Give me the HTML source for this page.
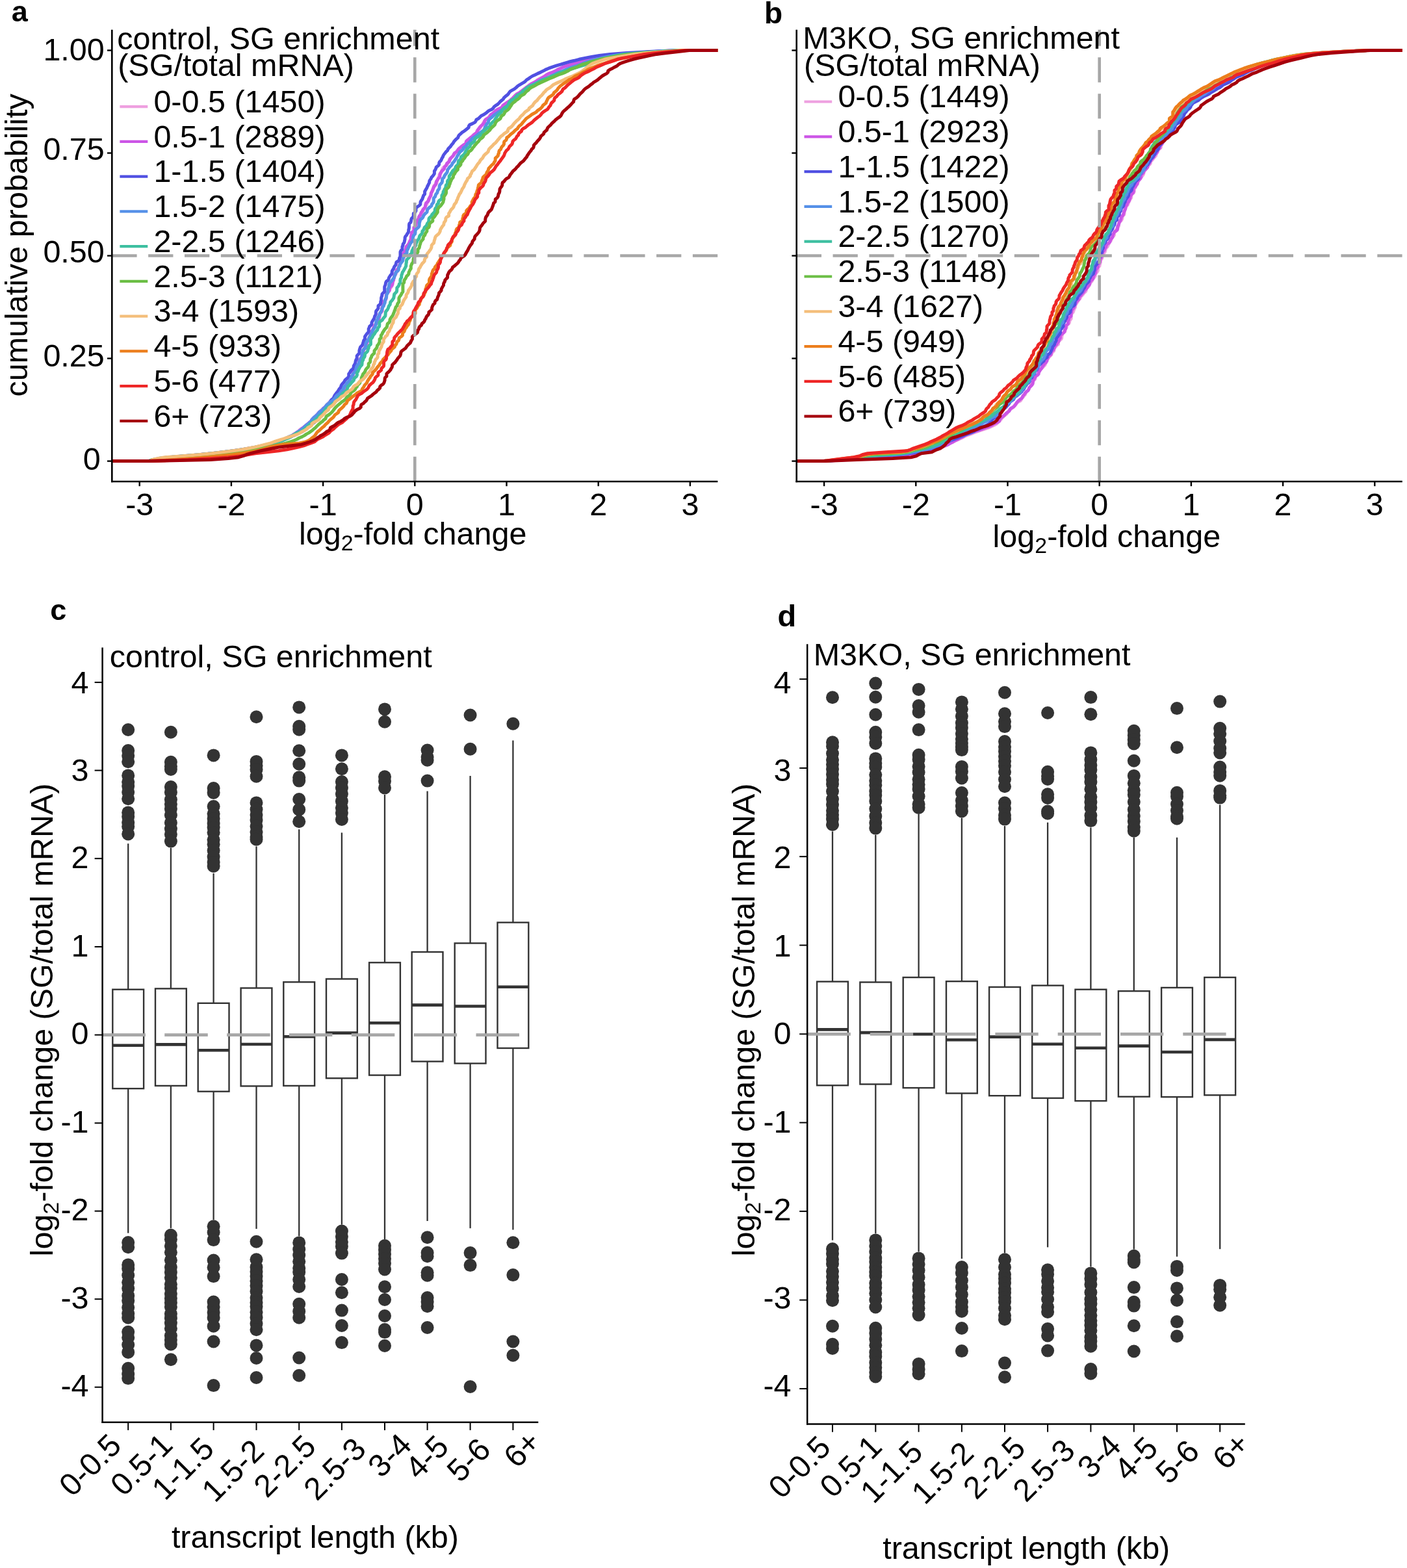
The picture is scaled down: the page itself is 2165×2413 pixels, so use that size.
<!DOCTYPE html>
<html><head><meta charset="utf-8"><title>Figure</title>
<style>html,body{margin:0;padding:0;background:#fff;} svg{display:block;} text{font-family:'Liberation Sans', Arial, Helvetica, sans-serif;fill:#000;}</style>
</head><body>
<svg xmlns="http://www.w3.org/2000/svg" width="2165" height="2413" viewBox="0 0 2165 2413">
<rect width="2165" height="2413" fill="#fff"/>
<g fill="none" stroke-width="5.0" stroke-linejoin="round" stroke-linecap="butt">
<path d="M172.5,709.6 L229.7,709.6 L229.7,709.6 L235.6,707.6 L247.0,705.6 L260.7,703.7 L283.4,701.7 L305.7,699.7 L326.5,697.7 L344.0,695.8 L359.5,693.8 L372.4,691.8 L384.0,689.8 L395.0,687.9 L404.1,685.9 L412.9,683.9 L420.2,681.9 L427.4,680.0 L433.7,678.0 L438.1,676.0 L441.8,674.0 L446.3,672.1 L449.5,670.1 L451.7,668.1 L455.5,666.1 L458.9,664.2 L460.4,662.2 L463.0,660.2 L466.3,658.2 L468.6,656.3 L470.4,654.3 L473.4,652.3 L476.8,650.3 L478.6,648.4 L479.6,646.4 L481.8,644.4 L484.4,642.4 L485.9,640.5 L487.6,638.5 L490.2,636.5 L491.7,634.5 L492.6,632.6 L495.0,630.6 L497.7,628.6 L500.2,626.6 L501.5,624.7 L502.7,622.7 L505.1,620.7 L506.7,618.7 L509.4,616.8 L512.8,614.8 L514.4,612.8 L516.9,610.8 L519.8,608.9 L521.4,606.9 L523.0,604.9 L525.0,602.9 L525.8,601.0 L527.3,599.0 L529.9,597.0 L530.1,595.0 L531.5,593.1 L533.8,591.1 L535.4,589.1 L536.7,587.1 L537.6,585.2 L539.3,583.2 L540.1,581.2 L541.4,579.2 L543.0,577.3 L544.1,575.3 L545.0,573.3 L546.4,571.3 L548.0,569.4 L548.3,567.4 L549.2,565.4 L551.0,563.4 L552.5,561.5 L552.5,559.5 L552.5,557.5 L554.1,555.5 L554.4,553.6 L554.4,551.6 L555.9,549.6 L556.5,547.6 L556.9,545.6 L559.1,543.7 L559.1,541.7 L559.1,539.7 L559.5,537.7 L560.6,535.8 L563.0,533.8 L564.8,531.8 L564.8,529.8 L564.8,527.9 L565.4,525.9 L567.5,523.9 L568.3,521.9 L568.3,520.0 L568.7,518.0 L570.0,516.0 L570.7,514.0 L571.2,512.1 L572.5,510.1 L574.0,508.1 L574.6,506.1 L575.3,504.2 L575.5,502.2 L576.3,500.2 L578.6,498.2 L579.6,496.3 L579.6,494.3 L580.7,492.3 L582.7,490.3 L583.9,488.4 L584.5,486.4 L584.5,484.4 L584.5,482.4 L585.6,480.5 L588.5,478.5 L588.5,476.5 L588.5,474.5 L588.5,472.6 L588.9,470.6 L589.1,468.6 L590.0,466.6 L590.9,464.7 L592.4,462.7 L593.0,460.7 L593.7,458.7 L594.2,456.8 L594.7,454.8 L594.7,452.8 L594.7,450.8 L597.1,448.9 L598.6,446.9 L599.6,444.9 L601.2,442.9 L602.6,441.0 L603.6,439.0 L604.3,437.0 L604.6,435.0 L604.6,433.1 L604.8,431.1 L605.6,429.1 L606.2,427.1 L606.9,425.2 L608.2,423.2 L609.4,421.2 L610.1,419.2 L610.1,417.3 L610.6,415.3 L612.6,413.3 L614.1,411.3 L615.1,409.4 L615.1,407.4 L615.1,405.4 L617.4,403.4 L619.1,401.5 L619.8,399.5 L621.4,397.5 L621.4,395.5 L621.4,393.6 L622.4,391.6 L623.3,389.6 L624.3,387.6 L625.0,385.6 L625.8,383.7 L625.8,381.7 L626.5,379.7 L627.9,377.7 L629.0,375.8 L630.1,373.8 L631.3,371.8 L632.9,369.8 L633.7,367.9 L634.3,365.9 L635.0,363.9 L635.5,361.9 L636.2,360.0 L637.0,358.0 L638.2,356.0 L639.3,354.0 L640.2,352.1 L640.3,350.1 L641.3,348.1 L642.4,346.1 L642.4,344.2 L643.5,342.2 L644.4,340.2 L645.5,338.2 L646.4,336.3 L646.5,334.3 L647.2,332.3 L649.4,330.3 L650.7,328.4 L650.7,326.4 L651.1,324.4 L651.8,322.4 L653.7,320.5 L654.6,318.5 L654.8,316.5 L656.8,314.5 L656.8,312.6 L657.3,310.6 L659.5,308.6 L660.4,306.6 L660.8,304.7 L661.9,302.7 L662.7,300.7 L663.2,298.7 L663.8,296.8 L664.8,294.8 L665.2,292.8 L666.1,290.8 L667.3,288.9 L667.3,286.9 L668.5,284.9 L671.0,282.9 L672.3,281.0 L672.3,279.0 L673.0,277.0 L674.0,275.0 L674.6,273.1 L676.0,271.1 L676.0,269.1 L677.0,267.1 L678.9,265.2 L679.5,263.2 L680.5,261.2 L681.2,259.2 L682.8,257.3 L685.3,255.3 L688.1,253.3 L688.9,251.3 L690.0,249.4 L691.3,247.4 L691.3,245.4 L693.0,243.4 L695.9,241.5 L697.3,239.5 L699.0,237.5 L701.4,235.5 L702.6,233.5 L703.4,231.6 L705.7,229.6 L708.4,227.6 L710.2,225.6 L712.9,223.7 L716.0,221.7 L717.2,219.7 L718.5,217.7 L721.2,215.8 L723.0,213.8 L725.0,211.8 L726.3,209.8 L728.1,207.9 L731.3,205.9 L733.2,203.9 L733.6,201.9 L735.3,200.0 L738.1,198.0 L739.5,196.0 L740.0,194.0 L742.1,192.1 L743.2,190.1 L744.1,188.1 L746.3,186.1 L747.0,184.2 L749.5,182.2 L752.4,180.2 L753.4,178.2 L755.9,176.3 L758.9,174.3 L760.2,172.3 L762.8,170.3 L766.7,168.4 L770.0,166.4 L772.4,164.4 L774.6,162.4 L777.2,160.5 L779.5,158.5 L782.2,156.5 L784.8,154.5 L786.7,152.6 L789.4,150.6 L791.0,148.6 L792.8,146.6 L796.7,144.7 L799.8,142.7 L801.4,140.7 L804.1,138.7 L806.7,136.8 L809.5,134.8 L812.3,132.8 L815.2,130.8 L817.8,128.9 L821.4,126.9 L825.2,124.9 L826.9,122.9 L830.4,121.0 L834.6,119.0 L838.3,117.0 L841.6,115.0 L845.5,113.1 L852.1,111.1 L855.1,109.1 L857.4,107.1 L862.2,105.2 L866.9,103.2 L871.3,101.2 L876.5,99.2 L883.9,97.3 L891.1,95.3 L899.1,93.3 L906.9,91.3 L915.4,89.4 L928.2,87.4 L940.0,85.4 L952.3,83.4 L975.5,81.5 L1006.5,79.5 L1040.4,77.5 L1104.4,77.5" stroke="#EEA0E0"/>
<path d="M172.5,709.6 L229.7,709.6 L229.7,709.6 L235.4,707.6 L246.6,705.6 L261.2,703.7 L285.1,701.7 L306.4,699.7 L325.4,697.7 L342.6,695.8 L358.4,693.8 L373.5,691.8 L384.7,689.8 L394.5,687.9 L403.0,685.9 L411.6,683.9 L420.1,681.9 L427.9,680.0 L434.5,678.0 L438.7,676.0 L442.5,674.0 L446.3,672.1 L450.3,670.1 L453.2,668.1 L455.7,666.1 L458.8,664.2 L461.5,662.2 L463.8,660.2 L466.5,658.2 L469.0,656.3 L471.9,654.3 L473.7,652.3 L475.8,650.3 L478.4,648.4 L479.5,646.4 L481.0,644.4 L483.0,642.4 L485.4,640.5 L487.4,638.5 L489.1,636.5 L491.0,634.5 L494.3,632.6 L496.5,630.6 L497.2,628.6 L499.7,626.6 L502.1,624.7 L504.0,622.7 L506.6,620.7 L508.2,618.7 L509.0,616.8 L511.1,614.8 L514.6,612.8 L516.7,610.8 L518.6,608.9 L521.3,606.9 L522.7,604.9 L524.7,602.9 L527.6,601.0 L529.2,599.0 L530.5,597.0 L532.0,595.0 L534.1,593.1 L535.1,591.1 L535.2,589.1 L536.8,587.1 L537.7,585.2 L537.8,583.2 L539.0,581.2 L541.3,579.2 L543.2,577.3 L543.3,575.3 L543.3,573.3 L544.8,571.3 L546.8,569.4 L547.9,567.4 L549.3,565.4 L551.0,563.4 L551.6,561.5 L552.1,559.5 L552.2,557.5 L552.2,555.5 L553.6,553.6 L555.4,551.6 L556.5,549.6 L557.2,547.6 L558.1,545.6 L558.9,543.7 L558.9,541.7 L558.9,539.7 L560.2,537.7 L561.8,535.8 L561.8,533.8 L562.6,531.8 L564.0,529.8 L564.1,527.9 L565.4,525.9 L566.8,523.9 L566.8,521.9 L567.8,520.0 L569.6,518.0 L569.6,516.0 L570.2,514.0 L570.4,512.1 L571.1,510.1 L573.3,508.1 L574.2,506.1 L574.9,504.2 L576.1,502.2 L577.2,500.2 L578.8,498.2 L579.6,496.3 L579.8,494.3 L581.0,492.3 L583.1,490.3 L583.4,488.4 L583.4,486.4 L583.5,484.4 L584.8,482.4 L586.7,480.5 L587.4,478.5 L587.7,476.5 L587.7,474.5 L588.3,472.6 L589.9,470.6 L589.9,468.6 L589.9,466.6 L590.5,464.7 L591.9,462.7 L593.8,460.7 L594.2,458.7 L594.2,456.8 L594.3,454.8 L594.6,452.8 L595.1,450.8 L597.9,448.9 L599.4,446.9 L599.4,444.9 L599.6,442.9 L601.2,441.0 L603.1,439.0 L603.7,437.0 L603.9,435.0 L604.6,433.1 L605.7,431.1 L605.9,429.1 L606.7,427.1 L606.7,425.2 L606.7,423.2 L607.9,421.2 L609.3,419.2 L609.6,417.3 L610.7,415.3 L612.7,413.3 L613.5,411.3 L613.9,409.4 L614.9,407.4 L615.8,405.4 L615.8,403.4 L616.0,401.5 L618.1,399.5 L618.4,397.5 L618.6,395.5 L619.8,393.6 L620.1,391.6 L620.6,389.6 L622.0,387.6 L623.6,385.6 L624.6,383.7 L624.6,381.7 L625.0,379.7 L626.9,377.7 L628.5,375.8 L629.5,373.8 L630.3,371.8 L631.4,369.8 L632.2,367.9 L632.2,365.9 L632.3,363.9 L633.1,361.9 L633.1,360.0 L633.1,358.0 L635.9,356.0 L636.9,354.0 L636.9,352.1 L636.9,350.1 L638.9,348.1 L639.9,346.1 L640.0,344.2 L640.7,342.2 L641.2,340.2 L642.8,338.2 L644.2,336.3 L644.3,334.3 L645.3,332.3 L647.0,330.3 L647.6,328.4 L648.5,326.4 L650.0,324.4 L650.9,322.4 L652.7,320.5 L654.3,318.5 L654.6,316.5 L654.9,314.5 L655.6,312.6 L658.3,310.6 L659.3,308.6 L659.6,306.6 L660.8,304.7 L661.7,302.7 L663.1,300.7 L663.1,298.7 L663.4,296.8 L664.7,294.8 L665.7,292.8 L666.4,290.8 L667.0,288.9 L668.2,286.9 L670.0,284.9 L670.9,282.9 L670.9,281.0 L671.6,279.0 L673.1,277.0 L674.2,275.0 L676.2,273.1 L676.9,271.1 L677.0,269.1 L677.7,267.1 L678.7,265.2 L680.0,263.2 L682.2,261.2 L683.9,259.2 L684.0,257.3 L686.1,255.3 L687.0,253.3 L687.8,251.3 L690.5,249.4 L691.7,247.4 L692.5,245.4 L693.7,243.4 L695.3,241.5 L697.5,239.5 L698.2,237.5 L699.4,235.5 L702.6,233.5 L704.5,231.6 L705.3,229.6 L707.5,227.6 L710.0,225.6 L712.5,223.7 L715.7,221.7 L717.2,219.7 L717.3,217.7 L719.1,215.8 L721.5,213.8 L723.9,211.8 L727.2,209.8 L729.0,207.9 L731.1,205.9 L733.6,203.9 L734.7,201.9 L735.2,200.0 L736.7,198.0 L738.0,196.0 L740.0,194.0 L742.3,192.1 L744.0,190.1 L745.6,188.1 L745.6,186.1 L747.1,184.2 L750.5,182.2 L753.1,180.2 L754.3,178.2 L755.4,176.3 L758.5,174.3 L761.1,172.3 L763.0,170.3 L765.7,168.4 L770.5,166.4 L773.2,164.4 L773.7,162.4 L776.2,160.5 L779.2,158.5 L782.5,156.5 L785.4,154.5 L787.6,152.6 L789.5,150.6 L791.5,148.6 L793.6,146.6 L795.2,144.7 L799.2,142.7 L802.4,140.7 L804.5,138.7 L807.3,136.8 L809.5,134.8 L812.4,132.8 L814.7,130.8 L817.8,128.9 L821.9,126.9 L825.5,124.9 L828.9,122.9 L832.4,121.0 L835.7,119.0 L838.7,117.0 L841.2,115.0 L844.7,113.1 L850.5,111.1 L854.8,109.1 L858.5,107.1 L862.6,105.2 L866.6,103.2 L873.1,101.2 L879.5,99.2 L885.4,97.3 L892.1,95.3 L898.4,93.3 L905.1,91.3 L914.6,89.4 L925.7,87.4 L936.8,85.4 L952.8,83.4 L977.2,81.5 L1007.3,79.5 L1040.5,77.5 L1104.4,77.5" stroke="#CC55E6"/>
<path d="M172.5,709.6 L230.7,709.6 L230.7,709.6 L236.3,707.6 L248.3,705.6 L268.3,703.7 L291.6,701.7 L313.8,699.7 L334.3,697.7 L353.0,695.8 L367.9,693.8 L380.4,691.8 L390.5,689.8 L398.9,687.9 L406.7,685.9 L414.8,683.9 L422.2,681.9 L427.7,680.0 L432.5,678.0 L436.8,676.0 L442.7,674.0 L448.0,672.1 L452.1,670.1 L456.6,668.1 L460.7,666.1 L465.0,664.2 L467.5,662.2 L470.7,660.2 L473.0,658.2 L475.6,656.3 L477.9,654.3 L479.8,652.3 L483.5,650.3 L485.4,648.4 L486.6,646.4 L487.8,644.4 L489.5,642.4 L492.1,640.5 L494.4,638.5 L495.2,636.5 L495.5,634.5 L497.6,632.6 L499.0,630.6 L499.8,628.6 L501.7,626.6 L503.8,624.7 L505.7,622.7 L506.9,620.7 L508.3,618.7 L509.0,616.8 L510.5,614.8 L512.9,612.8 L513.9,610.8 L514.8,608.9 L516.1,606.9 L517.6,604.9 L519.4,602.9 L520.6,601.0 L521.8,599.0 L523.6,597.0 L524.7,595.0 L525.1,593.1 L526.5,591.1 L528.5,589.1 L530.0,587.1 L530.8,585.2 L533.0,583.2 L535.4,581.2 L536.7,579.2 L536.7,577.3 L536.7,575.3 L538.4,573.3 L539.3,571.3 L540.7,569.4 L543.3,567.4 L544.2,565.4 L544.2,563.4 L545.1,561.5 L546.4,559.5 L546.9,557.5 L547.2,555.5 L547.9,553.6 L549.2,551.6 L549.2,549.6 L549.2,547.6 L550.9,545.6 L552.9,543.7 L552.9,541.7 L552.9,539.7 L553.4,537.7 L554.0,535.8 L554.7,533.8 L557.0,531.8 L558.1,529.8 L558.6,527.9 L559.3,525.9 L559.7,523.9 L561.5,521.9 L561.5,520.0 L561.5,518.0 L562.9,516.0 L564.2,514.0 L566.1,512.1 L567.2,510.1 L567.2,508.1 L567.2,506.1 L568.1,504.2 L568.7,502.2 L571.2,500.2 L572.0,498.2 L572.0,496.3 L573.0,494.3 L574.3,492.3 L575.7,490.3 L576.2,488.4 L576.7,486.4 L578.1,484.4 L578.4,482.4 L578.4,480.5 L578.8,478.5 L580.7,476.5 L582.0,474.5 L582.0,472.6 L582.1,470.6 L584.8,468.6 L585.7,466.6 L585.7,464.7 L586.4,462.7 L586.6,460.7 L586.6,458.7 L587.1,456.8 L587.9,454.8 L587.9,452.8 L589.5,450.8 L591.7,448.9 L591.7,446.9 L591.7,444.9 L591.7,442.9 L591.8,441.0 L592.8,439.0 L593.3,437.0 L593.6,435.0 L594.5,433.1 L597.4,431.1 L598.1,429.1 L598.6,427.1 L599.9,425.2 L601.2,423.2 L602.8,421.2 L603.2,419.2 L603.3,417.3 L604.4,415.3 L605.8,413.3 L606.3,411.3 L607.5,409.4 L609.1,407.4 L609.4,405.4 L610.0,403.4 L613.1,401.5 L614.5,399.5 L614.5,397.5 L615.6,395.5 L616.0,393.6 L616.0,391.6 L616.0,389.6 L616.0,387.6 L617.0,385.6 L619.0,383.7 L619.0,381.7 L619.0,379.7 L620.0,377.7 L620.1,375.8 L621.6,373.8 L622.3,371.8 L622.7,369.8 L623.1,367.9 L623.1,365.9 L623.8,363.9 L625.6,361.9 L626.5,360.0 L628.0,358.0 L628.7,356.0 L628.7,354.0 L629.2,352.1 L629.5,350.1 L629.5,348.1 L629.5,346.1 L629.8,344.2 L632.0,342.2 L632.5,340.2 L632.7,338.2 L633.3,336.3 L635.3,334.3 L636.2,332.3 L636.2,330.3 L636.3,328.4 L639.0,326.4 L640.0,324.4 L640.0,322.4 L640.0,320.5 L641.9,318.5 L644.9,316.5 L646.8,314.5 L646.9,312.6 L647.1,310.6 L648.3,308.6 L649.8,306.6 L650.3,304.7 L651.1,302.7 L651.7,300.7 L653.6,298.7 L653.6,296.8 L653.6,294.8 L654.7,292.8 L655.8,290.8 L657.0,288.9 L657.6,286.9 L658.8,284.9 L659.6,282.9 L660.7,281.0 L660.7,279.0 L661.6,277.0 L663.2,275.0 L663.8,273.1 L665.8,271.1 L667.2,269.1 L668.4,267.1 L668.4,265.2 L668.4,263.2 L669.8,261.2 L670.8,259.2 L671.2,257.3 L673.9,255.3 L675.6,253.3 L675.6,251.3 L676.2,249.4 L678.3,247.4 L679.3,245.4 L680.1,243.4 L681.4,241.5 L682.0,239.5 L683.3,237.5 L684.9,235.5 L686.4,233.5 L688.6,231.6 L689.3,229.6 L690.9,227.6 L693.1,225.6 L694.3,223.7 L696.0,221.7 L697.5,219.7 L698.6,217.7 L700.4,215.8 L702.3,213.8 L704.7,211.8 L705.3,209.8 L706.5,207.9 L708.8,205.9 L710.8,203.9 L714.1,201.9 L716.5,200.0 L719.0,198.0 L721.3,196.0 L721.4,194.0 L722.7,192.1 L727.2,190.1 L730.9,188.1 L732.3,186.1 L732.9,184.2 L736.5,182.2 L738.7,180.2 L740.5,178.2 L744.5,176.3 L747.4,174.3 L749.8,172.3 L752.4,170.3 L756.4,168.4 L759.0,166.4 L760.1,164.4 L762.7,162.4 L765.8,160.5 L767.9,158.5 L769.5,156.5 L771.9,154.5 L774.3,152.6 L775.3,150.6 L777.5,148.6 L780.1,146.6 L782.1,144.7 L783.3,142.7 L784.9,140.7 L788.4,138.7 L791.6,136.8 L794.0,134.8 L796.2,132.8 L799.1,130.8 L802.4,128.9 L805.8,126.9 L808.5,124.9 L810.3,122.9 L813.5,121.0 L816.1,119.0 L819.3,117.0 L823.8,115.0 L827.5,113.1 L832.0,111.1 L836.2,109.1 L839.6,107.1 L844.2,105.2 L849.9,103.2 L855.8,101.2 L862.8,99.2 L868.5,97.3 L875.3,95.3 L883.7,93.3 L891.2,91.3 L900.1,89.4 L910.2,87.4 L922.2,85.4 L938.7,83.4 L964.0,81.5 L999.1,79.5 L1039.2,77.5 L1104.4,77.5" stroke="#5050E2"/>
<path d="M172.5,709.6 L230.1,709.6 L230.1,709.6 L234.7,707.6 L244.2,705.6 L257.9,703.7 L282.0,701.7 L306.7,699.7 L327.1,697.7 L344.0,695.8 L360.0,693.8 L373.0,691.8 L385.1,689.8 L395.2,687.9 L403.5,685.9 L414.3,683.9 L422.0,681.9 L427.4,680.0 L432.8,678.0 L437.6,676.0 L441.0,674.0 L444.5,672.1 L450.2,670.1 L454.1,668.1 L456.1,666.1 L459.2,664.2 L462.3,662.2 L464.8,660.2 L467.4,658.2 L468.9,656.3 L471.3,654.3 L474.1,652.3 L476.3,650.3 L478.7,648.4 L479.6,646.4 L481.4,644.4 L483.2,642.4 L485.6,640.5 L488.0,638.5 L489.8,636.5 L491.1,634.5 L493.5,632.6 L496.0,630.6 L497.9,628.6 L500.7,626.6 L501.5,624.7 L503.3,622.7 L505.8,620.7 L508.0,618.7 L511.3,616.8 L513.6,614.8 L515.5,612.8 L516.5,610.8 L518.1,608.9 L520.9,606.9 L523.3,604.9 L524.5,602.9 L526.0,601.0 L528.2,599.0 L528.7,597.0 L529.4,595.0 L531.9,593.1 L533.3,591.1 L533.8,589.1 L536.3,587.1 L538.5,585.2 L539.2,583.2 L540.3,581.2 L541.4,579.2 L542.3,577.3 L543.4,575.3 L545.0,573.3 L547.0,571.3 L547.5,569.4 L547.7,567.4 L548.8,565.4 L549.1,563.4 L550.2,561.5 L552.3,559.5 L552.5,557.5 L553.3,555.5 L554.3,553.6 L555.3,551.6 L557.0,549.6 L557.0,547.6 L557.0,545.6 L557.0,543.7 L557.9,541.7 L558.1,539.7 L559.5,537.7 L561.8,535.8 L562.7,533.8 L562.7,531.8 L562.7,529.8 L563.1,527.9 L564.3,525.9 L565.8,523.9 L567.1,521.9 L567.7,520.0 L568.9,518.0 L569.8,516.0 L571.2,514.0 L572.5,512.1 L572.8,510.1 L573.5,508.1 L574.9,506.1 L576.5,504.2 L577.2,502.2 L578.1,500.2 L578.6,498.2 L578.6,496.3 L579.0,494.3 L580.4,492.3 L581.5,490.3 L581.5,488.4 L583.2,486.4 L584.3,484.4 L584.3,482.4 L585.8,480.5 L586.9,478.5 L587.6,476.5 L588.3,474.5 L588.9,472.6 L590.5,470.6 L590.9,468.6 L592.0,466.6 L592.4,464.7 L592.4,462.7 L592.9,460.7 L594.2,458.7 L594.7,456.8 L594.7,454.8 L595.3,452.8 L596.7,450.8 L596.8,448.9 L596.8,446.9 L596.8,444.9 L598.0,442.9 L598.3,441.0 L598.7,439.0 L598.9,437.0 L599.8,435.0 L602.0,433.1 L603.6,431.1 L604.9,429.1 L606.3,427.1 L606.8,425.2 L607.9,423.2 L608.7,421.2 L609.0,419.2 L611.6,417.3 L613.3,415.3 L613.3,413.3 L613.5,411.3 L615.2,409.4 L615.4,407.4 L616.7,405.4 L618.1,403.4 L619.7,401.5 L619.8,399.5 L619.8,397.5 L621.3,395.5 L621.5,393.6 L623.2,391.6 L626.1,389.6 L626.1,387.6 L626.2,385.6 L627.4,383.7 L628.2,381.7 L629.0,379.7 L630.2,377.7 L630.9,375.8 L632.1,373.8 L633.9,371.8 L635.4,369.8 L635.4,367.9 L635.4,365.9 L635.9,363.9 L636.8,361.9 L638.6,360.0 L639.0,358.0 L639.0,356.0 L639.3,354.0 L641.1,352.1 L643.6,350.1 L645.0,348.1 L645.2,346.1 L645.2,344.2 L645.6,342.2 L646.3,340.2 L646.6,338.2 L649.1,336.3 L650.8,334.3 L651.5,332.3 L652.8,330.3 L654.7,328.4 L657.0,326.4 L657.3,324.4 L657.8,322.4 L659.4,320.5 L661.7,318.5 L664.1,316.5 L664.4,314.5 L666.0,312.6 L667.2,310.6 L667.2,308.6 L667.2,306.6 L667.4,304.7 L669.5,302.7 L670.1,300.7 L670.9,298.7 L672.7,296.8 L673.2,294.8 L673.8,292.8 L675.5,290.8 L676.1,288.9 L676.1,286.9 L676.6,284.9 L678.1,282.9 L680.0,281.0 L680.5,279.0 L680.5,277.0 L680.9,275.0 L683.0,273.1 L683.7,271.1 L684.9,269.1 L686.5,267.1 L688.0,265.2 L688.5,263.2 L688.7,261.2 L690.3,259.2 L691.7,257.3 L693.7,255.3 L695.5,253.3 L696.1,251.3 L698.0,249.4 L699.6,247.4 L700.7,245.4 L702.3,243.4 L703.1,241.5 L704.1,239.5 L705.7,237.5 L706.7,235.5 L708.1,233.5 L710.8,231.6 L712.8,229.6 L713.4,227.6 L716.3,225.6 L718.0,223.7 L718.8,221.7 L721.6,219.7 L723.8,217.7 L724.8,215.8 L726.1,213.8 L728.7,211.8 L731.7,209.8 L734.5,207.9 L736.7,205.9 L739.2,203.9 L742.4,201.9 L744.5,200.0 L745.6,198.0 L746.2,196.0 L747.3,194.0 L748.3,192.1 L749.6,190.1 L751.5,188.1 L751.7,186.1 L752.4,184.2 L754.4,182.2 L757.0,180.2 L759.1,178.2 L761.5,176.3 L764.5,174.3 L767.4,172.3 L770.5,170.3 L773.8,168.4 L777.3,166.4 L780.0,164.4 L781.3,162.4 L784.1,160.5 L787.3,158.5 L788.4,156.5 L790.4,154.5 L792.3,152.6 L793.4,150.6 L795.4,148.6 L798.8,146.6 L801.5,144.7 L803.0,142.7 L805.4,140.7 L807.4,138.7 L810.3,136.8 L813.7,134.8 L817.5,132.8 L819.9,130.8 L823.1,128.9 L827.7,126.9 L829.9,124.9 L834.3,122.9 L840.4,121.0 L845.0,119.0 L848.8,117.0 L852.9,115.0 L856.3,113.1 L861.1,111.1 L866.9,109.1 L871.0,107.1 L876.0,105.2 L881.4,103.2 L888.2,101.2 L893.8,99.2 L897.9,97.3 L903.1,95.3 L909.5,93.3 L917.5,91.3 L925.4,89.4 L934.1,87.4 L945.2,85.4 L958.7,83.4 L981.1,81.5 L1011.7,79.5 L1044.1,77.5 L1104.4,77.5" stroke="#5590E8"/>
<path d="M172.5,709.6 L228.9,709.6 L228.9,709.6 L233.6,707.6 L245.3,705.6 L260.3,703.7 L283.8,701.7 L306.9,699.7 L326.1,697.7 L343.5,695.8 L359.4,693.8 L373.8,691.8 L385.7,689.8 L394.2,687.9 L403.3,685.9 L412.4,683.9 L420.4,681.9 L428.0,680.0 L434.1,678.0 L439.4,676.0 L444.2,674.0 L447.6,672.1 L450.6,670.1 L453.6,668.1 L458.1,666.1 L462.7,664.2 L466.5,662.2 L468.7,660.2 L470.8,658.2 L473.4,656.3 L475.6,654.3 L477.2,652.3 L480.1,650.3 L483.1,648.4 L484.8,646.4 L487.4,644.4 L489.7,642.4 L490.7,640.5 L493.4,638.5 L496.7,636.5 L498.2,634.5 L499.6,632.6 L500.6,630.6 L502.2,628.6 L505.1,626.6 L508.2,624.7 L510.1,622.7 L513.1,620.7 L515.7,618.7 L517.3,616.8 L519.7,614.8 L520.5,612.8 L522.5,610.8 L525.3,608.9 L525.9,606.9 L527.8,604.9 L530.9,602.9 L532.7,601.0 L534.3,599.0 L534.6,597.0 L535.4,595.0 L537.3,593.1 L539.0,591.1 L540.7,589.1 L542.7,587.1 L544.4,585.2 L544.6,583.2 L546.0,581.2 L548.5,579.2 L549.4,577.3 L549.4,575.3 L549.4,573.3 L551.1,571.3 L551.5,569.4 L552.5,567.4 L553.6,565.4 L554.9,563.4 L556.8,561.5 L557.1,559.5 L557.1,557.5 L557.8,555.5 L558.9,553.6 L559.0,551.6 L560.7,549.6 L561.4,547.6 L561.4,545.6 L562.3,543.7 L564.7,541.7 L565.9,539.7 L566.1,537.7 L567.2,535.8 L567.3,533.8 L568.2,531.8 L570.4,529.8 L570.4,527.9 L570.4,525.9 L570.4,523.9 L570.4,521.9 L572.4,520.0 L573.4,518.0 L574.2,516.0 L576.1,514.0 L577.1,512.1 L578.5,510.1 L580.5,508.1 L581.2,506.1 L581.7,504.2 L583.6,502.2 L583.8,500.2 L583.8,498.2 L583.8,496.3 L585.4,494.3 L588.4,492.3 L589.5,490.3 L591.1,488.4 L592.8,486.4 L593.1,484.4 L593.2,482.4 L593.3,480.5 L594.4,478.5 L596.2,476.5 L597.2,474.5 L597.8,472.6 L598.6,470.6 L600.2,468.6 L600.5,466.6 L600.9,464.7 L602.9,462.7 L604.4,460.7 L605.7,458.7 L606.1,456.8 L606.4,454.8 L606.7,452.8 L608.6,450.8 L610.4,448.9 L610.7,446.9 L610.8,444.9 L610.8,442.9 L612.6,441.0 L613.9,439.0 L614.3,437.0 L615.9,435.0 L615.9,433.1 L615.9,431.1 L616.3,429.1 L617.7,427.1 L617.7,425.2 L617.9,423.2 L618.8,421.2 L619.2,419.2 L620.5,417.3 L621.7,415.3 L622.8,413.3 L623.8,411.3 L624.8,409.4 L624.8,407.4 L625.0,405.4 L625.4,403.4 L625.4,401.5 L626.0,399.5 L628.1,397.5 L629.9,395.5 L629.9,393.6 L631.1,391.6 L633.5,389.6 L633.7,387.6 L634.1,385.6 L635.3,383.7 L635.9,381.7 L638.3,379.7 L639.9,377.7 L639.9,375.8 L640.8,373.8 L641.7,371.8 L642.5,369.8 L644.2,367.9 L645.1,365.9 L645.4,363.9 L646.7,361.9 L648.8,360.0 L649.8,358.0 L649.8,356.0 L651.6,354.0 L652.5,352.1 L653.2,350.1 L655.4,348.1 L656.8,346.1 L657.4,344.2 L659.1,342.2 L659.9,340.2 L659.9,338.2 L660.1,336.3 L661.6,334.3 L664.0,332.3 L664.7,330.3 L666.5,328.4 L668.6,326.4 L669.3,324.4 L669.3,322.4 L670.0,320.5 L672.0,318.5 L672.0,316.5 L672.6,314.5 L674.6,312.6 L674.6,310.6 L675.9,308.6 L678.9,306.6 L679.9,304.7 L679.9,302.7 L679.9,300.7 L681.3,298.7 L681.8,296.8 L682.2,294.8 L683.5,292.8 L684.2,290.8 L685.9,288.9 L685.9,286.9 L686.4,284.9 L688.3,282.9 L688.5,281.0 L688.5,279.0 L689.6,277.0 L691.2,275.0 L691.2,273.1 L691.2,271.1 L692.8,269.1 L693.9,267.1 L695.3,265.2 L696.4,263.2 L698.6,261.2 L700.7,259.2 L700.9,257.3 L702.2,255.3 L704.6,253.3 L705.2,251.3 L705.2,249.4 L705.7,247.4 L708.4,245.4 L709.0,243.4 L709.5,241.5 L711.9,239.5 L714.0,237.5 L715.3,235.5 L716.3,233.5 L717.3,231.6 L718.3,229.6 L720.4,227.6 L722.8,225.6 L723.6,223.7 L724.4,221.7 L727.0,219.7 L729.7,217.7 L730.3,215.8 L730.7,213.8 L733.1,211.8 L736.6,209.8 L739.2,207.9 L741.4,205.9 L742.3,203.9 L744.0,201.9 L746.7,200.0 L748.2,198.0 L751.7,196.0 L753.9,194.0 L754.4,192.1 L755.9,190.1 L757.8,188.1 L760.4,186.1 L761.5,184.2 L762.6,182.2 L764.2,180.2 L765.4,178.2 L767.2,176.3 L769.7,174.3 L771.5,172.3 L772.9,170.3 L773.6,168.4 L775.7,166.4 L778.6,164.4 L781.1,162.4 L782.6,160.5 L783.0,158.5 L784.4,156.5 L786.8,154.5 L790.0,152.6 L792.6,150.6 L794.0,148.6 L795.8,146.6 L799.6,144.7 L802.4,142.7 L804.2,140.7 L806.6,138.7 L808.8,136.8 L811.1,134.8 L814.8,132.8 L819.6,130.8 L824.2,128.9 L827.3,126.9 L831.1,124.9 L835.8,122.9 L840.6,121.0 L844.7,119.0 L849.1,117.0 L855.0,115.0 L859.2,113.1 L863.8,111.1 L870.1,109.1 L876.1,107.1 L882.3,105.2 L888.7,103.2 L895.5,101.2 L902.5,99.2 L908.1,97.3 L914.2,95.3 L919.6,93.3 L924.5,91.3 L932.1,89.4 L940.2,87.4 L949.3,85.4 L961.3,83.4 L983.8,81.5 L1013.2,79.5 L1043.9,77.5 L1104.4,77.5" stroke="#3DBFA0"/>
<path d="M172.5,709.6 L229.4,709.6 L229.4,709.6 L237.0,707.6 L250.3,705.6 L268.4,703.7 L293.0,701.7 L320.0,699.7 L340.3,697.7 L358.0,695.8 L371.4,693.8 L383.3,691.8 L397.2,689.8 L410.1,687.9 L421.9,685.9 L432.6,683.9 L440.3,681.9 L446.5,680.0 L452.1,678.0 L456.9,676.0 L460.2,674.0 L464.8,672.1 L468.5,670.1 L471.3,668.1 L475.1,666.1 L477.8,664.2 L480.6,662.2 L482.7,660.2 L485.4,658.2 L487.1,656.3 L489.2,654.3 L491.2,652.3 L493.6,650.3 L496.4,648.4 L498.0,646.4 L501.0,644.4 L501.5,642.4 L502.4,640.5 L505.7,638.5 L508.2,636.5 L510.4,634.5 L512.1,632.6 L513.5,630.6 L515.1,628.6 L516.8,626.6 L518.8,624.7 L521.2,622.7 L523.5,620.7 L525.6,618.7 L528.7,616.8 L531.3,614.8 L532.6,612.8 L534.2,610.8 L537.1,608.9 L539.0,606.9 L539.7,604.9 L541.5,602.9 L544.6,601.0 L546.6,599.0 L547.5,597.0 L549.4,595.0 L550.2,593.1 L552.2,591.1 L553.9,589.1 L553.9,587.1 L555.7,585.2 L556.2,583.2 L556.2,581.2 L557.3,579.2 L558.0,577.3 L558.8,575.3 L560.6,573.3 L561.9,571.3 L562.5,569.4 L563.9,567.4 L566.0,565.4 L567.2,563.4 L567.2,561.5 L567.2,559.5 L569.4,557.5 L569.8,555.5 L569.8,553.6 L570.2,551.6 L571.5,549.6 L571.9,547.6 L573.6,545.6 L575.8,543.7 L576.0,541.7 L576.0,539.7 L577.6,537.7 L579.4,535.8 L580.2,533.8 L580.5,531.8 L582.2,529.8 L583.3,527.9 L584.1,525.9 L584.1,523.9 L584.1,521.9 L586.3,520.0 L586.3,518.0 L586.3,516.0 L588.0,514.0 L588.6,512.1 L589.9,510.1 L591.1,508.1 L592.7,506.1 L594.6,504.2 L595.6,502.2 L595.9,500.2 L596.4,498.2 L598.8,496.3 L599.9,494.3 L599.9,492.3 L600.7,490.3 L602.0,488.4 L603.7,486.4 L604.8,484.4 L605.5,482.4 L606.4,480.5 L607.0,478.5 L607.9,476.5 L608.4,474.5 L609.1,472.6 L611.1,470.6 L611.4,468.6 L612.3,466.6 L613.9,464.7 L613.9,462.7 L613.9,460.7 L613.9,458.7 L614.8,456.8 L616.4,454.8 L617.6,452.8 L618.5,450.8 L619.9,448.9 L619.9,446.9 L619.9,444.9 L619.9,442.9 L619.9,441.0 L619.9,439.0 L619.9,437.0 L621.6,435.0 L621.9,433.1 L622.0,431.1 L623.7,429.1 L624.8,427.1 L625.6,425.2 L627.8,423.2 L629.0,421.2 L629.0,419.2 L630.0,417.3 L630.9,415.3 L632.3,413.3 L632.3,411.3 L632.3,409.4 L633.1,407.4 L634.0,405.4 L635.5,403.4 L636.0,401.5 L636.0,399.5 L636.4,397.5 L637.7,395.5 L638.9,393.6 L640.4,391.6 L642.0,389.6 L643.0,387.6 L643.0,385.6 L643.0,383.7 L644.9,381.7 L645.5,379.7 L645.8,377.7 L646.5,375.8 L647.1,373.8 L647.6,371.8 L649.4,369.8 L651.1,367.9 L651.1,365.9 L651.9,363.9 L653.7,361.9 L654.2,360.0 L655.3,358.0 L656.9,356.0 L656.9,354.0 L657.1,352.1 L659.7,350.1 L660.7,348.1 L660.7,346.1 L661.1,344.2 L663.2,342.2 L665.8,340.2 L665.8,338.2 L665.8,336.3 L667.9,334.3 L669.4,332.3 L670.6,330.3 L672.1,328.4 L673.3,326.4 L673.3,324.4 L673.3,322.4 L674.5,320.5 L675.7,318.5 L678.1,316.5 L679.6,314.5 L681.0,312.6 L682.1,310.6 L682.3,308.6 L683.0,306.6 L683.0,304.7 L683.0,302.7 L684.5,300.7 L685.8,298.7 L686.6,296.8 L686.6,294.8 L686.6,292.8 L687.1,290.8 L689.6,288.9 L691.0,286.9 L691.3,284.9 L692.3,282.9 L692.7,281.0 L693.6,279.0 L694.4,277.0 L695.6,275.0 L697.2,273.1 L697.5,271.1 L698.1,269.1 L699.7,267.1 L700.6,265.2 L702.2,263.2 L704.4,261.2 L704.5,259.2 L704.8,257.3 L707.4,255.3 L709.0,253.3 L709.0,251.3 L709.8,249.4 L711.8,247.4 L712.7,245.4 L714.7,243.4 L715.9,241.5 L717.1,239.5 L719.6,237.5 L720.7,235.5 L721.3,233.5 L724.5,231.6 L726.2,229.6 L727.4,227.6 L729.3,225.6 L730.5,223.7 L732.4,221.7 L734.1,219.7 L736.3,217.7 L737.4,215.8 L739.1,213.8 L742.1,211.8 L743.8,209.8 L744.1,207.9 L746.8,205.9 L749.6,203.9 L751.7,201.9 L753.9,200.0 L755.1,198.0 L756.9,196.0 L759.3,194.0 L761.3,192.1 L762.1,190.1 L762.9,188.1 L764.5,186.1 L767.6,184.2 L770.1,182.2 L770.7,180.2 L772.1,178.2 L775.0,176.3 L776.2,174.3 L776.9,172.3 L779.6,170.3 L782.1,168.4 L783.9,166.4 L784.9,164.4 L786.4,162.4 L787.5,160.5 L789.2,158.5 L792.1,156.5 L794.0,154.5 L797.0,152.6 L799.3,150.6 L800.6,148.6 L803.3,146.6 L806.7,144.7 L808.3,142.7 L810.1,140.7 L813.0,138.7 L814.5,136.8 L817.2,134.8 L821.2,132.8 L824.7,130.8 L828.0,128.9 L832.2,126.9 L836.7,124.9 L841.1,122.9 L845.4,121.0 L850.7,119.0 L854.9,117.0 L859.5,115.0 L865.1,113.1 L870.1,111.1 L874.3,109.1 L876.8,107.1 L881.9,105.2 L888.1,103.2 L891.4,101.2 L896.1,99.2 L902.9,97.3 L908.4,95.3 L915.5,93.3 L923.1,91.3 L932.0,89.4 L943.3,87.4 L954.4,85.4 L967.7,83.4 L989.5,81.5 L1017.1,79.5 L1048.6,77.5 L1104.4,77.5" stroke="#6BBE45"/>
<path d="M172.5,709.6 L230.3,709.6 L230.3,709.6 L233.9,707.6 L241.9,705.6 L253.7,703.7 L281.5,701.7 L305.6,699.7 L326.0,697.7 L342.9,695.8 L358.7,693.8 L372.7,691.8 L383.3,689.8 L393.0,687.9 L401.1,685.9 L408.7,683.9 L416.6,681.9 L421.5,680.0 L427.8,678.0 L434.0,676.0 L439.7,674.0 L445.9,672.1 L452.1,670.1 L458.1,668.1 L461.9,666.1 L465.0,664.2 L469.1,662.2 L472.3,660.2 L473.7,658.2 L477.4,656.3 L479.9,654.3 L479.9,652.3 L482.5,650.3 L486.1,648.4 L489.9,646.4 L491.5,644.4 L492.5,642.4 L494.9,640.5 L497.0,638.5 L499.0,636.5 L500.5,634.5 L502.6,632.6 L505.4,630.6 L505.7,628.6 L507.3,626.6 L510.7,624.7 L513.0,622.7 L514.5,620.7 L515.6,618.7 L517.7,616.8 L521.0,614.8 L523.4,612.8 L525.1,610.8 L528.7,608.9 L531.2,606.9 L532.6,604.9 L535.4,602.9 L538.4,601.0 L541.4,599.0 L543.0,597.0 L543.9,595.0 L546.6,593.1 L550.1,591.1 L551.7,589.1 L553.3,587.1 L556.5,585.2 L559.1,583.2 L561.0,581.2 L562.7,579.2 L564.1,577.3 L565.4,575.3 L568.0,573.3 L569.2,571.3 L570.5,569.4 L571.5,567.4 L573.6,565.4 L574.4,563.4 L574.6,561.5 L576.1,559.5 L576.1,557.5 L577.3,555.5 L577.9,553.6 L579.9,551.6 L581.1,549.6 L581.1,547.6 L581.1,545.6 L582.9,543.7 L582.9,541.7 L583.3,539.7 L584.8,537.7 L585.7,535.8 L586.9,533.8 L587.3,531.8 L587.6,529.8 L589.0,527.9 L590.3,525.9 L590.3,523.9 L590.4,521.9 L592.0,520.0 L593.1,518.0 L595.6,516.0 L596.5,514.0 L596.5,512.1 L598.6,510.1 L599.6,508.1 L599.9,506.1 L601.4,504.2 L602.3,502.2 L602.7,500.2 L603.9,498.2 L605.1,496.3 L605.3,494.3 L605.5,492.3 L606.8,490.3 L609.2,488.4 L610.1,486.4 L611.0,484.4 L612.3,482.4 L612.5,480.5 L612.5,478.5 L613.1,476.5 L615.4,474.5 L615.4,472.6 L616.8,470.6 L618.7,468.6 L619.6,466.6 L620.3,464.7 L621.1,462.7 L622.2,460.7 L623.7,458.7 L625.0,456.8 L625.0,454.8 L625.6,452.8 L627.4,450.8 L628.2,448.9 L628.4,446.9 L630.1,444.9 L631.4,442.9 L632.6,441.0 L633.6,439.0 L633.6,437.0 L634.9,435.0 L635.8,433.1 L638.1,431.1 L638.6,429.1 L639.2,427.1 L640.7,425.2 L640.7,423.2 L641.4,421.2 L643.2,419.2 L644.1,417.3 L644.1,415.3 L644.8,413.3 L646.5,411.3 L647.3,409.4 L648.6,407.4 L649.8,405.4 L652.0,403.4 L653.3,401.5 L653.3,399.5 L654.2,397.5 L656.4,395.5 L656.8,393.6 L656.8,391.6 L658.0,389.6 L659.8,387.6 L661.1,385.6 L662.6,383.7 L663.6,381.7 L664.1,379.7 L664.1,377.7 L665.4,375.8 L667.6,373.8 L667.9,371.8 L668.4,369.8 L669.1,367.9 L669.5,365.9 L670.3,363.9 L672.3,361.9 L674.9,360.0 L676.2,358.0 L677.2,356.0 L677.4,354.0 L678.3,352.1 L679.6,350.1 L680.8,348.1 L682.7,346.1 L683.0,344.2 L683.5,342.2 L685.2,340.2 L685.8,338.2 L685.8,336.3 L687.0,334.3 L690.6,332.3 L690.6,330.3 L690.6,328.4 L692.1,326.4 L693.1,324.4 L694.4,322.4 L696.4,320.5 L697.9,318.5 L698.5,316.5 L699.3,314.5 L701.0,312.6 L702.3,310.6 L702.7,308.6 L704.0,306.6 L704.4,304.7 L705.3,302.7 L706.2,300.7 L707.0,298.7 L708.7,296.8 L709.5,294.8 L710.5,292.8 L711.3,290.8 L712.7,288.9 L714.0,286.9 L714.5,284.9 L715.5,282.9 L716.4,281.0 L717.6,279.0 L719.0,277.0 L719.3,275.0 L721.6,273.1 L723.6,271.1 L723.6,269.1 L725.2,267.1 L725.8,265.2 L726.7,263.2 L729.4,261.2 L730.8,259.2 L732.0,257.3 L733.3,255.3 L734.5,253.3 L736.1,251.3 L737.9,249.4 L738.7,247.4 L740.3,245.4 L742.5,243.4 L743.5,241.5 L744.6,239.5 L746.5,237.5 L749.0,235.5 L751.1,233.5 L751.6,231.6 L752.4,229.6 L754.2,227.6 L756.4,225.6 L758.3,223.7 L760.0,221.7 L762.6,219.7 L764.3,217.7 L765.7,215.8 L767.6,213.8 L769.0,211.8 L770.9,209.8 L773.4,207.9 L775.4,205.9 L778.6,203.9 L781.4,201.9 L781.4,200.0 L782.4,198.0 L785.7,196.0 L788.0,194.0 L789.4,192.1 L791.0,190.1 L793.0,188.1 L794.7,186.1 L797.1,184.2 L799.2,182.2 L800.5,180.2 L802.3,178.2 L804.7,176.3 L806.3,174.3 L808.0,172.3 L811.0,170.3 L813.9,168.4 L814.2,166.4 L816.9,164.4 L819.7,162.4 L820.6,160.5 L822.1,158.5 L823.9,156.5 L826.5,154.5 L827.8,152.6 L829.5,150.6 L831.2,148.6 L833.6,146.6 L835.2,144.7 L836.6,142.7 L838.9,140.7 L840.3,138.7 L842.9,136.8 L846.2,134.8 L848.6,132.8 L850.8,130.8 L854.4,128.9 L858.8,126.9 L863.1,124.9 L867.4,122.9 L871.1,121.0 L876.0,119.0 L881.4,117.0 L885.5,115.0 L889.2,113.1 L893.1,111.1 L896.5,109.1 L899.1,107.1 L901.4,105.2 L903.5,103.2 L906.4,101.2 L909.2,99.2 L912.7,97.3 L918.1,95.3 L924.2,93.3 L930.5,91.3 L939.7,89.4 L951.3,87.4 L964.3,85.4 L977.4,83.4 L995.9,81.5 L1022.8,79.5 L1049.6,77.5 L1104.4,77.5" stroke="#F4BE7A"/>
<path d="M172.5,709.6 L229.5,709.6 L229.5,709.6 L268.0,707.6 L297.2,705.6 L317.8,703.7 L338.1,701.7 L357.5,699.7 L372.0,697.7 L384.7,695.8 L395.2,693.8 L403.8,691.8 L409.0,689.8 L415.1,687.9 L424.7,685.9 L436.4,683.9 L461.0,681.9 L470.1,680.0 L474.6,678.0 L477.7,676.0 L479.9,674.0 L482.7,672.1 L484.6,670.1 L486.1,668.1 L487.2,666.1 L489.0,664.2 L491.5,662.2 L493.6,660.2 L495.7,658.2 L498.3,656.3 L500.0,654.3 L502.0,652.3 L504.3,650.3 L505.9,648.4 L507.8,646.4 L510.2,644.4 L512.6,642.4 L514.1,640.5 L515.3,638.5 L518.3,636.5 L520.8,634.5 L521.1,632.6 L522.7,630.6 L525.1,628.6 L527.3,626.6 L529.1,624.7 L530.1,622.7 L532.9,620.7 L534.0,618.7 L534.4,616.8 L537.2,614.8 L539.7,612.8 L542.0,610.8 L544.5,608.9 L547.5,606.9 L549.3,604.9 L553.2,602.9 L557.0,601.0 L557.2,599.0 L558.4,597.0 L560.1,595.0 L560.7,593.1 L562.6,591.1 L564.5,589.1 L565.2,587.1 L566.4,585.2 L567.5,583.2 L569.3,581.2 L570.0,579.2 L572.0,577.3 L573.3,575.3 L573.5,573.3 L575.6,571.3 L577.6,569.4 L579.3,567.4 L580.5,565.4 L582.2,563.4 L584.0,561.5 L584.8,559.5 L586.6,557.5 L588.5,555.5 L589.2,553.6 L591.2,551.6 L593.2,549.6 L595.1,547.6 L597.2,545.6 L598.4,543.7 L600.0,541.7 L601.9,539.7 L602.5,537.7 L604.9,535.8 L607.3,533.8 L607.8,531.8 L609.7,529.8 L610.4,527.9 L610.8,525.9 L613.4,523.9 L614.0,521.9 L614.2,520.0 L617.4,518.0 L619.4,516.0 L619.4,514.0 L619.9,512.1 L622.0,510.1 L622.7,508.1 L623.4,506.1 L625.1,504.2 L626.2,502.2 L628.0,500.2 L629.1,498.2 L629.2,496.3 L630.4,494.3 L631.3,492.3 L631.8,490.3 L633.0,488.4 L634.1,486.4 L636.4,484.4 L639.0,482.4 L639.0,480.5 L639.0,478.5 L639.0,476.5 L641.3,474.5 L642.3,472.6 L643.4,470.6 L645.2,468.6 L645.5,466.6 L646.1,464.7 L646.9,462.7 L647.8,460.7 L648.7,458.7 L649.6,456.8 L652.0,454.8 L653.0,452.8 L653.6,450.8 L654.8,448.9 L654.8,446.9 L654.8,444.9 L656.0,442.9 L656.1,441.0 L656.8,439.0 L658.9,437.0 L660.5,435.0 L660.5,433.1 L660.5,431.1 L661.0,429.1 L662.4,427.1 L663.9,425.2 L664.3,423.2 L664.3,421.2 L665.2,419.2 L665.6,417.3 L666.6,415.3 L669.1,413.3 L669.2,411.3 L670.7,409.4 L672.6,407.4 L673.2,405.4 L674.6,403.4 L675.8,401.5 L677.2,399.5 L678.2,397.5 L678.3,395.5 L680.3,393.6 L682.5,391.6 L683.5,389.6 L684.9,387.6 L686.4,385.6 L687.5,383.7 L687.7,381.7 L690.4,379.7 L692.8,377.7 L692.9,375.8 L693.9,373.8 L695.4,371.8 L695.4,369.8 L695.4,367.9 L697.1,365.9 L698.8,363.9 L699.4,361.9 L700.1,360.0 L700.9,358.0 L701.6,356.0 L702.0,354.0 L702.9,352.1 L705.8,350.1 L706.3,348.1 L706.7,346.1 L707.6,344.2 L707.6,342.2 L710.6,340.2 L711.7,338.2 L711.7,336.3 L712.7,334.3 L712.7,332.3 L713.7,330.3 L716.8,328.4 L717.5,326.4 L717.7,324.4 L719.3,322.4 L721.6,320.5 L722.8,318.5 L724.2,316.5 L726.2,314.5 L726.2,312.6 L726.2,310.6 L727.3,308.6 L728.3,306.6 L729.6,304.7 L731.5,302.7 L731.5,300.7 L732.1,298.7 L733.5,296.8 L733.7,294.8 L734.6,292.8 L735.1,290.8 L735.5,288.9 L736.1,286.9 L736.3,284.9 L738.4,282.9 L740.8,281.0 L741.1,279.0 L741.9,277.0 L742.8,275.0 L743.1,273.1 L744.9,271.1 L747.4,269.1 L748.5,267.1 L749.2,265.2 L750.6,263.2 L751.5,261.2 L751.9,259.2 L753.8,257.3 L755.5,255.3 L757.6,253.3 L759.8,251.3 L760.5,249.4 L762.0,247.4 L762.2,245.4 L762.2,243.4 L764.5,241.5 L766.4,239.5 L766.6,237.5 L767.7,235.5 L767.7,233.5 L768.4,231.6 L770.6,229.6 L771.2,227.6 L772.5,225.6 L774.4,223.7 L775.5,221.7 L775.5,219.7 L775.9,217.7 L778.7,215.8 L779.6,213.8 L779.8,211.8 L782.8,209.8 L784.6,207.9 L786.7,205.9 L789.4,203.9 L791.4,201.9 L793.4,200.0 L796.2,198.0 L797.3,196.0 L798.9,194.0 L801.5,192.1 L803.2,190.1 L804.8,188.1 L806.6,186.1 L808.3,184.2 L810.0,182.2 L812.9,180.2 L815.8,178.2 L818.2,176.3 L821.8,174.3 L825.2,172.3 L826.9,170.3 L829.8,168.4 L832.4,166.4 L834.3,164.4 L835.3,162.4 L837.5,160.5 L840.2,158.5 L840.6,156.5 L841.8,154.5 L842.5,152.6 L843.8,150.6 L846.4,148.6 L849.5,146.6 L851.7,144.7 L852.3,142.7 L854.8,140.7 L857.2,138.7 L858.2,136.8 L859.8,134.8 L861.6,132.8 L864.4,130.8 L866.8,128.9 L870.0,126.9 L873.1,124.9 L875.5,122.9 L880.0,121.0 L882.7,119.0 L885.4,117.0 L890.4,115.0 L893.9,113.1 L897.2,111.1 L901.9,109.1 L904.6,107.1 L908.7,105.2 L913.7,103.2 L918.6,101.2 L924.6,99.2 L930.6,97.3 L936.2,95.3 L942.3,93.3 L950.2,91.3 L960.2,89.4 L970.2,87.4 L981.3,85.4 L993.6,83.4 L1009.2,81.5 L1031.3,79.5 L1055.0,77.5 L1104.4,77.5" stroke="#EC7E1C"/>
<path d="M172.5,709.6 L229.5,709.6 L229.5,709.6 L289.5,707.6 L325.1,705.6 L351.3,703.7 L370.6,701.7 L381.1,699.7 L393.0,697.7 L411.2,695.8 L428.7,693.8 L441.6,691.8 L451.2,689.8 L459.9,687.9 L467.5,685.9 L472.6,683.9 L478.5,681.9 L483.7,680.0 L486.0,678.0 L488.7,676.0 L493.0,674.0 L497.1,672.1 L499.7,670.1 L503.1,668.1 L506.4,666.1 L508.0,664.2 L510.3,662.2 L513.2,660.2 L515.1,658.2 L517.2,656.3 L519.6,654.3 L522.5,652.3 L526.4,650.3 L528.5,648.4 L530.9,646.4 L533.3,644.4 L535.1,642.4 L537.3,640.5 L538.2,638.5 L539.2,636.5 L540.0,634.5 L541.0,632.6 L542.2,630.6 L543.1,628.6 L543.1,626.6 L543.1,624.7 L544.1,622.7 L544.2,620.7 L544.7,618.7 L545.9,616.8 L547.6,614.8 L548.6,612.8 L549.8,610.8 L550.2,608.9 L552.9,606.9 L556.9,604.9 L559.1,602.9 L561.9,601.0 L564.8,599.0 L566.5,597.0 L567.4,595.0 L568.5,593.1 L570.6,591.1 L573.3,589.1 L574.9,587.1 L576.1,585.2 L577.0,583.2 L577.5,581.2 L579.6,579.2 L581.9,577.3 L581.9,575.3 L582.0,573.3 L584.7,571.3 L586.7,569.4 L586.8,567.4 L588.4,565.4 L590.4,563.4 L590.6,561.5 L590.6,559.5 L590.6,557.5 L591.3,555.5 L593.8,553.6 L594.6,551.6 L594.6,549.6 L594.6,547.6 L595.5,545.6 L595.5,543.7 L595.7,541.7 L596.2,539.7 L596.9,537.7 L599.8,535.8 L601.2,533.8 L603.1,531.8 L603.8,529.8 L603.8,527.9 L603.9,525.9 L606.0,523.9 L606.6,521.9 L606.6,520.0 L608.1,518.0 L610.1,516.0 L611.5,514.0 L613.3,512.1 L615.5,510.1 L617.5,508.1 L619.4,506.1 L620.4,504.2 L621.7,502.2 L622.6,500.2 L623.6,498.2 L625.3,496.3 L626.3,494.3 L629.2,492.3 L630.6,490.3 L632.2,488.4 L635.0,486.4 L635.7,484.4 L635.8,482.4 L636.1,480.5 L636.9,478.5 L638.5,476.5 L639.4,474.5 L640.4,472.6 L641.5,470.6 L642.9,468.6 L643.3,466.6 L644.2,464.7 L646.8,462.7 L647.0,460.7 L648.4,458.7 L650.9,456.8 L651.7,454.8 L651.7,452.8 L652.5,450.8 L653.9,448.9 L655.1,446.9 L656.9,444.9 L658.7,442.9 L660.3,441.0 L661.5,439.0 L663.5,437.0 L663.9,435.0 L664.6,433.1 L665.7,431.1 L666.1,429.1 L667.0,427.1 L667.5,425.2 L668.1,423.2 L669.9,421.2 L671.6,419.2 L671.9,417.3 L672.6,415.3 L673.9,413.3 L674.5,411.3 L674.5,409.4 L674.5,407.4 L676.5,405.4 L677.5,403.4 L677.6,401.5 L678.0,399.5 L679.0,397.5 L679.9,395.5 L681.2,393.6 L682.3,391.6 L682.9,389.6 L684.3,387.6 L686.1,385.6 L686.9,383.7 L687.6,381.7 L688.8,379.7 L689.1,377.7 L690.5,375.8 L692.7,373.8 L694.2,371.8 L695.0,369.8 L695.9,367.9 L696.5,365.9 L697.7,363.9 L700.5,361.9 L701.6,360.0 L701.9,358.0 L704.0,356.0 L705.3,354.0 L705.8,352.1 L706.3,350.1 L707.8,348.1 L710.4,346.1 L711.1,344.2 L712.1,342.2 L713.9,340.2 L713.9,338.2 L714.3,336.3 L716.2,334.3 L716.9,332.3 L719.1,330.3 L719.8,328.4 L720.5,326.4 L721.6,324.4 L722.7,322.4 L723.8,320.5 L724.7,318.5 L726.0,316.5 L727.6,314.5 L728.6,312.6 L729.7,310.6 L730.3,308.6 L731.2,306.6 L733.1,304.7 L734.7,302.7 L734.7,300.7 L735.0,298.7 L736.8,296.8 L736.8,294.8 L736.8,292.8 L738.2,290.8 L739.8,288.9 L742.2,286.9 L743.7,284.9 L744.1,282.9 L745.3,281.0 L746.7,279.0 L747.3,277.0 L747.7,275.0 L748.6,273.1 L750.7,271.1 L752.3,269.1 L753.5,267.1 L755.2,265.2 L757.9,263.2 L760.1,261.2 L761.3,259.2 L762.4,257.3 L763.6,255.3 L765.4,253.3 L766.7,251.3 L768.3,249.4 L770.0,247.4 L771.2,245.4 L772.7,243.4 L774.1,241.5 L775.5,239.5 L776.2,237.5 L776.8,235.5 L778.1,233.5 L779.3,231.6 L781.7,229.6 L783.0,227.6 L783.8,225.6 L785.9,223.7 L787.8,221.7 L788.6,219.7 L788.9,217.7 L790.5,215.8 L793.3,213.8 L794.5,211.8 L795.4,209.8 L797.6,207.9 L798.0,205.9 L799.7,203.9 L802.5,201.9 L802.8,200.0 L804.9,198.0 L808.7,196.0 L810.8,194.0 L813.0,192.1 L816.1,190.1 L819.0,188.1 L820.9,186.1 L822.8,184.2 L825.3,182.2 L827.8,180.2 L830.7,178.2 L832.4,176.3 L833.7,174.3 L835.9,172.3 L838.9,170.3 L842.2,168.4 L843.7,166.4 L845.0,164.4 L846.9,162.4 L847.6,160.5 L848.5,158.5 L850.8,156.5 L852.8,154.5 L852.9,152.6 L853.8,150.6 L856.5,148.6 L857.8,146.6 L859.7,144.7 L862.5,142.7 L864.7,140.7 L865.5,138.7 L866.7,136.8 L869.8,134.8 L871.7,132.8 L873.6,130.8 L876.0,128.9 L878.4,126.9 L880.7,124.9 L883.3,122.9 L887.6,121.0 L891.1,119.0 L892.9,117.0 L895.4,115.0 L898.5,113.1 L902.6,111.1 L907.0,109.1 L910.9,107.1 L914.8,105.2 L918.2,103.2 L923.1,101.2 L927.6,99.2 L932.1,97.3 L938.7,95.3 L944.7,93.3 L949.8,91.3 L957.9,89.4 L969.9,87.4 L981.1,85.4 L991.7,83.4 L1008.7,81.5 L1031.6,79.5 L1055.4,77.5 L1104.4,77.5" stroke="#EE2626"/>
<path d="M172.5,709.6 L229.5,709.6 L229.5,709.6 L323.8,707.6 L351.4,705.6 L367.1,703.7 L374.1,701.7 L378.9,699.7 L385.2,697.7 L392.7,695.8 L401.0,693.8 L410.8,691.8 L420.4,689.8 L430.6,687.9 L447.1,685.9 L463.9,683.9 L470.7,681.9 L476.4,680.0 L481.7,678.0 L485.7,676.0 L488.2,674.0 L491.3,672.1 L494.0,670.1 L497.8,668.1 L500.7,666.1 L502.6,664.2 L506.9,662.2 L507.9,660.2 L508.4,658.2 L511.9,656.3 L515.3,654.3 L517.5,652.3 L520.2,650.3 L524.3,648.4 L527.7,646.4 L529.7,644.4 L533.2,642.4 L538.6,640.5 L541.5,638.5 L543.0,636.5 L544.9,634.5 L546.2,632.6 L549.0,630.6 L553.3,628.6 L555.3,626.6 L555.3,624.7 L556.0,622.7 L559.4,620.7 L561.1,618.7 L563.5,616.8 L564.7,614.8 L565.6,612.8 L568.8,610.8 L571.8,608.9 L573.9,606.9 L576.4,604.9 L579.1,602.9 L580.3,601.0 L582.8,599.0 L584.7,597.0 L584.7,595.0 L586.4,593.1 L589.5,591.1 L590.9,589.1 L591.5,587.1 L592.1,585.2 L592.1,583.2 L592.5,581.2 L594.9,579.2 L594.9,577.3 L594.9,575.3 L596.8,573.3 L599.0,571.3 L600.8,569.4 L601.7,567.4 L603.1,565.4 L603.5,563.4 L603.6,561.5 L605.7,559.5 L608.0,557.5 L609.4,555.5 L610.9,553.6 L612.0,551.6 L613.8,549.6 L615.6,547.6 L616.4,545.6 L616.7,543.7 L617.0,541.7 L618.7,539.7 L621.5,537.7 L624.2,535.8 L625.4,533.8 L626.7,531.8 L628.9,529.8 L631.2,527.9 L632.1,525.9 L633.0,523.9 L634.4,521.9 L634.4,520.0 L634.4,518.0 L636.5,516.0 L639.6,514.0 L642.2,512.1 L642.7,510.1 L643.0,508.1 L644.7,506.1 L644.7,504.2 L646.1,502.2 L648.6,500.2 L649.0,498.2 L651.4,496.3 L653.1,494.3 L653.7,492.3 L655.2,490.3 L655.8,488.4 L657.0,486.4 L659.1,484.4 L659.9,482.4 L659.9,480.5 L662.3,478.5 L664.5,476.5 L664.5,474.5 L664.9,472.6 L665.7,470.6 L666.7,468.6 L669.1,466.6 L669.1,464.7 L670.2,462.7 L672.7,460.7 L673.1,458.7 L673.7,456.8 L674.7,454.8 L675.4,452.8 L675.5,450.8 L677.5,448.9 L679.1,446.9 L679.1,444.9 L680.2,442.9 L681.2,441.0 L682.5,439.0 L682.5,437.0 L683.2,435.0 L684.5,433.1 L684.7,431.1 L686.5,429.1 L688.6,427.1 L688.6,425.2 L688.7,423.2 L689.8,421.2 L690.6,419.2 L692.0,417.3 L694.5,415.3 L695.9,413.3 L696.5,411.3 L699.2,409.4 L701.4,407.4 L703.8,405.4 L705.5,403.4 L706.4,401.5 L708.3,399.5 L709.0,397.5 L711.2,395.5 L714.4,393.6 L716.1,391.6 L717.0,389.6 L718.2,387.6 L719.5,385.6 L720.4,383.7 L721.3,381.7 L722.5,379.7 L723.7,377.7 L725.3,375.8 L726.6,373.8 L726.9,371.8 L728.4,369.8 L730.1,367.9 L730.3,365.9 L730.9,363.9 L732.6,361.9 L734.5,360.0 L736.2,358.0 L737.5,356.0 L738.1,354.0 L738.3,352.1 L738.7,350.1 L740.2,348.1 L741.8,346.1 L743.0,344.2 L744.8,342.2 L746.7,340.2 L746.7,338.2 L747.0,336.3 L747.6,334.3 L749.0,332.3 L750.3,330.3 L750.8,328.4 L752.0,326.4 L754.1,324.4 L756.2,322.4 L757.0,320.5 L757.7,318.5 L758.5,316.5 L759.1,314.5 L759.6,312.6 L761.9,310.6 L762.1,308.6 L762.3,306.6 L764.8,304.7 L766.2,302.7 L766.7,300.7 L767.0,298.7 L768.2,296.8 L768.8,294.8 L768.9,292.8 L769.1,290.8 L770.2,288.9 L771.9,286.9 L772.8,284.9 L772.8,282.9 L773.3,281.0 L775.8,279.0 L777.2,277.0 L779.2,275.0 L782.7,273.1 L784.0,271.1 L784.9,269.1 L786.6,267.1 L788.0,265.2 L789.4,263.2 L791.9,261.2 L793.9,259.2 L795.2,257.3 L797.5,255.3 L799.0,253.3 L800.7,251.3 L803.0,249.4 L805.6,247.4 L807.2,245.4 L808.8,243.4 L810.5,241.5 L811.3,239.5 L812.8,237.5 L814.0,235.5 L815.6,233.5 L817.2,231.6 L818.2,229.6 L820.5,227.6 L821.3,225.6 L821.3,223.7 L823.0,221.7 L825.2,219.7 L826.5,217.7 L828.3,215.8 L830.2,213.8 L831.4,211.8 L832.1,209.8 L834.4,207.9 L836.7,205.9 L837.0,203.9 L839.3,201.9 L841.5,200.0 L842.1,198.0 L843.2,196.0 L845.4,194.0 L847.5,192.1 L848.9,190.1 L851.1,188.1 L853.4,186.1 L855.1,184.2 L857.7,182.2 L860.8,180.2 L863.0,178.2 L864.0,176.3 L864.9,174.3 L866.2,172.3 L868.3,170.3 L870.6,168.4 L872.7,166.4 L875.0,164.4 L877.0,162.4 L878.9,160.5 L880.6,158.5 L882.7,156.5 L882.8,154.5 L883.7,152.6 L886.9,150.6 L889.2,148.6 L890.9,146.6 L892.5,144.7 L894.7,142.7 L896.7,140.7 L898.2,138.7 L900.2,136.8 L903.0,134.8 L906.1,132.8 L908.4,130.8 L911.1,128.9 L913.1,126.9 L916.6,124.9 L919.7,122.9 L921.7,121.0 L924.2,119.0 L926.6,117.0 L929.9,115.0 L933.6,113.1 L935.6,111.1 L935.6,109.1 L938.5,107.1 L942.4,105.2 L945.9,103.2 L949.7,101.2 L951.7,99.2 L955.1,97.3 L960.7,95.3 L967.0,93.3 L974.1,91.3 L982.1,89.4 L991.5,87.4 L1000.5,85.4 L1010.6,83.4 L1026.0,81.5 L1043.6,79.5 L1060.7,77.5 L1104.4,77.5" stroke="#A5000C"/>
</g>
<line x1="172.3" y1="393.55" x2="1104.4" y2="393.55" stroke="#A7A7A7" stroke-width="4.4" stroke-dasharray="38.3 17.55"/>
<line x1="638.30" y1="741.0" x2="638.30" y2="45.8" stroke="#A7A7A7" stroke-width="4.6" stroke-dasharray="38.3 17.55"/>
<line x1="172.30" y1="45.80" x2="172.30" y2="742.30" stroke="#000" stroke-width="2.6" />
<line x1="171.00" y1="741.00" x2="1104.40" y2="741.00" stroke="#000" stroke-width="2.6" />
<line x1="165.00" y1="709.60" x2="172.30" y2="709.60" stroke="#000" stroke-width="2.4" />
<line x1="165.00" y1="551.58" x2="172.30" y2="551.58" stroke="#000" stroke-width="2.4" />
<line x1="165.00" y1="393.55" x2="172.30" y2="393.55" stroke="#000" stroke-width="2.4" />
<line x1="165.00" y1="235.52" x2="172.30" y2="235.52" stroke="#000" stroke-width="2.4" />
<line x1="165.00" y1="77.50" x2="172.30" y2="77.50" stroke="#000" stroke-width="2.4" />
<line x1="214.70" y1="741.00" x2="214.70" y2="748.20" stroke="#000" stroke-width="2.4" />
<line x1="355.90" y1="741.00" x2="355.90" y2="748.20" stroke="#000" stroke-width="2.4" />
<line x1="497.10" y1="741.00" x2="497.10" y2="748.20" stroke="#000" stroke-width="2.4" />
<line x1="638.30" y1="741.00" x2="638.30" y2="748.20" stroke="#000" stroke-width="2.4" />
<line x1="779.50" y1="741.00" x2="779.50" y2="748.20" stroke="#000" stroke-width="2.4" />
<line x1="920.70" y1="741.00" x2="920.70" y2="748.20" stroke="#000" stroke-width="2.4" />
<line x1="1061.90" y1="741.00" x2="1061.90" y2="748.20" stroke="#000" stroke-width="2.4" />
<g fill="none" stroke-width="5.0" stroke-linejoin="round" stroke-linecap="butt">
<path d="M1225.9,709.6 L1267.3,709.6 L1267.3,709.6 L1300.9,707.6 L1324.6,705.6 L1341.4,703.7 L1373.3,701.7 L1394.0,699.7 L1406.3,697.7 L1420.4,695.8 L1429.4,693.8 L1436.1,691.8 L1443.7,689.8 L1449.2,687.9 L1453.5,685.9 L1457.4,683.9 L1461.6,681.9 L1466.4,680.0 L1470.6,678.0 L1475.0,676.0 L1479.8,674.0 L1483.6,672.1 L1487.7,670.1 L1493.2,668.1 L1498.0,666.1 L1503.4,664.2 L1509.2,662.2 L1515.4,660.2 L1521.4,658.2 L1525.6,656.3 L1529.8,654.3 L1533.2,652.3 L1535.4,650.3 L1537.3,648.4 L1539.4,646.4 L1540.9,644.4 L1542.8,642.4 L1544.8,640.5 L1547.0,638.5 L1549.4,636.5 L1550.6,634.5 L1552.3,632.6 L1553.6,630.6 L1556.4,628.6 L1559.4,626.6 L1560.9,624.7 L1563.1,622.7 L1563.7,620.7 L1566.2,618.7 L1570.3,616.8 L1571.5,614.8 L1572.4,612.8 L1574.5,610.8 L1575.8,608.9 L1577.7,606.9 L1578.2,604.9 L1578.6,602.9 L1581.5,601.0 L1582.9,599.0 L1583.9,597.0 L1585.2,595.0 L1586.0,593.1 L1587.5,591.1 L1588.8,589.1 L1589.5,587.1 L1590.9,585.2 L1592.8,583.2 L1593.0,581.2 L1593.4,579.2 L1595.4,577.3 L1597.7,575.3 L1597.9,573.3 L1598.9,571.3 L1600.5,569.4 L1602.2,567.4 L1604.5,565.4 L1606.3,563.4 L1608.1,561.5 L1608.8,559.5 L1609.4,557.5 L1610.0,555.5 L1611.1,553.6 L1612.8,551.6 L1614.3,549.6 L1616.2,547.6 L1618.0,545.6 L1618.2,543.7 L1619.9,541.7 L1621.8,539.7 L1621.8,537.7 L1621.9,535.8 L1624.4,533.8 L1625.8,531.8 L1628.5,529.8 L1628.5,527.9 L1628.5,525.9 L1630.5,523.9 L1632.9,521.9 L1633.7,520.0 L1633.7,518.0 L1634.4,516.0 L1634.5,514.0 L1636.4,512.1 L1638.8,510.1 L1638.9,508.1 L1639.8,506.1 L1641.1,504.2 L1641.1,502.2 L1642.1,500.2 L1644.5,498.2 L1645.5,496.3 L1645.6,494.3 L1646.8,492.3 L1648.1,490.3 L1648.1,488.4 L1648.1,486.4 L1648.1,484.4 L1649.3,482.4 L1651.2,480.5 L1651.9,478.5 L1652.5,476.5 L1653.6,474.5 L1654.6,472.6 L1654.6,470.6 L1655.4,468.6 L1656.6,466.6 L1658.0,464.7 L1659.2,462.7 L1660.5,460.7 L1662.4,458.7 L1662.9,456.8 L1664.9,454.8 L1666.6,452.8 L1668.0,450.8 L1670.3,448.9 L1671.3,446.9 L1671.3,444.9 L1673.0,442.9 L1675.1,441.0 L1676.4,439.0 L1676.9,437.0 L1677.8,435.0 L1679.8,433.1 L1681.0,431.1 L1681.6,429.1 L1683.5,427.1 L1685.2,425.2 L1685.2,423.2 L1686.0,421.2 L1687.7,419.2 L1689.0,417.3 L1689.5,415.3 L1689.5,413.3 L1689.9,411.3 L1691.9,409.4 L1692.1,407.4 L1692.8,405.4 L1693.4,403.4 L1693.4,401.5 L1694.2,399.5 L1695.8,397.5 L1695.8,395.5 L1696.0,393.6 L1697.9,391.6 L1698.7,389.6 L1700.2,387.6 L1700.7,385.6 L1701.2,383.7 L1702.1,381.7 L1704.1,379.7 L1705.1,377.7 L1705.9,375.8 L1707.1,373.8 L1707.4,371.8 L1709.6,369.8 L1710.3,367.9 L1710.7,365.9 L1712.8,363.9 L1714.4,361.9 L1714.4,360.0 L1714.9,358.0 L1717.0,356.0 L1717.7,354.0 L1718.1,352.1 L1719.9,350.1 L1721.4,348.1 L1721.4,346.1 L1721.4,344.2 L1722.3,342.2 L1724.5,340.2 L1726.0,338.2 L1726.8,336.3 L1727.1,334.3 L1727.7,332.3 L1729.7,330.3 L1730.1,328.4 L1730.1,326.4 L1730.1,324.4 L1731.3,322.4 L1731.3,320.5 L1731.7,318.5 L1734.2,316.5 L1735.6,314.5 L1736.2,312.6 L1737.1,310.6 L1738.2,308.6 L1738.9,306.6 L1740.4,304.7 L1740.9,302.7 L1740.9,300.7 L1741.9,298.7 L1744.4,296.8 L1745.2,294.8 L1745.2,292.8 L1745.2,290.8 L1747.0,288.9 L1747.4,286.9 L1749.1,284.9 L1750.5,282.9 L1750.8,281.0 L1751.5,279.0 L1752.3,277.0 L1753.5,275.0 L1755.2,273.1 L1757.5,271.1 L1758.9,269.1 L1759.8,267.1 L1760.1,265.2 L1760.2,263.2 L1762.4,261.2 L1764.5,259.2 L1765.0,257.3 L1766.0,255.3 L1768.9,253.3 L1770.3,251.3 L1770.3,249.4 L1771.7,247.4 L1773.7,245.4 L1775.0,243.4 L1776.7,241.5 L1778.7,239.5 L1779.0,237.5 L1779.9,235.5 L1781.5,233.5 L1782.1,231.6 L1783.5,229.6 L1786.0,227.6 L1786.5,225.6 L1786.7,223.7 L1788.1,221.7 L1788.5,219.7 L1789.8,217.7 L1790.8,215.8 L1793.7,213.8 L1796.0,211.8 L1796.4,209.8 L1797.6,207.9 L1797.7,205.9 L1798.8,203.9 L1802.3,201.9 L1804.1,200.0 L1804.8,198.0 L1806.2,196.0 L1807.0,194.0 L1808.2,192.1 L1810.5,190.1 L1812.3,188.1 L1812.6,186.1 L1814.3,184.2 L1817.3,182.2 L1818.5,180.2 L1818.5,178.2 L1818.5,176.3 L1819.7,174.3 L1821.9,172.3 L1822.8,170.3 L1824.0,168.4 L1825.5,166.4 L1828.6,164.4 L1830.6,162.4 L1831.8,160.5 L1833.2,158.5 L1835.6,156.5 L1838.6,154.5 L1840.9,152.6 L1843.6,150.6 L1846.1,148.6 L1849.4,146.6 L1853.2,144.7 L1857.4,142.7 L1860.0,140.7 L1861.5,138.7 L1864.4,136.8 L1867.3,134.8 L1870.1,132.8 L1872.6,130.8 L1876.3,128.9 L1881.2,126.9 L1883.9,124.9 L1886.3,122.9 L1889.4,121.0 L1893.3,119.0 L1897.1,117.0 L1901.0,115.0 L1905.6,113.1 L1910.7,111.1 L1915.4,109.1 L1919.3,107.1 L1924.4,105.2 L1930.3,103.2 L1935.9,101.2 L1941.6,99.2 L1948.8,97.3 L1956.8,95.3 L1964.6,93.3 L1972.4,91.3 L1980.2,89.4 L1988.4,87.4 L1998.6,85.4 L2012.2,83.4 L2033.1,81.5 L2064.4,79.5 L2103.5,77.5 L2157.8,77.5" stroke="#EEA0E0"/>
<path d="M1225.9,709.6 L1267.8,709.6 L1267.8,709.6 L1300.6,707.6 L1325.1,705.6 L1342.7,703.7 L1373.6,701.7 L1395.2,699.7 L1407.7,697.7 L1420.2,695.8 L1429.3,693.8 L1437.6,691.8 L1443.9,689.8 L1448.0,687.9 L1454.8,685.9 L1459.4,683.9 L1462.6,681.9 L1466.6,680.0 L1469.8,678.0 L1474.0,676.0 L1477.3,674.0 L1481.5,672.1 L1484.3,670.1 L1487.9,668.1 L1493.4,666.1 L1499.3,664.2 L1506.0,662.2 L1511.5,660.2 L1516.4,658.2 L1521.9,656.3 L1526.3,654.3 L1529.1,652.3 L1534.0,650.3 L1537.5,648.4 L1537.9,646.4 L1539.3,644.4 L1541.2,642.4 L1543.5,640.5 L1546.0,638.5 L1547.7,636.5 L1550.3,634.5 L1552.9,632.6 L1553.8,630.6 L1555.2,628.6 L1558.6,626.6 L1561.0,624.7 L1562.3,622.7 L1563.9,620.7 L1565.2,618.7 L1567.1,616.8 L1569.4,614.8 L1572.3,612.8 L1573.3,610.8 L1574.2,608.9 L1576.2,606.9 L1577.3,604.9 L1579.5,602.9 L1581.9,601.0 L1583.1,599.0 L1583.4,597.0 L1585.4,595.0 L1587.4,593.1 L1588.9,591.1 L1589.4,589.1 L1589.4,587.1 L1590.0,585.2 L1591.4,583.2 L1592.5,581.2 L1593.6,579.2 L1596.4,577.3 L1598.2,575.3 L1598.2,573.3 L1599.6,571.3 L1600.6,569.4 L1602.2,567.4 L1603.4,565.4 L1604.6,563.4 L1606.1,561.5 L1607.2,559.5 L1609.7,557.5 L1611.0,555.5 L1611.0,553.6 L1612.0,551.6 L1612.9,549.6 L1614.4,547.6 L1617.0,545.6 L1617.5,543.7 L1617.7,541.7 L1619.5,539.7 L1621.4,537.7 L1622.3,535.8 L1622.5,533.8 L1624.0,531.8 L1626.0,529.8 L1626.9,527.9 L1628.8,525.9 L1629.4,523.9 L1630.1,521.9 L1631.4,520.0 L1631.4,518.0 L1631.6,516.0 L1634.0,514.0 L1636.6,512.1 L1638.1,510.1 L1638.2,508.1 L1639.6,506.1 L1640.0,504.2 L1640.0,502.2 L1640.9,500.2 L1643.4,498.2 L1643.4,496.3 L1643.4,494.3 L1644.5,492.3 L1644.6,490.3 L1645.5,488.4 L1648.1,486.4 L1648.1,484.4 L1648.1,482.4 L1648.8,480.5 L1648.8,478.5 L1650.0,476.5 L1651.6,474.5 L1652.8,472.6 L1653.5,470.6 L1654.3,468.6 L1655.4,466.6 L1656.3,464.7 L1657.9,462.7 L1660.2,460.7 L1660.2,458.7 L1660.7,456.8 L1663.2,454.8 L1664.4,452.8 L1666.2,450.8 L1667.8,448.9 L1668.8,446.9 L1671.0,444.9 L1672.8,442.9 L1673.3,441.0 L1675.3,439.0 L1676.8,437.0 L1676.8,435.0 L1677.8,433.1 L1679.6,431.1 L1681.8,429.1 L1682.4,427.1 L1682.4,425.2 L1684.0,423.2 L1685.0,421.2 L1685.9,419.2 L1686.1,417.3 L1686.2,415.3 L1687.8,413.3 L1689.4,411.3 L1689.4,409.4 L1689.5,407.4 L1691.2,405.4 L1692.4,403.4 L1692.6,401.5 L1692.8,399.5 L1693.6,397.5 L1695.2,395.5 L1696.3,393.6 L1696.3,391.6 L1696.3,389.6 L1697.1,387.6 L1699.0,385.6 L1699.6,383.7 L1700.5,381.7 L1701.9,379.7 L1702.3,377.7 L1703.3,375.8 L1706.3,373.8 L1708.1,371.8 L1708.4,369.8 L1709.2,367.9 L1711.3,365.9 L1712.2,363.9 L1712.2,361.9 L1713.3,360.0 L1714.0,358.0 L1715.7,356.0 L1719.1,354.0 L1719.7,352.1 L1719.7,350.1 L1719.7,348.1 L1721.1,346.1 L1721.8,344.2 L1722.2,342.2 L1723.5,340.2 L1724.3,338.2 L1725.0,336.3 L1725.1,334.3 L1727.0,332.3 L1728.3,330.3 L1728.8,328.4 L1729.4,326.4 L1730.4,324.4 L1731.2,322.4 L1732.0,320.5 L1732.2,318.5 L1732.9,316.5 L1734.3,314.5 L1734.3,312.6 L1736.4,310.6 L1737.4,308.6 L1738.1,306.6 L1738.9,304.7 L1738.9,302.7 L1740.0,300.7 L1741.6,298.7 L1743.3,296.8 L1744.1,294.8 L1744.1,292.8 L1744.1,290.8 L1745.2,288.9 L1747.4,286.9 L1748.2,284.9 L1749.8,282.9 L1750.1,281.0 L1750.9,279.0 L1753.0,277.0 L1754.7,275.0 L1755.7,273.1 L1755.7,271.1 L1755.8,269.1 L1758.0,267.1 L1759.6,265.2 L1760.4,263.2 L1762.3,261.2 L1764.1,259.2 L1765.9,257.3 L1766.2,255.3 L1767.0,253.3 L1768.5,251.3 L1769.4,249.4 L1770.6,247.4 L1771.5,245.4 L1773.5,243.4 L1775.5,241.5 L1776.0,239.5 L1777.2,237.5 L1779.8,235.5 L1780.7,233.5 L1781.1,231.6 L1782.6,229.6 L1784.5,227.6 L1784.9,225.6 L1785.1,223.7 L1787.6,221.7 L1789.1,219.7 L1789.6,217.7 L1790.3,215.8 L1791.8,213.8 L1792.5,211.8 L1794.0,209.8 L1796.5,207.9 L1798.6,205.9 L1799.9,203.9 L1800.9,201.9 L1802.8,200.0 L1804.8,198.0 L1805.3,196.0 L1806.4,194.0 L1808.0,192.1 L1810.0,190.1 L1811.9,188.1 L1812.3,186.1 L1812.3,184.2 L1812.3,182.2 L1814.9,180.2 L1816.0,178.2 L1817.3,176.3 L1818.5,174.3 L1820.6,172.3 L1823.0,170.3 L1824.1,168.4 L1825.3,166.4 L1826.4,164.4 L1828.4,162.4 L1830.3,160.5 L1833.3,158.5 L1836.2,156.5 L1837.4,154.5 L1839.6,152.6 L1841.3,150.6 L1844.5,148.6 L1848.9,146.6 L1851.2,144.7 L1853.9,142.7 L1857.6,140.7 L1861.6,138.7 L1864.5,136.8 L1866.5,134.8 L1869.1,132.8 L1872.8,130.8 L1877.9,128.9 L1880.5,126.9 L1881.4,124.9 L1884.7,122.9 L1889.7,121.0 L1893.4,119.0 L1896.5,117.0 L1900.4,115.0 L1904.4,113.1 L1909.0,111.1 L1913.9,109.1 L1919.4,107.1 L1925.1,105.2 L1931.3,103.2 L1937.0,101.2 L1942.2,99.2 L1948.7,97.3 L1956.9,95.3 L1964.2,93.3 L1971.2,91.3 L1980.1,89.4 L1988.5,87.4 L1997.8,85.4 L2011.4,83.4 L2032.0,81.5 L2064.5,79.5 L2103.6,77.5 L2157.8,77.5" stroke="#CC55E6"/>
<path d="M1225.9,709.6 L1268.1,709.6 L1268.1,709.6 L1296.2,707.6 L1318.1,705.6 L1332.9,703.7 L1350.4,701.7 L1382.9,699.7 L1398.9,697.7 L1411.9,695.8 L1421.1,693.8 L1428.0,691.8 L1434.1,689.8 L1439.9,687.9 L1446.0,685.9 L1451.2,683.9 L1454.7,681.9 L1458.4,680.0 L1462.6,678.0 L1468.3,676.0 L1473.8,674.0 L1477.9,672.1 L1482.9,670.1 L1488.1,668.1 L1493.7,666.1 L1498.2,664.2 L1500.8,662.2 L1506.0,660.2 L1510.8,658.2 L1513.5,656.3 L1518.1,654.3 L1521.2,652.3 L1523.5,650.3 L1525.8,648.4 L1526.1,646.4 L1528.1,644.4 L1531.2,642.4 L1532.3,640.5 L1534.6,638.5 L1537.1,636.5 L1537.7,634.5 L1539.3,632.6 L1542.1,630.6 L1545.0,628.6 L1548.0,626.6 L1549.4,624.7 L1551.4,622.7 L1553.1,620.7 L1554.0,618.7 L1556.7,616.8 L1559.6,614.8 L1560.5,612.8 L1561.7,610.8 L1565.1,608.9 L1567.0,606.9 L1569.7,604.9 L1572.0,602.9 L1573.0,601.0 L1575.1,599.0 L1576.4,597.0 L1577.4,595.0 L1578.8,593.1 L1580.0,591.1 L1582.7,589.1 L1584.4,587.1 L1584.4,585.2 L1585.3,583.2 L1587.7,581.2 L1588.4,579.2 L1589.2,577.3 L1592.0,575.3 L1592.0,573.3 L1592.9,571.3 L1595.2,569.4 L1596.1,567.4 L1597.2,565.4 L1597.4,563.4 L1599.7,561.5 L1601.8,559.5 L1603.4,557.5 L1606.1,555.5 L1606.6,553.6 L1608.5,551.6 L1611.3,549.6 L1611.3,547.6 L1612.7,545.6 L1615.4,543.7 L1616.6,541.7 L1617.4,539.7 L1618.3,537.7 L1619.3,535.8 L1619.3,533.8 L1621.3,531.8 L1622.7,529.8 L1622.7,527.9 L1624.2,525.9 L1625.2,523.9 L1625.2,521.9 L1625.8,520.0 L1627.5,518.0 L1628.6,516.0 L1630.5,514.0 L1631.5,512.1 L1631.5,510.1 L1631.5,508.1 L1633.1,506.1 L1634.6,504.2 L1636.0,502.2 L1636.0,500.2 L1636.0,498.2 L1637.4,496.3 L1638.5,494.3 L1639.0,492.3 L1640.5,490.3 L1641.5,488.4 L1641.5,486.4 L1642.0,484.4 L1644.8,482.4 L1646.8,480.5 L1647.1,478.5 L1647.6,476.5 L1647.9,474.5 L1648.5,472.6 L1651.8,470.6 L1653.9,468.6 L1653.9,466.6 L1654.2,464.7 L1654.2,462.7 L1656.3,460.7 L1657.7,458.7 L1658.0,456.8 L1659.7,454.8 L1661.6,452.8 L1663.6,450.8 L1665.1,448.9 L1666.0,446.9 L1666.9,444.9 L1668.7,442.9 L1669.4,441.0 L1670.0,439.0 L1671.5,437.0 L1673.7,435.0 L1675.6,433.1 L1675.6,431.1 L1676.2,429.1 L1677.7,427.1 L1678.2,425.2 L1679.8,423.2 L1682.4,421.2 L1682.8,419.2 L1683.4,417.3 L1684.3,415.3 L1684.3,413.3 L1684.3,411.3 L1685.2,409.4 L1686.9,407.4 L1688.5,405.4 L1689.5,403.4 L1691.2,401.5 L1691.2,399.5 L1691.5,397.5 L1692.7,395.5 L1692.7,393.6 L1693.0,391.6 L1694.7,389.6 L1695.7,387.6 L1695.7,385.6 L1696.0,383.7 L1697.4,381.7 L1697.4,379.7 L1697.4,377.7 L1698.7,375.8 L1700.3,373.8 L1701.1,371.8 L1701.9,369.8 L1704.0,367.9 L1705.1,365.9 L1705.8,363.9 L1707.2,361.9 L1708.2,360.0 L1708.2,358.0 L1708.7,356.0 L1710.6,354.0 L1711.8,352.1 L1712.3,350.1 L1713.2,348.1 L1714.6,346.1 L1715.3,344.2 L1715.3,342.2 L1716.2,340.2 L1718.7,338.2 L1718.9,336.3 L1718.9,334.3 L1720.9,332.3 L1722.4,330.3 L1722.4,328.4 L1723.0,326.4 L1724.6,324.4 L1725.1,322.4 L1725.5,320.5 L1727.6,318.5 L1728.9,316.5 L1729.3,314.5 L1729.9,312.6 L1731.2,310.6 L1731.6,308.6 L1732.8,306.6 L1733.9,304.7 L1735.6,302.7 L1736.6,300.7 L1736.6,298.7 L1737.2,296.8 L1739.3,294.8 L1741.1,292.8 L1741.6,290.8 L1741.9,288.9 L1743.3,286.9 L1744.3,284.9 L1745.3,282.9 L1746.3,281.0 L1747.4,279.0 L1749.9,277.0 L1752.0,275.0 L1752.0,273.1 L1752.1,271.1 L1753.6,269.1 L1755.4,267.1 L1756.8,265.2 L1757.0,263.2 L1758.4,261.2 L1761.3,259.2 L1762.5,257.3 L1763.4,255.3 L1766.0,253.3 L1767.2,251.3 L1768.4,249.4 L1769.8,247.4 L1770.5,245.4 L1772.4,243.4 L1774.0,241.5 L1775.1,239.5 L1776.9,237.5 L1777.6,235.5 L1778.4,233.5 L1780.6,231.6 L1782.1,229.6 L1782.7,227.6 L1783.1,225.6 L1784.6,223.7 L1786.5,221.7 L1787.7,219.7 L1790.4,217.7 L1791.9,215.8 L1792.2,213.8 L1794.3,211.8 L1796.7,209.8 L1798.3,207.9 L1799.1,205.9 L1800.3,203.9 L1803.3,201.9 L1805.4,200.0 L1806.4,198.0 L1807.7,196.0 L1808.3,194.0 L1808.5,192.1 L1811.7,190.1 L1815.3,188.1 L1815.9,186.1 L1817.3,184.2 L1818.9,182.2 L1820.1,180.2 L1821.4,178.2 L1822.1,176.3 L1823.0,174.3 L1824.9,172.3 L1826.3,170.3 L1828.1,168.4 L1830.8,166.4 L1832.1,164.4 L1832.6,162.4 L1834.3,160.5 L1835.8,158.5 L1839.7,156.5 L1844.0,154.5 L1846.1,152.6 L1848.6,150.6 L1852.2,148.6 L1856.5,146.6 L1860.2,144.7 L1863.0,142.7 L1866.5,140.7 L1869.7,138.7 L1872.7,136.8 L1876.9,134.8 L1879.4,132.8 L1881.7,130.8 L1886.0,128.9 L1890.5,126.9 L1893.5,124.9 L1896.0,122.9 L1899.1,121.0 L1902.0,119.0 L1907.0,117.0 L1912.0,115.0 L1915.4,113.1 L1919.1,111.1 L1923.2,109.1 L1928.0,107.1 L1932.6,105.2 L1937.1,103.2 L1942.3,101.2 L1949.2,99.2 L1955.4,97.3 L1960.1,95.3 L1966.6,93.3 L1975.8,91.3 L1984.6,89.4 L1993.0,87.4 L2003.4,85.4 L2016.5,83.4 L2036.9,81.5 L2066.4,79.5 L2103.2,77.5 L2157.8,77.5" stroke="#5050E2"/>
<path d="M1225.9,709.6 L1269.0,709.6 L1269.0,709.6 L1293.4,707.6 L1313.7,705.6 L1328.8,703.7 L1342.5,701.7 L1374.5,699.7 L1394.6,697.7 L1403.6,695.8 L1413.9,693.8 L1423.9,691.8 L1431.8,689.8 L1436.9,687.9 L1441.8,685.9 L1447.1,683.9 L1450.4,681.9 L1454.6,680.0 L1459.8,678.0 L1463.3,676.0 L1466.2,674.0 L1470.0,672.1 L1475.3,670.1 L1479.7,668.1 L1482.2,666.1 L1486.7,664.2 L1491.8,662.2 L1495.7,660.2 L1499.7,658.2 L1504.2,656.3 L1508.2,654.3 L1510.4,652.3 L1513.2,650.3 L1517.6,648.4 L1520.9,646.4 L1523.6,644.4 L1526.8,642.4 L1531.6,640.5 L1534.1,638.5 L1534.1,636.5 L1535.7,634.5 L1538.9,632.6 L1540.8,630.6 L1543.0,628.6 L1544.0,626.6 L1546.5,624.7 L1549.7,622.7 L1551.4,620.7 L1554.0,618.7 L1556.0,616.8 L1557.5,614.8 L1559.8,612.8 L1560.7,610.8 L1563.2,608.9 L1565.9,606.9 L1568.3,604.9 L1570.6,602.9 L1572.1,601.0 L1573.3,599.0 L1575.4,597.0 L1576.9,595.0 L1576.9,593.1 L1578.4,591.1 L1580.9,589.1 L1583.4,587.1 L1584.2,585.2 L1584.5,583.2 L1585.7,581.2 L1587.0,579.2 L1589.4,577.3 L1591.4,575.3 L1592.0,573.3 L1592.9,571.3 L1594.2,569.4 L1595.3,567.4 L1596.0,565.4 L1597.8,563.4 L1599.2,561.5 L1599.2,559.5 L1600.0,557.5 L1601.8,555.5 L1603.6,553.6 L1605.9,551.6 L1606.9,549.6 L1607.5,547.6 L1608.7,545.6 L1609.0,543.7 L1609.0,541.7 L1610.6,539.7 L1613.0,537.7 L1614.5,535.8 L1615.1,533.8 L1615.2,531.8 L1617.2,529.8 L1618.3,527.9 L1619.2,525.9 L1620.1,523.9 L1620.1,521.9 L1621.2,520.0 L1621.9,518.0 L1623.5,516.0 L1625.1,514.0 L1626.0,512.1 L1627.4,510.1 L1629.3,508.1 L1630.0,506.1 L1630.0,504.2 L1631.2,502.2 L1631.9,500.2 L1633.0,498.2 L1635.4,496.3 L1635.4,494.3 L1635.4,492.3 L1637.6,490.3 L1638.2,488.4 L1638.4,486.4 L1639.5,484.4 L1641.2,482.4 L1642.3,480.5 L1642.3,478.5 L1643.4,476.5 L1645.5,474.5 L1647.5,472.6 L1648.2,470.6 L1649.4,468.6 L1650.2,466.6 L1650.6,464.7 L1652.3,462.7 L1653.5,460.7 L1653.5,458.7 L1654.1,456.8 L1655.8,454.8 L1656.8,452.8 L1658.6,450.8 L1661.3,448.9 L1663.1,446.9 L1664.2,444.9 L1665.1,442.9 L1666.3,441.0 L1667.9,439.0 L1668.4,437.0 L1669.5,435.0 L1671.2,433.1 L1672.7,431.1 L1674.1,429.1 L1674.8,427.1 L1675.6,425.2 L1677.1,423.2 L1678.4,421.2 L1678.8,419.2 L1679.6,417.3 L1680.8,415.3 L1681.2,413.3 L1681.2,411.3 L1681.2,409.4 L1681.8,407.4 L1683.4,405.4 L1684.6,403.4 L1685.1,401.5 L1685.3,399.5 L1685.3,397.5 L1687.3,395.5 L1689.4,393.6 L1689.8,391.6 L1690.1,389.6 L1691.1,387.6 L1693.1,385.6 L1694.1,383.7 L1695.0,381.7 L1695.3,379.7 L1696.5,377.7 L1697.3,375.8 L1698.6,373.8 L1699.3,371.8 L1699.3,369.8 L1701.2,367.9 L1703.2,365.9 L1703.2,363.9 L1703.4,361.9 L1705.1,360.0 L1706.2,358.0 L1706.9,356.0 L1708.2,354.0 L1708.8,352.1 L1709.6,350.1 L1712.2,348.1 L1712.9,346.1 L1712.9,344.2 L1712.9,342.2 L1713.4,340.2 L1715.7,338.2 L1716.4,336.3 L1716.4,334.3 L1717.9,332.3 L1719.2,330.3 L1720.0,328.4 L1720.6,326.4 L1721.6,324.4 L1724.0,322.4 L1724.3,320.5 L1724.3,318.5 L1725.5,316.5 L1726.1,314.5 L1726.6,312.6 L1727.4,310.6 L1728.6,308.6 L1730.3,306.6 L1730.9,304.7 L1730.9,302.7 L1732.6,300.7 L1733.7,298.7 L1734.2,296.8 L1735.4,294.8 L1735.8,292.8 L1736.6,290.8 L1737.7,288.9 L1739.1,286.9 L1741.3,284.9 L1742.1,282.9 L1742.6,281.0 L1745.2,279.0 L1747.2,277.0 L1749.2,275.0 L1751.3,273.1 L1752.6,271.1 L1753.6,269.1 L1754.9,267.1 L1756.5,265.2 L1758.4,263.2 L1760.2,261.2 L1760.6,259.2 L1761.2,257.3 L1762.0,255.3 L1764.0,253.3 L1765.1,251.3 L1765.9,249.4 L1766.1,247.4 L1766.6,245.4 L1769.3,243.4 L1770.1,241.5 L1771.7,239.5 L1772.2,237.5 L1773.4,235.5 L1775.2,233.5 L1775.2,231.6 L1775.2,229.6 L1777.6,227.6 L1779.4,225.6 L1779.8,223.7 L1781.8,221.7 L1783.3,219.7 L1784.8,217.7 L1786.1,215.8 L1786.6,213.8 L1789.1,211.8 L1792.0,209.8 L1793.3,207.9 L1794.9,205.9 L1797.3,203.9 L1799.2,201.9 L1801.4,200.0 L1803.6,198.0 L1804.0,196.0 L1805.1,194.0 L1807.1,192.1 L1808.4,190.1 L1809.0,188.1 L1810.5,186.1 L1812.0,184.2 L1813.5,182.2 L1815.9,180.2 L1817.2,178.2 L1817.7,176.3 L1817.9,174.3 L1820.0,172.3 L1822.5,170.3 L1824.5,168.4 L1826.2,166.4 L1826.9,164.4 L1829.2,162.4 L1831.7,160.5 L1833.0,158.5 L1835.3,156.5 L1837.5,154.5 L1840.0,152.6 L1844.0,150.6 L1847.0,148.6 L1849.6,146.6 L1853.4,144.7 L1855.9,142.7 L1859.0,140.7 L1862.5,138.7 L1866.2,136.8 L1868.4,134.8 L1869.9,132.8 L1873.5,130.8 L1876.8,128.9 L1880.6,126.9 L1884.6,124.9 L1887.3,122.9 L1890.3,121.0 L1895.0,119.0 L1899.2,117.0 L1902.4,115.0 L1905.7,113.1 L1911.0,111.1 L1916.6,109.1 L1920.9,107.1 L1925.6,105.2 L1929.9,103.2 L1934.9,101.2 L1942.1,99.2 L1948.2,97.3 L1954.6,95.3 L1962.4,93.3 L1970.0,91.3 L1978.5,89.4 L1988.0,87.4 L1997.8,85.4 L2011.2,83.4 L2033.3,81.5 L2065.0,79.5 L2103.7,77.5 L2157.8,77.5" stroke="#5590E8"/>
<path d="M1225.9,709.6 L1268.2,709.6 L1268.2,709.6 L1288.7,707.6 L1307.3,705.6 L1324.0,703.7 L1337.1,701.7 L1361.0,699.7 L1388.6,697.7 L1398.0,695.8 L1405.7,693.8 L1416.1,691.8 L1424.6,689.8 L1431.1,687.9 L1437.2,685.9 L1442.1,683.9 L1446.2,681.9 L1449.7,680.0 L1453.7,678.0 L1457.1,676.0 L1458.8,674.0 L1462.4,672.1 L1466.5,670.1 L1469.8,668.1 L1474.9,666.1 L1479.4,664.2 L1482.0,662.2 L1486.6,660.2 L1490.8,658.2 L1494.5,656.3 L1499.4,654.3 L1502.8,652.3 L1506.0,650.3 L1510.2,648.4 L1514.6,646.4 L1518.8,644.4 L1522.2,642.4 L1524.9,640.5 L1527.9,638.5 L1530.0,636.5 L1532.6,634.5 L1535.5,632.6 L1537.8,630.6 L1539.8,628.6 L1543.1,626.6 L1545.4,624.7 L1546.2,622.7 L1548.8,620.7 L1550.0,618.7 L1552.6,616.8 L1555.8,614.8 L1556.8,612.8 L1559.6,610.8 L1561.6,608.9 L1563.1,606.9 L1566.3,604.9 L1568.3,602.9 L1569.2,601.0 L1570.1,599.0 L1572.3,597.0 L1575.5,595.0 L1576.3,593.1 L1578.1,591.1 L1580.3,589.1 L1580.7,587.1 L1581.2,585.2 L1583.5,583.2 L1584.3,581.2 L1585.2,579.2 L1586.4,577.3 L1586.7,575.3 L1588.7,573.3 L1591.1,571.3 L1592.6,569.4 L1592.6,567.4 L1593.0,565.4 L1593.5,563.4 L1593.9,561.5 L1595.6,559.5 L1596.8,557.5 L1597.8,555.5 L1599.0,553.6 L1600.2,551.6 L1600.8,549.6 L1602.0,547.6 L1604.6,545.6 L1605.9,543.7 L1606.0,541.7 L1607.1,539.7 L1608.8,537.7 L1608.8,535.8 L1610.0,533.8 L1611.5,531.8 L1611.9,529.8 L1612.7,527.9 L1614.7,525.9 L1616.8,523.9 L1617.6,521.9 L1618.3,520.0 L1619.8,518.0 L1621.7,516.0 L1622.0,514.0 L1622.4,512.1 L1624.4,510.1 L1625.2,508.1 L1625.6,506.1 L1628.3,504.2 L1629.7,502.2 L1629.7,500.2 L1630.1,498.2 L1630.8,496.3 L1631.2,494.3 L1632.5,492.3 L1634.5,490.3 L1635.4,488.4 L1635.9,486.4 L1636.3,484.4 L1637.2,482.4 L1638.0,480.5 L1639.3,478.5 L1640.4,476.5 L1640.6,474.5 L1642.0,472.6 L1643.5,470.6 L1643.6,468.6 L1645.1,466.6 L1646.2,464.7 L1647.4,462.7 L1649.2,460.7 L1651.4,458.7 L1653.1,456.8 L1653.4,454.8 L1654.9,452.8 L1656.2,450.8 L1656.7,448.9 L1659.0,446.9 L1660.1,444.9 L1660.8,442.9 L1663.4,441.0 L1665.4,439.0 L1666.4,437.0 L1667.6,435.0 L1670.4,433.1 L1670.9,431.1 L1671.5,429.1 L1673.9,427.1 L1674.0,425.2 L1674.0,423.2 L1675.3,421.2 L1676.3,419.2 L1676.3,417.3 L1678.9,415.3 L1679.8,413.3 L1679.8,411.3 L1679.8,409.4 L1680.8,407.4 L1681.5,405.4 L1681.6,403.4 L1682.3,401.5 L1684.1,399.5 L1685.1,397.5 L1685.1,395.5 L1685.2,393.6 L1685.8,391.6 L1686.5,389.6 L1687.9,387.6 L1689.3,385.6 L1690.3,383.7 L1691.5,381.7 L1692.8,379.7 L1694.1,377.7 L1695.2,375.8 L1696.6,373.8 L1697.4,371.8 L1697.4,369.8 L1698.1,367.9 L1699.5,365.9 L1700.3,363.9 L1700.9,361.9 L1702.4,360.0 L1704.8,358.0 L1705.5,356.0 L1705.9,354.0 L1707.4,352.1 L1708.6,350.1 L1709.4,348.1 L1709.6,346.1 L1709.9,344.2 L1710.6,342.2 L1712.5,340.2 L1712.5,338.2 L1712.5,336.3 L1714.4,334.3 L1714.6,332.3 L1716.1,330.3 L1717.3,328.4 L1717.6,326.4 L1718.5,324.4 L1719.8,322.4 L1720.9,320.5 L1721.5,318.5 L1722.5,316.5 L1723.5,314.5 L1724.4,312.6 L1724.8,310.6 L1725.6,308.6 L1725.6,306.6 L1725.8,304.7 L1728.2,302.7 L1728.4,300.7 L1728.9,298.7 L1730.2,296.8 L1731.9,294.8 L1732.5,292.8 L1732.5,290.8 L1734.1,288.9 L1735.2,286.9 L1735.2,284.9 L1736.2,282.9 L1738.2,281.0 L1740.6,279.0 L1744.1,277.0 L1745.4,275.0 L1746.6,273.1 L1749.0,271.1 L1751.1,269.1 L1752.6,267.1 L1753.2,265.2 L1753.9,263.2 L1754.1,261.2 L1754.9,259.2 L1756.2,257.3 L1757.7,255.3 L1758.1,253.3 L1759.4,251.3 L1760.8,249.4 L1761.7,247.4 L1762.8,245.4 L1763.6,243.4 L1764.6,241.5 L1765.6,239.5 L1766.3,237.5 L1767.5,235.5 L1769.4,233.5 L1770.1,231.6 L1770.4,229.6 L1771.9,227.6 L1772.6,225.6 L1773.9,223.7 L1775.5,221.7 L1776.5,219.7 L1778.7,217.7 L1780.6,215.8 L1783.1,213.8 L1784.7,211.8 L1786.1,209.8 L1788.6,207.9 L1790.6,205.9 L1792.9,203.9 L1794.5,201.9 L1796.4,200.0 L1797.9,198.0 L1798.7,196.0 L1801.4,194.0 L1802.4,192.1 L1802.9,190.1 L1804.8,188.1 L1805.9,186.1 L1807.4,184.2 L1809.8,182.2 L1810.1,180.2 L1811.2,178.2 L1813.6,176.3 L1814.3,174.3 L1815.8,172.3 L1817.5,170.3 L1819.0,168.4 L1820.5,166.4 L1821.5,164.4 L1822.9,162.4 L1825.5,160.5 L1827.9,158.5 L1830.5,156.5 L1833.1,154.5 L1834.9,152.6 L1837.4,150.6 L1841.0,148.6 L1843.6,146.6 L1844.2,144.7 L1846.9,142.7 L1851.2,140.7 L1855.2,138.7 L1858.0,136.8 L1861.0,134.8 L1864.2,132.8 L1866.2,130.8 L1869.6,128.9 L1874.3,126.9 L1876.7,124.9 L1878.0,122.9 L1881.3,121.0 L1885.9,119.0 L1889.3,117.0 L1892.6,115.0 L1896.8,113.1 L1901.5,111.1 L1907.5,109.1 L1912.3,107.1 L1917.2,105.2 L1923.9,103.2 L1929.1,101.2 L1933.8,99.2 L1940.5,97.3 L1948.8,95.3 L1956.1,93.3 L1964.5,91.3 L1974.5,89.4 L1982.8,87.4 L1991.6,85.4 L2005.2,83.4 L2028.4,81.5 L2062.5,79.5 L2103.1,77.5 L2157.8,77.5" stroke="#3DBFA0"/>
<path d="M1225.9,709.6 L1268.1,709.6 L1268.1,709.6 L1288.5,707.6 L1306.1,705.6 L1320.1,703.7 L1329.3,701.7 L1338.3,699.7 L1370.5,697.7 L1395.3,695.8 L1402.3,693.8 L1409.3,691.8 L1417.6,689.8 L1424.2,687.9 L1428.8,685.9 L1432.2,683.9 L1436.6,681.9 L1442.2,680.0 L1446.5,678.0 L1450.2,676.0 L1453.7,674.0 L1458.3,672.1 L1462.1,670.1 L1465.0,668.1 L1468.7,666.1 L1472.0,664.2 L1476.8,662.2 L1481.3,660.2 L1484.4,658.2 L1488.5,656.3 L1492.7,654.3 L1496.7,652.3 L1501.3,650.3 L1505.3,648.4 L1508.6,646.4 L1510.7,644.4 L1513.1,642.4 L1517.6,640.5 L1519.7,638.5 L1521.9,636.5 L1525.6,634.5 L1527.2,632.6 L1528.9,630.6 L1531.9,628.6 L1534.6,626.6 L1536.0,624.7 L1537.4,622.7 L1540.5,620.7 L1543.6,618.7 L1545.2,616.8 L1546.6,614.8 L1547.7,612.8 L1549.0,610.8 L1552.4,608.9 L1555.2,606.9 L1557.0,604.9 L1558.9,602.9 L1560.9,601.0 L1563.7,599.0 L1565.1,597.0 L1565.7,595.0 L1567.0,593.1 L1569.6,591.1 L1572.2,589.1 L1574.0,587.1 L1574.8,585.2 L1576.5,583.2 L1577.9,581.2 L1578.6,579.2 L1579.9,577.3 L1580.5,575.3 L1582.0,573.3 L1583.8,571.3 L1584.1,569.4 L1585.5,567.4 L1587.3,565.4 L1588.3,563.4 L1589.9,561.5 L1590.9,559.5 L1590.9,557.5 L1590.9,555.5 L1592.9,553.6 L1595.8,551.6 L1596.5,549.6 L1596.7,547.6 L1598.3,545.6 L1599.3,543.7 L1600.0,541.7 L1600.9,539.7 L1601.6,537.7 L1603.4,535.8 L1605.2,533.8 L1606.1,531.8 L1606.9,529.8 L1608.1,527.9 L1610.9,525.9 L1612.6,523.9 L1612.6,521.9 L1612.6,520.0 L1615.3,518.0 L1616.1,516.0 L1616.7,514.0 L1617.6,512.1 L1619.0,510.1 L1619.8,508.1 L1619.8,506.1 L1621.4,504.2 L1622.5,502.2 L1623.2,500.2 L1625.1,498.2 L1626.1,496.3 L1626.3,494.3 L1626.6,492.3 L1627.8,490.3 L1628.4,488.4 L1629.2,486.4 L1630.0,484.4 L1631.3,482.4 L1631.8,480.5 L1632.2,478.5 L1632.9,476.5 L1633.3,474.5 L1633.8,472.6 L1634.3,470.6 L1636.1,468.6 L1637.0,466.6 L1638.2,464.7 L1639.8,462.7 L1640.3,460.7 L1641.1,458.7 L1641.8,456.8 L1643.4,454.8 L1645.2,452.8 L1645.8,450.8 L1646.6,448.9 L1648.6,446.9 L1650.4,444.9 L1650.6,442.9 L1652.0,441.0 L1654.3,439.0 L1655.2,437.0 L1656.3,435.0 L1656.7,433.1 L1656.8,431.1 L1658.6,429.1 L1660.0,427.1 L1661.3,425.2 L1661.6,423.2 L1661.6,421.2 L1663.0,419.2 L1664.3,417.3 L1665.2,415.3 L1666.1,413.3 L1667.2,411.3 L1667.9,409.4 L1668.0,407.4 L1668.6,405.4 L1668.6,403.4 L1668.9,401.5 L1670.1,399.5 L1670.9,397.5 L1672.0,395.5 L1672.0,393.6 L1673.9,391.6 L1676.2,389.6 L1677.1,387.6 L1678.0,385.6 L1678.0,383.7 L1678.5,381.7 L1679.7,379.7 L1681.0,377.7 L1683.8,375.8 L1685.5,373.8 L1685.5,371.8 L1686.9,369.8 L1689.9,367.9 L1691.7,365.9 L1692.8,363.9 L1693.1,361.9 L1694.5,360.0 L1696.4,358.0 L1696.4,356.0 L1696.7,354.0 L1698.7,352.1 L1698.9,350.1 L1700.4,348.1 L1701.1,346.1 L1701.3,344.2 L1703.2,342.2 L1704.6,340.2 L1705.6,338.2 L1705.6,336.3 L1706.4,334.3 L1708.5,332.3 L1708.7,330.3 L1709.1,328.4 L1709.7,326.4 L1709.9,324.4 L1710.5,322.4 L1711.5,320.5 L1711.9,318.5 L1711.9,316.5 L1713.6,314.5 L1715.4,312.6 L1717.2,310.6 L1719.2,308.6 L1719.2,306.6 L1719.2,304.7 L1719.5,302.7 L1720.9,300.7 L1722.2,298.7 L1723.4,296.8 L1723.4,294.8 L1724.9,292.8 L1726.7,290.8 L1726.7,288.9 L1726.7,286.9 L1728.4,284.9 L1730.5,282.9 L1731.9,281.0 L1731.9,279.0 L1732.5,277.0 L1735.3,275.0 L1737.4,273.1 L1739.4,271.1 L1741.1,269.1 L1741.9,267.1 L1743.8,265.2 L1745.0,263.2 L1747.3,261.2 L1749.4,259.2 L1749.8,257.3 L1751.4,255.3 L1753.8,253.3 L1754.8,251.3 L1754.8,249.4 L1757.0,247.4 L1760.1,245.4 L1761.5,243.4 L1763.1,241.5 L1764.2,239.5 L1766.3,237.5 L1768.2,235.5 L1769.7,233.5 L1770.4,231.6 L1770.9,229.6 L1773.1,227.6 L1775.2,225.6 L1775.9,223.7 L1776.7,221.7 L1777.8,219.7 L1779.9,217.7 L1781.5,215.8 L1781.5,213.8 L1783.0,211.8 L1785.6,209.8 L1787.9,207.9 L1789.5,205.9 L1790.9,203.9 L1792.7,201.9 L1794.0,200.0 L1794.2,198.0 L1795.7,196.0 L1797.8,194.0 L1799.2,192.1 L1801.0,190.1 L1803.0,188.1 L1803.0,186.1 L1803.1,184.2 L1805.0,182.2 L1805.7,180.2 L1807.4,178.2 L1809.4,176.3 L1810.3,174.3 L1811.2,172.3 L1812.0,170.3 L1812.7,168.4 L1815.4,166.4 L1817.1,164.4 L1817.6,162.4 L1820.1,160.5 L1822.4,158.5 L1824.2,156.5 L1825.6,154.5 L1828.8,152.6 L1832.1,150.6 L1835.0,148.6 L1838.7,146.6 L1841.8,144.7 L1845.1,142.7 L1848.9,140.7 L1852.5,138.7 L1854.8,136.8 L1857.6,134.8 L1860.6,132.8 L1863.3,130.8 L1867.1,128.9 L1872.1,126.9 L1875.8,124.9 L1878.3,122.9 L1881.6,121.0 L1885.4,119.0 L1888.9,117.0 L1892.9,115.0 L1897.7,113.1 L1902.9,111.1 L1908.1,109.1 L1912.4,107.1 L1915.7,105.2 L1920.6,103.2 L1928.0,101.2 L1934.4,99.2 L1941.1,97.3 L1948.0,95.3 L1955.9,93.3 L1965.3,91.3 L1973.5,89.4 L1982.6,87.4 L1993.5,85.4 L2006.5,83.4 L2029.1,81.5 L2062.8,79.5 L2103.8,77.5 L2157.8,77.5" stroke="#6BBE45"/>
<path d="M1225.9,709.6 L1267.4,709.6 L1267.4,709.6 L1284.5,707.6 L1300.1,705.6 L1314.2,703.7 L1325.8,701.7 L1333.5,699.7 L1344.7,697.7 L1386.0,695.8 L1397.6,693.8 L1403.9,691.8 L1410.7,689.8 L1418.1,687.9 L1423.6,685.9 L1429.0,683.9 L1434.6,681.9 L1437.5,680.0 L1441.9,678.0 L1446.2,676.0 L1449.9,674.0 L1453.9,672.1 L1456.3,670.1 L1459.7,668.1 L1464.6,666.1 L1469.9,664.2 L1474.4,662.2 L1477.7,660.2 L1482.6,658.2 L1488.2,656.3 L1492.7,654.3 L1495.9,652.3 L1500.3,650.3 L1505.4,648.4 L1507.3,646.4 L1510.3,644.4 L1513.0,642.4 L1514.5,640.5 L1518.1,638.5 L1521.1,636.5 L1523.0,634.5 L1525.8,632.6 L1527.4,630.6 L1529.3,628.6 L1531.2,626.6 L1531.6,624.7 L1533.2,622.7 L1534.9,620.7 L1537.5,618.7 L1540.1,616.8 L1541.8,614.8 L1542.5,612.8 L1544.0,610.8 L1545.9,608.9 L1547.4,606.9 L1549.3,604.9 L1550.0,602.9 L1552.0,601.0 L1554.7,599.0 L1556.0,597.0 L1558.3,595.0 L1561.6,593.1 L1563.5,591.1 L1565.2,589.1 L1567.1,587.1 L1569.5,585.2 L1571.3,583.2 L1571.9,581.2 L1572.9,579.2 L1575.3,577.3 L1578.0,575.3 L1579.2,573.3 L1580.6,571.3 L1581.7,569.4 L1582.6,567.4 L1585.0,565.4 L1587.8,563.4 L1588.3,561.5 L1588.9,559.5 L1591.3,557.5 L1592.9,555.5 L1592.9,553.6 L1593.5,551.6 L1594.9,549.6 L1596.6,547.6 L1598.8,545.6 L1600.0,543.7 L1600.0,541.7 L1601.3,539.7 L1603.3,537.7 L1603.9,535.8 L1606.2,533.8 L1608.4,531.8 L1609.0,529.8 L1609.7,527.9 L1609.7,525.9 L1610.7,523.9 L1612.8,521.9 L1614.0,520.0 L1614.1,518.0 L1615.3,516.0 L1616.8,514.0 L1616.8,512.1 L1617.2,510.1 L1618.9,508.1 L1619.8,506.1 L1620.6,504.2 L1621.6,502.2 L1621.6,500.2 L1621.6,498.2 L1622.2,496.3 L1623.4,494.3 L1623.4,492.3 L1624.1,490.3 L1624.3,488.4 L1624.3,486.4 L1625.6,484.4 L1627.0,482.4 L1627.5,480.5 L1627.8,478.5 L1628.6,476.5 L1630.3,474.5 L1631.3,472.6 L1631.7,470.6 L1632.5,468.6 L1632.5,466.6 L1633.4,464.7 L1635.9,462.7 L1636.7,460.7 L1636.9,458.7 L1638.2,456.8 L1639.4,454.8 L1640.7,452.8 L1641.1,450.8 L1641.1,448.9 L1641.8,446.9 L1644.0,444.9 L1645.4,442.9 L1645.9,441.0 L1647.6,439.0 L1648.7,437.0 L1648.7,435.0 L1649.6,433.1 L1651.0,431.1 L1652.2,429.1 L1653.7,427.1 L1654.1,425.2 L1654.2,423.2 L1654.9,421.2 L1656.2,419.2 L1657.5,417.3 L1657.5,415.3 L1657.5,413.3 L1659.3,411.3 L1659.6,409.4 L1660.0,407.4 L1662.8,405.4 L1663.9,403.4 L1664.0,401.5 L1664.0,399.5 L1664.0,397.5 L1665.6,395.5 L1667.6,393.6 L1667.6,391.6 L1668.2,389.6 L1669.5,387.6 L1670.9,385.6 L1672.4,383.7 L1672.5,381.7 L1673.7,379.7 L1676.1,377.7 L1676.9,375.8 L1679.7,373.8 L1681.8,371.8 L1683.1,369.8 L1685.3,367.9 L1686.3,365.9 L1687.3,363.9 L1688.5,361.9 L1690.6,360.0 L1691.5,358.0 L1692.8,356.0 L1694.4,354.0 L1694.4,352.1 L1695.8,350.1 L1697.3,348.1 L1697.9,346.1 L1700.6,344.2 L1701.6,342.2 L1701.6,340.2 L1702.5,338.2 L1703.4,336.3 L1703.4,334.3 L1704.1,332.3 L1705.1,330.3 L1705.1,328.4 L1706.0,326.4 L1708.8,324.4 L1710.2,322.4 L1710.2,320.5 L1710.5,318.5 L1712.5,316.5 L1713.4,314.5 L1713.7,312.6 L1714.4,310.6 L1714.8,308.6 L1715.2,306.6 L1715.5,304.7 L1716.4,302.7 L1719.2,300.7 L1720.3,298.7 L1720.3,296.8 L1720.8,294.8 L1722.2,292.8 L1723.0,290.8 L1724.3,288.9 L1725.5,286.9 L1726.0,284.9 L1726.5,282.9 L1727.9,281.0 L1729.7,279.0 L1730.2,277.0 L1731.4,275.0 L1733.6,273.1 L1734.0,271.1 L1734.8,269.1 L1735.9,267.1 L1736.0,265.2 L1737.8,263.2 L1739.9,261.2 L1740.4,259.2 L1741.1,257.3 L1742.6,255.3 L1744.0,253.3 L1744.4,251.3 L1744.4,249.4 L1745.0,247.4 L1746.2,245.4 L1747.0,243.4 L1748.6,241.5 L1750.9,239.5 L1752.4,237.5 L1753.9,235.5 L1755.5,233.5 L1755.5,231.6 L1756.6,229.6 L1757.7,227.6 L1759.8,225.6 L1763.4,223.7 L1764.8,221.7 L1764.8,219.7 L1766.9,217.7 L1769.8,215.8 L1771.6,213.8 L1774.2,211.8 L1775.1,209.8 L1775.1,207.9 L1777.6,205.9 L1781.0,203.9 L1781.7,201.9 L1784.1,200.0 L1788.6,198.0 L1791.1,196.0 L1793.0,194.0 L1794.5,192.1 L1796.8,190.1 L1798.9,188.1 L1799.7,186.1 L1801.0,184.2 L1803.2,182.2 L1804.5,180.2 L1804.5,178.2 L1805.3,176.3 L1806.2,174.3 L1806.3,172.3 L1808.0,170.3 L1809.2,168.4 L1810.7,166.4 L1812.5,164.4 L1813.5,162.4 L1815.1,160.5 L1818.7,158.5 L1821.3,156.5 L1823.3,154.5 L1827.0,152.6 L1829.5,150.6 L1831.5,148.6 L1834.9,146.6 L1839.8,144.7 L1842.5,142.7 L1844.4,140.7 L1848.3,138.7 L1851.3,136.8 L1854.0,134.8 L1857.8,132.8 L1862.5,130.8 L1865.2,128.9 L1867.9,126.9 L1872.2,124.9 L1876.1,122.9 L1880.3,121.0 L1884.4,119.0 L1889.0,117.0 L1892.0,115.0 L1896.3,113.1 L1902.5,111.1 L1906.9,109.1 L1911.7,107.1 L1916.4,105.2 L1922.3,103.2 L1928.9,101.2 L1934.5,99.2 L1941.4,97.3 L1949.5,95.3 L1957.2,93.3 L1965.5,91.3 L1975.5,89.4 L1983.4,87.4 L1992.2,85.4 L2007.2,83.4 L2029.8,81.5 L2062.9,79.5 L2103.1,77.5 L2157.8,77.5" stroke="#F4BE7A"/>
<path d="M1225.9,709.6 L1268.6,709.6 L1268.6,709.6 L1285.6,707.6 L1301.0,705.6 L1315.2,703.7 L1325.1,701.7 L1332.5,699.7 L1345.0,697.7 L1385.3,695.8 L1395.6,693.8 L1402.9,691.8 L1411.3,689.8 L1417.4,687.9 L1422.3,685.9 L1428.4,683.9 L1433.2,681.9 L1437.8,680.0 L1442.8,678.0 L1446.8,676.0 L1449.7,674.0 L1453.2,672.1 L1456.1,670.1 L1459.3,668.1 L1464.0,666.1 L1469.0,664.2 L1473.5,662.2 L1478.0,660.2 L1483.8,658.2 L1488.1,656.3 L1492.4,654.3 L1497.5,652.3 L1501.8,650.3 L1505.0,648.4 L1508.4,646.4 L1511.3,644.4 L1512.1,642.4 L1514.8,640.5 L1519.1,638.5 L1521.6,636.5 L1523.0,634.5 L1525.3,632.6 L1526.9,630.6 L1527.8,628.6 L1530.9,626.6 L1533.7,624.7 L1534.3,622.7 L1535.8,620.7 L1537.7,618.7 L1539.9,616.8 L1541.7,614.8 L1542.6,612.8 L1543.6,610.8 L1545.2,608.9 L1547.6,606.9 L1548.7,604.9 L1549.8,602.9 L1552.1,601.0 L1555.3,599.0 L1556.2,597.0 L1557.9,595.0 L1561.9,593.1 L1563.9,591.1 L1564.9,589.1 L1565.6,587.1 L1568.0,585.2 L1571.4,583.2 L1572.8,581.2 L1573.9,579.2 L1576.0,577.3 L1577.1,575.3 L1577.7,573.3 L1578.9,571.3 L1580.4,569.4 L1582.2,567.4 L1584.5,565.4 L1586.5,563.4 L1588.0,561.5 L1590.1,559.5 L1590.7,557.5 L1591.6,555.5 L1593.3,553.6 L1594.2,551.6 L1596.4,549.6 L1597.6,547.6 L1597.6,545.6 L1597.6,543.7 L1599.4,541.7 L1602.4,539.7 L1603.3,537.7 L1604.0,535.8 L1604.8,533.8 L1605.9,531.8 L1607.3,529.8 L1608.7,527.9 L1610.1,525.9 L1611.1,523.9 L1611.6,521.9 L1612.0,520.0 L1612.8,518.0 L1614.5,516.0 L1615.9,514.0 L1616.1,512.1 L1616.1,510.1 L1617.3,508.1 L1618.5,506.1 L1618.5,504.2 L1619.6,502.2 L1620.8,500.2 L1620.8,498.2 L1621.2,496.3 L1622.1,494.3 L1622.1,492.3 L1622.7,490.3 L1623.9,488.4 L1624.6,486.4 L1625.3,484.4 L1625.9,482.4 L1626.1,480.5 L1626.4,478.5 L1627.2,476.5 L1627.7,474.5 L1628.3,472.6 L1630.1,470.6 L1631.8,468.6 L1632.1,466.6 L1633.0,464.7 L1634.0,462.7 L1635.3,460.7 L1635.5,458.7 L1636.0,456.8 L1637.8,454.8 L1638.8,452.8 L1640.3,450.8 L1640.8,448.9 L1641.8,446.9 L1643.0,444.9 L1644.8,442.9 L1645.4,441.0 L1645.4,439.0 L1646.5,437.0 L1646.8,435.0 L1646.8,433.1 L1649.8,431.1 L1652.4,429.1 L1652.4,427.1 L1652.4,425.2 L1653.7,423.2 L1654.2,421.2 L1655.9,419.2 L1656.2,417.3 L1656.9,415.3 L1657.8,413.3 L1657.8,411.3 L1658.3,409.4 L1659.3,407.4 L1660.0,405.4 L1660.5,403.4 L1662.8,401.5 L1664.4,399.5 L1664.4,397.5 L1665.1,395.5 L1665.8,393.6 L1665.8,391.6 L1667.2,389.6 L1668.1,387.6 L1669.0,385.6 L1671.5,383.7 L1673.4,381.7 L1674.8,379.7 L1676.1,377.7 L1676.2,375.8 L1678.0,373.8 L1680.2,371.8 L1681.6,369.8 L1684.6,367.9 L1687.5,365.9 L1687.9,363.9 L1688.2,361.9 L1688.9,360.0 L1690.3,358.0 L1691.6,356.0 L1693.5,354.0 L1695.1,352.1 L1695.2,350.1 L1696.2,348.1 L1697.2,346.1 L1697.7,344.2 L1699.5,342.2 L1701.0,340.2 L1702.2,338.2 L1702.9,336.3 L1703.5,334.3 L1704.1,332.3 L1704.1,330.3 L1705.3,328.4 L1706.9,326.4 L1707.3,324.4 L1708.9,322.4 L1709.9,320.5 L1709.9,318.5 L1709.9,316.5 L1710.1,314.5 L1711.9,312.6 L1714.9,310.6 L1716.0,308.6 L1716.0,306.6 L1716.2,304.7 L1717.9,302.7 L1718.0,300.7 L1718.0,298.7 L1719.4,296.8 L1720.9,294.8 L1720.9,292.8 L1720.9,290.8 L1722.4,288.9 L1723.8,286.9 L1725.2,284.9 L1726.1,282.9 L1726.1,281.0 L1726.3,279.0 L1729.2,277.0 L1731.5,275.0 L1731.5,273.1 L1732.3,271.1 L1733.6,269.1 L1734.8,267.1 L1736.2,265.2 L1736.4,263.2 L1737.5,261.2 L1738.8,259.2 L1739.9,257.3 L1740.9,255.3 L1741.4,253.3 L1741.9,251.3 L1743.6,249.4 L1744.8,247.4 L1746.0,245.4 L1748.3,243.4 L1748.8,241.5 L1748.8,239.5 L1750.8,237.5 L1752.6,235.5 L1752.9,233.5 L1754.0,231.6 L1755.3,229.6 L1757.0,227.6 L1758.9,225.6 L1760.6,223.7 L1761.8,221.7 L1762.9,219.7 L1765.9,217.7 L1767.1,215.8 L1769.0,213.8 L1771.1,211.8 L1771.8,209.8 L1774.7,207.9 L1777.8,205.9 L1779.8,203.9 L1782.7,201.9 L1784.6,200.0 L1785.1,198.0 L1787.4,196.0 L1790.6,194.0 L1793.2,192.1 L1795.2,190.1 L1797.8,188.1 L1799.4,186.1 L1799.4,184.2 L1799.4,182.2 L1802.1,180.2 L1804.7,178.2 L1804.7,176.3 L1804.7,174.3 L1804.7,172.3 L1806.4,170.3 L1807.5,168.4 L1808.6,166.4 L1810.1,164.4 L1812.7,162.4 L1814.2,160.5 L1816.3,158.5 L1818.9,156.5 L1820.5,154.5 L1823.7,152.6 L1826.7,150.6 L1829.1,148.6 L1831.8,146.6 L1835.9,144.7 L1839.6,142.7 L1842.4,140.7 L1846.1,138.7 L1848.7,136.8 L1852.2,134.8 L1857.4,132.8 L1860.4,130.8 L1863.4,128.9 L1866.3,126.9 L1869.4,124.9 L1875.0,122.9 L1879.1,121.0 L1882.8,119.0 L1887.1,117.0 L1891.2,115.0 L1895.2,113.1 L1898.8,111.1 L1904.1,109.1 L1909.1,107.1 L1913.9,105.2 L1920.0,103.2 L1926.6,101.2 L1933.4,99.2 L1941.1,97.3 L1948.8,95.3 L1956.3,93.3 L1964.3,91.3 L1973.2,89.4 L1983.0,87.4 L1994.2,85.4 L2007.0,83.4 L2028.1,81.5 L2061.9,79.5 L2103.9,77.5 L2157.8,77.5" stroke="#EC7E1C"/>
<path d="M1225.9,709.6 L1267.2,709.6 L1267.2,709.6 L1282.9,707.6 L1298.6,705.6 L1313.5,703.7 L1322.7,701.7 L1326.9,699.7 L1335.0,697.7 L1363.1,695.8 L1395.5,693.8 L1401.3,691.8 L1405.6,689.8 L1411.5,687.9 L1417.3,685.9 L1423.3,683.9 L1428.2,681.9 L1431.7,680.0 L1436.3,678.0 L1441.0,676.0 L1444.8,674.0 L1448.3,672.1 L1451.4,670.1 L1455.3,668.1 L1458.9,666.1 L1461.4,664.2 L1465.2,662.2 L1468.5,660.2 L1471.7,658.2 L1476.0,656.3 L1481.6,654.3 L1485.9,652.3 L1488.7,650.3 L1492.2,648.4 L1496.2,646.4 L1499.1,644.4 L1502.6,642.4 L1506.1,640.5 L1508.1,638.5 L1511.0,636.5 L1514.3,634.5 L1516.4,632.6 L1517.1,630.6 L1518.4,628.6 L1520.8,626.6 L1521.8,624.7 L1523.0,622.7 L1525.2,620.7 L1526.3,618.7 L1529.0,616.8 L1532.0,614.8 L1533.6,612.8 L1535.7,610.8 L1537.4,608.9 L1537.6,606.9 L1538.9,604.9 L1541.3,602.9 L1543.8,601.0 L1545.1,599.0 L1548.2,597.0 L1549.8,595.0 L1551.3,593.1 L1554.3,591.1 L1556.4,589.1 L1558.3,587.1 L1559.5,585.2 L1562.7,583.2 L1565.3,581.2 L1567.0,579.2 L1569.0,577.3 L1571.8,575.3 L1574.4,573.3 L1576.0,571.3 L1577.8,569.4 L1578.6,567.4 L1578.9,565.4 L1580.0,563.4 L1580.7,561.5 L1580.8,559.5 L1582.2,557.5 L1584.2,555.5 L1584.5,553.6 L1586.1,551.6 L1587.1,549.6 L1587.5,547.6 L1589.7,545.6 L1590.3,543.7 L1590.3,541.7 L1590.9,539.7 L1592.9,537.7 L1594.9,535.8 L1596.8,533.8 L1596.9,531.8 L1598.2,529.8 L1601.2,527.9 L1602.9,525.9 L1603.0,523.9 L1603.1,521.9 L1604.6,520.0 L1606.3,518.0 L1607.0,516.0 L1607.3,514.0 L1609.6,512.1 L1610.3,510.1 L1610.3,508.1 L1610.9,506.1 L1611.0,504.2 L1611.0,502.2 L1612.7,500.2 L1614.6,498.2 L1615.0,496.3 L1615.0,494.3 L1615.3,492.3 L1616.1,490.3 L1616.2,488.4 L1617.0,486.4 L1618.7,484.4 L1618.9,482.4 L1618.9,480.5 L1620.7,478.5 L1620.9,476.5 L1620.9,474.5 L1621.7,472.6 L1622.2,470.6 L1624.1,468.6 L1625.0,466.6 L1625.0,464.7 L1626.1,462.7 L1628.5,460.7 L1629.8,458.7 L1630.0,456.8 L1630.0,454.8 L1631.3,452.8 L1632.4,450.8 L1633.6,448.9 L1635.1,446.9 L1635.8,444.9 L1637.0,442.9 L1638.2,441.0 L1639.8,439.0 L1640.8,437.0 L1641.5,435.0 L1642.7,433.1 L1643.7,431.1 L1643.7,429.1 L1644.4,427.1 L1645.8,425.2 L1645.9,423.2 L1648.0,421.2 L1649.8,419.2 L1650.2,417.3 L1650.2,415.3 L1651.0,413.3 L1652.4,411.3 L1652.5,409.4 L1653.5,407.4 L1654.2,405.4 L1654.6,403.4 L1656.0,401.5 L1657.4,399.5 L1657.4,397.5 L1658.0,395.5 L1659.9,393.6 L1660.2,391.6 L1661.9,389.6 L1662.4,387.6 L1663.1,385.6 L1665.8,383.7 L1668.1,381.7 L1668.3,379.7 L1669.1,377.7 L1671.4,375.8 L1672.9,373.8 L1675.1,371.8 L1675.6,369.8 L1677.2,367.9 L1680.2,365.9 L1681.8,363.9 L1682.4,361.9 L1683.8,360.0 L1686.2,358.0 L1687.4,356.0 L1687.7,354.0 L1688.8,352.1 L1690.3,350.1 L1691.4,348.1 L1693.5,346.1 L1694.5,344.2 L1694.5,342.2 L1696.2,340.2 L1697.2,338.2 L1698.0,336.3 L1699.5,334.3 L1700.1,332.3 L1700.8,330.3 L1701.3,328.4 L1701.3,326.4 L1703.3,324.4 L1706.0,322.4 L1706.0,320.5 L1706.0,318.5 L1706.0,316.5 L1707.2,314.5 L1707.7,312.6 L1708.0,310.6 L1708.5,308.6 L1709.0,306.6 L1710.6,304.7 L1712.8,302.7 L1713.3,300.7 L1714.0,298.7 L1715.0,296.8 L1715.0,294.8 L1715.0,292.8 L1717.3,290.8 L1717.7,288.9 L1717.8,286.9 L1720.0,284.9 L1721.4,282.9 L1721.5,281.0 L1722.0,279.0 L1724.5,277.0 L1727.9,275.0 L1729.7,273.1 L1730.9,271.1 L1732.8,269.1 L1734.7,267.1 L1735.8,265.2 L1736.8,263.2 L1737.5,261.2 L1738.7,259.2 L1741.5,257.3 L1743.2,255.3 L1744.0,253.3 L1744.9,251.3 L1747.1,249.4 L1748.6,247.4 L1750.0,245.4 L1750.6,243.4 L1751.3,241.5 L1754.2,239.5 L1756.5,237.5 L1757.4,235.5 L1758.3,233.5 L1758.3,231.6 L1758.9,229.6 L1761.2,227.6 L1763.7,225.6 L1766.7,223.7 L1767.8,221.7 L1768.6,219.7 L1771.6,217.7 L1773.0,215.8 L1774.4,213.8 L1778.2,211.8 L1780.9,209.8 L1783.8,207.9 L1786.2,205.9 L1789.7,203.9 L1792.7,201.9 L1792.7,200.0 L1793.6,198.0 L1797.9,196.0 L1798.8,194.0 L1798.9,192.1 L1800.9,190.1 L1802.1,188.1 L1803.7,186.1 L1805.8,184.2 L1807.3,182.2 L1808.8,180.2 L1809.7,178.2 L1811.2,176.3 L1812.6,174.3 L1813.7,172.3 L1815.5,170.3 L1816.4,168.4 L1818.0,166.4 L1820.3,164.4 L1822.9,162.4 L1824.6,160.5 L1825.5,158.5 L1828.7,156.5 L1830.8,154.5 L1832.6,152.6 L1837.3,150.6 L1841.2,148.6 L1844.6,146.6 L1847.9,144.7 L1850.8,142.7 L1855.1,140.7 L1859.8,138.7 L1863.9,136.8 L1866.5,134.8 L1868.7,132.8 L1872.7,130.8 L1876.4,128.9 L1879.7,126.9 L1883.9,124.9 L1887.2,122.9 L1892.2,121.0 L1897.5,119.0 L1899.3,117.0 L1903.0,115.0 L1908.8,113.1 L1914.1,111.1 L1919.6,109.1 L1925.9,107.1 L1932.0,105.2 L1937.4,103.2 L1943.5,101.2 L1949.9,99.2 L1956.9,97.3 L1963.2,95.3 L1969.0,93.3 L1976.1,91.3 L1984.9,89.4 L1993.8,87.4 L2001.7,85.4 L2012.7,83.4 L2032.6,81.5 L2064.8,79.5 L2103.3,77.5 L2157.8,77.5" stroke="#EE2626"/>
<path d="M1225.9,709.6 L1267.8,709.6 L1267.8,709.6 L1318.8,707.6 L1373.9,705.6 L1401.8,703.7 L1409.8,701.7 L1413.4,699.7 L1417.7,697.7 L1433.7,695.8 L1437.5,693.8 L1441.8,691.8 L1447.4,689.8 L1450.0,687.9 L1452.6,685.9 L1454.9,683.9 L1456.0,681.9 L1458.5,680.0 L1460.2,678.0 L1461.4,676.0 L1465.4,674.0 L1471.8,672.1 L1477.4,670.1 L1483.4,668.1 L1489.1,666.1 L1493.3,664.2 L1499.5,662.2 L1504.4,660.2 L1508.5,658.2 L1515.3,656.3 L1521.1,654.3 L1525.6,652.3 L1529.6,650.3 L1532.0,648.4 L1534.2,646.4 L1535.2,644.4 L1537.0,642.4 L1538.8,640.5 L1538.8,638.5 L1539.2,636.5 L1541.2,634.5 L1542.2,632.6 L1543.9,630.6 L1545.3,628.6 L1545.8,626.6 L1547.3,624.7 L1548.5,622.7 L1548.5,620.7 L1549.0,618.7 L1551.9,616.8 L1553.9,614.8 L1555.5,612.8 L1556.0,610.8 L1559.0,608.9 L1560.5,606.9 L1560.6,604.9 L1562.5,602.9 L1564.3,601.0 L1566.7,599.0 L1568.8,597.0 L1569.1,595.0 L1570.8,593.1 L1573.0,591.1 L1574.3,589.1 L1576.5,587.1 L1578.1,585.2 L1578.8,583.2 L1580.4,581.2 L1582.9,579.2 L1584.5,577.3 L1584.5,575.3 L1585.0,573.3 L1586.7,571.3 L1588.7,569.4 L1590.8,567.4 L1593.1,565.4 L1594.8,563.4 L1594.8,561.5 L1594.8,559.5 L1594.8,557.5 L1596.0,555.5 L1596.5,553.6 L1596.9,551.6 L1597.9,549.6 L1598.4,547.6 L1598.9,545.6 L1599.7,543.7 L1601.2,541.7 L1602.5,539.7 L1602.5,537.7 L1602.5,535.8 L1604.6,533.8 L1606.4,531.8 L1606.6,529.8 L1606.6,527.9 L1607.6,525.9 L1608.6,523.9 L1609.1,521.9 L1611.1,520.0 L1612.2,518.0 L1613.2,516.0 L1614.2,514.0 L1615.3,512.1 L1616.2,510.1 L1616.2,508.1 L1618.5,506.1 L1620.2,504.2 L1621.4,502.2 L1622.4,500.2 L1622.4,498.2 L1623.6,496.3 L1625.1,494.3 L1626.7,492.3 L1626.9,490.3 L1626.9,488.4 L1628.4,486.4 L1629.1,484.4 L1630.5,482.4 L1631.8,480.5 L1632.5,478.5 L1634.1,476.5 L1635.5,474.5 L1635.5,472.6 L1636.1,470.6 L1638.9,468.6 L1639.6,466.6 L1639.7,464.7 L1640.9,462.7 L1643.2,460.7 L1644.8,458.7 L1645.1,456.8 L1646.0,454.8 L1648.4,452.8 L1651.6,450.8 L1652.2,448.9 L1653.1,446.9 L1655.2,444.9 L1656.4,442.9 L1658.2,441.0 L1659.4,439.0 L1660.1,437.0 L1662.3,435.0 L1662.7,433.1 L1664.4,431.1 L1667.1,429.1 L1667.1,427.1 L1667.1,425.2 L1668.8,423.2 L1670.1,421.2 L1671.3,419.2 L1672.1,417.3 L1672.2,415.3 L1672.2,413.3 L1672.7,411.3 L1674.4,409.4 L1674.4,407.4 L1674.6,405.4 L1675.3,403.4 L1676.0,401.5 L1676.2,399.5 L1677.0,397.5 L1678.0,395.5 L1678.2,393.6 L1679.1,391.6 L1680.5,389.6 L1682.0,387.6 L1683.2,385.6 L1684.3,383.7 L1684.9,381.7 L1684.9,379.7 L1685.4,377.7 L1687.3,375.8 L1688.8,373.8 L1690.4,371.8 L1690.8,369.8 L1691.5,367.9 L1694.0,365.9 L1695.2,363.9 L1695.2,361.9 L1695.3,360.0 L1696.5,358.0 L1697.3,356.0 L1700.1,354.0 L1701.3,352.1 L1701.9,350.1 L1703.5,348.1 L1704.1,346.1 L1704.3,344.2 L1705.9,342.2 L1706.2,340.2 L1707.3,338.2 L1708.5,336.3 L1708.5,334.3 L1709.5,332.3 L1710.6,330.3 L1711.2,328.4 L1712.3,326.4 L1713.3,324.4 L1714.7,322.4 L1715.1,320.5 L1715.1,318.5 L1716.2,316.5 L1718.8,314.5 L1719.5,312.6 L1719.5,310.6 L1719.5,308.6 L1720.0,306.6 L1722.1,304.7 L1723.1,302.7 L1724.4,300.7 L1724.4,298.7 L1724.4,296.8 L1726.6,294.8 L1727.3,292.8 L1727.3,290.8 L1727.3,288.9 L1728.9,286.9 L1730.3,284.9 L1732.2,282.9 L1734.0,281.0 L1734.5,279.0 L1737.0,277.0 L1740.8,275.0 L1742.8,273.1 L1744.9,271.1 L1747.2,269.1 L1747.9,267.1 L1750.2,265.2 L1752.8,263.2 L1753.9,261.2 L1754.7,259.2 L1755.4,257.3 L1757.7,255.3 L1759.5,253.3 L1760.8,251.3 L1762.7,249.4 L1764.2,247.4 L1765.7,245.4 L1766.9,243.4 L1768.3,241.5 L1768.6,239.5 L1769.6,237.5 L1772.3,235.5 L1774.2,233.5 L1775.1,231.6 L1775.2,229.6 L1777.3,227.6 L1779.3,225.6 L1780.8,223.7 L1783.8,221.7 L1787.1,219.7 L1790.2,217.7 L1792.4,215.8 L1794.0,213.8 L1797.3,211.8 L1799.4,209.8 L1800.8,207.9 L1804.3,205.9 L1808.1,203.9 L1810.9,201.9 L1811.8,200.0 L1812.6,198.0 L1814.6,196.0 L1816.7,194.0 L1818.0,192.1 L1818.9,190.1 L1820.2,188.1 L1821.6,186.1 L1822.8,184.2 L1824.8,182.2 L1828.4,180.2 L1830.9,178.2 L1832.0,176.3 L1834.3,174.3 L1837.2,172.3 L1839.9,170.3 L1842.9,168.4 L1845.8,166.4 L1847.3,164.4 L1848.2,162.4 L1850.9,160.5 L1853.7,158.5 L1856.4,156.5 L1859.9,154.5 L1864.0,152.6 L1866.4,150.6 L1867.2,148.6 L1871.2,146.6 L1875.2,144.7 L1877.6,142.7 L1880.8,140.7 L1883.8,138.7 L1885.9,136.8 L1889.8,134.8 L1893.0,132.8 L1895.2,130.8 L1899.5,128.9 L1902.8,126.9 L1904.3,124.9 L1907.4,122.9 L1912.1,121.0 L1916.1,119.0 L1920.5,117.0 L1924.1,115.0 L1927.9,113.1 L1933.9,111.1 L1938.1,109.1 L1942.6,107.1 L1948.0,105.2 L1953.7,103.2 L1960.3,101.2 L1966.2,99.2 L1971.3,97.3 L1977.2,95.3 L1984.7,93.3 L1993.1,91.3 L2001.8,89.4 L2009.5,87.4 L2018.2,85.4 L2030.1,83.4 L2049.5,81.5 L2077.2,79.5 L2108.3,77.5 L2157.8,77.5" stroke="#A5000C"/>
</g>
<line x1="1225.7" y1="393.55" x2="2157.8" y2="393.55" stroke="#A7A7A7" stroke-width="4.4" stroke-dasharray="38.3 17.55"/>
<line x1="1691.70" y1="741.0" x2="1691.70" y2="45.8" stroke="#A7A7A7" stroke-width="4.6" stroke-dasharray="38.3 17.55"/>
<line x1="1225.70" y1="45.80" x2="1225.70" y2="742.30" stroke="#000" stroke-width="2.6" />
<line x1="1224.40" y1="741.00" x2="2157.80" y2="741.00" stroke="#000" stroke-width="2.6" />
<line x1="1218.40" y1="709.60" x2="1225.70" y2="709.60" stroke="#000" stroke-width="2.4" />
<line x1="1218.40" y1="551.58" x2="1225.70" y2="551.58" stroke="#000" stroke-width="2.4" />
<line x1="1218.40" y1="393.55" x2="1225.70" y2="393.55" stroke="#000" stroke-width="2.4" />
<line x1="1218.40" y1="235.52" x2="1225.70" y2="235.52" stroke="#000" stroke-width="2.4" />
<line x1="1218.40" y1="77.50" x2="1225.70" y2="77.50" stroke="#000" stroke-width="2.4" />
<line x1="1268.10" y1="741.00" x2="1268.10" y2="748.20" stroke="#000" stroke-width="2.4" />
<line x1="1409.30" y1="741.00" x2="1409.30" y2="748.20" stroke="#000" stroke-width="2.4" />
<line x1="1550.50" y1="741.00" x2="1550.50" y2="748.20" stroke="#000" stroke-width="2.4" />
<line x1="1691.70" y1="741.00" x2="1691.70" y2="748.20" stroke="#000" stroke-width="2.4" />
<line x1="1832.90" y1="741.00" x2="1832.90" y2="748.20" stroke="#000" stroke-width="2.4" />
<line x1="1974.10" y1="741.00" x2="1974.10" y2="748.20" stroke="#000" stroke-width="2.4" />
<line x1="2115.30" y1="741.00" x2="2115.30" y2="748.20" stroke="#000" stroke-width="2.4" />
<text x="17.70" y="32.50" font-size="45" font-weight="bold">a</text>
<text x="160.80" y="93.00" font-size="48.5" text-anchor="end">1.00</text>
<text x="160.80" y="245.50" font-size="48.5" text-anchor="end">0.75</text>
<text x="160.80" y="404.20" font-size="48.5" text-anchor="end">0.50</text>
<text x="160.80" y="564.00" font-size="48.5" text-anchor="end">0.25</text>
<text x="154.80" y="722.50" font-size="48.5" text-anchor="end">0</text>
<text x="214.70" y="792.50" font-size="48.5" text-anchor="middle">-3</text>
<text x="355.90" y="792.50" font-size="48.5" text-anchor="middle">-2</text>
<text x="497.10" y="792.50" font-size="48.5" text-anchor="middle">-1</text>
<text x="638.30" y="792.50" font-size="48.5" text-anchor="middle">0</text>
<text x="779.50" y="792.50" font-size="48.5" text-anchor="middle">1</text>
<text x="920.70" y="792.50" font-size="48.5" text-anchor="middle">2</text>
<text x="1061.90" y="792.50" font-size="48.5" text-anchor="middle">3</text>
<text x="459.90" y="837.80" font-size="48.5">log<tspan font-size="33.9" dy="9.6">2</tspan><tspan dy="-9.6">-fold change</tspan></text>
<text transform="translate(41.8,610.5) rotate(-90)" font-size="48.5">cumulative probability</text>
<text x="180.20" y="75.60" font-size="48.5">control, SG enrichment</text>
<text x="181.20" y="117.30" font-size="48.5">(SG/total mRNA)</text>
<line x1="184.40" y1="164.20" x2="227.30" y2="164.20" stroke="#EEA0E0" stroke-width="4.2" />
<text x="236.40" y="172.80" font-size="48.5">0-0.5 (1450)</text>
<line x1="184.40" y1="217.95" x2="227.30" y2="217.95" stroke="#CC55E6" stroke-width="4.2" />
<text x="236.40" y="226.55" font-size="48.5">0.5-1 (2889)</text>
<line x1="184.40" y1="271.70" x2="227.30" y2="271.70" stroke="#5050E2" stroke-width="4.2" />
<text x="236.40" y="280.30" font-size="48.5">1-1.5 (1404)</text>
<line x1="184.40" y1="325.45" x2="227.30" y2="325.45" stroke="#5590E8" stroke-width="4.2" />
<text x="236.40" y="334.05" font-size="48.5">1.5-2 (1475)</text>
<line x1="184.40" y1="379.20" x2="227.30" y2="379.20" stroke="#3DBFA0" stroke-width="4.2" />
<text x="236.40" y="387.80" font-size="48.5">2-2.5 (1246)</text>
<line x1="184.40" y1="432.95" x2="227.30" y2="432.95" stroke="#6BBE45" stroke-width="4.2" />
<text x="236.40" y="441.55" font-size="48.5">2.5-3 (1121)</text>
<line x1="184.40" y1="486.70" x2="227.30" y2="486.70" stroke="#F4BE7A" stroke-width="4.2" />
<text x="236.40" y="495.30" font-size="48.5">3-4 (1593)</text>
<line x1="184.40" y1="540.45" x2="227.30" y2="540.45" stroke="#EC7E1C" stroke-width="4.2" />
<text x="236.40" y="549.05" font-size="48.5">4-5 (933)</text>
<line x1="184.40" y1="594.20" x2="227.30" y2="594.20" stroke="#EE2626" stroke-width="4.2" />
<text x="236.40" y="602.80" font-size="48.5">5-6 (477)</text>
<line x1="184.40" y1="647.95" x2="227.30" y2="647.95" stroke="#A5000C" stroke-width="4.2" />
<text x="236.40" y="656.55" font-size="48.5">6+ (723)</text>
<text x="1176.00" y="35.80" font-size="46" font-weight="bold">b</text>
<text x="1268.10" y="792.50" font-size="48.5" text-anchor="middle">-3</text>
<text x="1409.30" y="792.50" font-size="48.5" text-anchor="middle">-2</text>
<text x="1550.50" y="792.50" font-size="48.5" text-anchor="middle">-1</text>
<text x="1691.70" y="792.50" font-size="48.5" text-anchor="middle">0</text>
<text x="1832.90" y="792.50" font-size="48.5" text-anchor="middle">1</text>
<text x="1974.10" y="792.50" font-size="48.5" text-anchor="middle">2</text>
<text x="2115.30" y="792.50" font-size="48.5" text-anchor="middle">3</text>
<text x="1527.60" y="841.60" font-size="48.5">log<tspan font-size="33.9" dy="9.6">2</tspan><tspan dy="-9.6">-fold change</tspan></text>
<text x="1235.20" y="75.00" font-size="48.5">M3KO, SG enrichment</text>
<text x="1237.00" y="116.50" font-size="48.5">(SG/total mRNA)</text>
<line x1="1237.50" y1="156.50" x2="1280.20" y2="156.50" stroke="#EEA0E0" stroke-width="4.2" />
<text x="1289.40" y="165.10" font-size="48.5">0-0.5 (1449)</text>
<line x1="1237.50" y1="210.30" x2="1280.20" y2="210.30" stroke="#CC55E6" stroke-width="4.2" />
<text x="1289.40" y="218.90" font-size="48.5">0.5-1 (2923)</text>
<line x1="1237.50" y1="264.10" x2="1280.20" y2="264.10" stroke="#5050E2" stroke-width="4.2" />
<text x="1289.40" y="272.70" font-size="48.5">1-1.5 (1422)</text>
<line x1="1237.50" y1="317.90" x2="1280.20" y2="317.90" stroke="#5590E8" stroke-width="4.2" />
<text x="1289.40" y="326.50" font-size="48.5">1.5-2 (1500)</text>
<line x1="1237.50" y1="371.70" x2="1280.20" y2="371.70" stroke="#3DBFA0" stroke-width="4.2" />
<text x="1289.40" y="380.30" font-size="48.5">2-2.5 (1270)</text>
<line x1="1237.50" y1="425.50" x2="1280.20" y2="425.50" stroke="#6BBE45" stroke-width="4.2" />
<text x="1289.40" y="434.10" font-size="48.5">2.5-3 (1148)</text>
<line x1="1237.50" y1="479.30" x2="1280.20" y2="479.30" stroke="#F4BE7A" stroke-width="4.2" />
<text x="1289.40" y="487.90" font-size="48.5">3-4 (1627)</text>
<line x1="1237.50" y1="533.10" x2="1280.20" y2="533.10" stroke="#EC7E1C" stroke-width="4.2" />
<text x="1289.40" y="541.70" font-size="48.5">4-5 (949)</text>
<line x1="1237.50" y1="586.90" x2="1280.20" y2="586.90" stroke="#EE2626" stroke-width="4.2" />
<text x="1289.40" y="595.50" font-size="48.5">5-6 (485)</text>
<line x1="1237.50" y1="640.70" x2="1280.20" y2="640.70" stroke="#A5000C" stroke-width="4.2" />
<text x="1289.40" y="649.30" font-size="48.5">6+ (739)</text>
<line x1="197.20" y1="1298.20" x2="197.20" y2="1522.70" stroke="#333333" stroke-width="2.3" />
<line x1="197.20" y1="1675.20" x2="197.20" y2="1897.60" stroke="#333333" stroke-width="2.3" />
<rect x="173.30" y="1522.70" width="47.80" height="152.50" fill="#fff" stroke="#333333" stroke-width="2.4"/>
<line x1="173.30" y1="1608.70" x2="221.10" y2="1608.70" stroke="#333333" stroke-width="4.6" />
<line x1="262.90" y1="1304.70" x2="262.90" y2="1521.40" stroke="#333333" stroke-width="2.3" />
<line x1="262.90" y1="1670.90" x2="262.90" y2="1890.20" stroke="#333333" stroke-width="2.3" />
<rect x="239.00" y="1521.40" width="47.80" height="149.50" fill="#fff" stroke="#333333" stroke-width="2.4"/>
<line x1="239.00" y1="1607.40" x2="286.80" y2="1607.40" stroke="#333333" stroke-width="4.6" />
<line x1="328.60" y1="1344.00" x2="328.60" y2="1543.80" stroke="#333333" stroke-width="2.3" />
<line x1="328.60" y1="1679.70" x2="328.60" y2="1877.10" stroke="#333333" stroke-width="2.3" />
<rect x="304.70" y="1543.80" width="47.80" height="135.90" fill="#fff" stroke="#333333" stroke-width="2.4"/>
<line x1="304.70" y1="1616.30" x2="352.50" y2="1616.30" stroke="#333333" stroke-width="4.6" />
<line x1="394.50" y1="1302.50" x2="394.50" y2="1520.50" stroke="#333333" stroke-width="2.3" />
<line x1="394.50" y1="1671.40" x2="394.50" y2="1891.10" stroke="#333333" stroke-width="2.3" />
<rect x="370.60" y="1520.50" width="47.80" height="150.90" fill="#fff" stroke="#333333" stroke-width="2.4"/>
<line x1="370.60" y1="1607.00" x2="418.40" y2="1607.00" stroke="#333333" stroke-width="4.6" />
<line x1="460.20" y1="1276.30" x2="460.20" y2="1511.30" stroke="#333333" stroke-width="2.3" />
<line x1="460.20" y1="1670.90" x2="460.20" y2="1902.30" stroke="#333333" stroke-width="2.3" />
<rect x="436.30" y="1511.30" width="47.80" height="159.60" fill="#fff" stroke="#333333" stroke-width="2.4"/>
<line x1="436.30" y1="1595.20" x2="484.10" y2="1595.20" stroke="#333333" stroke-width="4.6" />
<line x1="525.90" y1="1281.40" x2="525.90" y2="1506.50" stroke="#333333" stroke-width="2.3" />
<line x1="525.90" y1="1659.30" x2="525.90" y2="1884.60" stroke="#333333" stroke-width="2.3" />
<rect x="502.00" y="1506.50" width="47.80" height="152.80" fill="#fff" stroke="#333333" stroke-width="2.4"/>
<line x1="502.00" y1="1589.60" x2="549.80" y2="1589.60" stroke="#333333" stroke-width="4.6" />
<line x1="592.00" y1="1223.10" x2="592.00" y2="1481.30" stroke="#333333" stroke-width="2.3" />
<line x1="592.00" y1="1654.60" x2="592.00" y2="1907.00" stroke="#333333" stroke-width="2.3" />
<rect x="568.10" y="1481.30" width="47.80" height="173.30" fill="#fff" stroke="#333333" stroke-width="2.4"/>
<line x1="568.10" y1="1574.30" x2="615.90" y2="1574.30" stroke="#333333" stroke-width="4.6" />
<line x1="657.60" y1="1217.50" x2="657.60" y2="1465.00" stroke="#333333" stroke-width="2.3" />
<line x1="657.60" y1="1633.50" x2="657.60" y2="1879.00" stroke="#333333" stroke-width="2.3" />
<rect x="633.70" y="1465.00" width="47.80" height="168.50" fill="#fff" stroke="#333333" stroke-width="2.4"/>
<line x1="633.70" y1="1546.60" x2="681.50" y2="1546.60" stroke="#333333" stroke-width="4.6" />
<line x1="723.60" y1="1194.10" x2="723.60" y2="1451.50" stroke="#333333" stroke-width="2.3" />
<line x1="723.60" y1="1636.50" x2="723.60" y2="1890.20" stroke="#333333" stroke-width="2.3" />
<rect x="699.70" y="1451.50" width="47.80" height="185.00" fill="#fff" stroke="#333333" stroke-width="2.4"/>
<line x1="699.70" y1="1548.50" x2="747.50" y2="1548.50" stroke="#333333" stroke-width="4.6" />
<line x1="789.40" y1="1139.40" x2="789.40" y2="1419.60" stroke="#333333" stroke-width="2.3" />
<line x1="789.40" y1="1613.00" x2="789.40" y2="1892.60" stroke="#333333" stroke-width="2.3" />
<rect x="765.50" y="1419.60" width="47.80" height="193.40" fill="#fff" stroke="#333333" stroke-width="2.4"/>
<line x1="765.50" y1="1518.80" x2="813.30" y2="1518.80" stroke="#333333" stroke-width="4.6" />
<g fill="#333333">
<circle cx="197.2" cy="1123.0" r="10.0"/>
<circle cx="197.2" cy="1155.1" r="10.0"/>
<circle cx="197.2" cy="1163.0" r="10.0"/>
<circle cx="197.2" cy="1172.3" r="10.0"/>
<circle cx="197.2" cy="1193.4" r="10.0"/>
<circle cx="197.2" cy="1203.3" r="10.0"/>
<circle cx="197.2" cy="1209.7" r="10.0"/>
<circle cx="197.2" cy="1219.0" r="10.0"/>
<circle cx="197.2" cy="1229.2" r="10.0"/>
<circle cx="197.2" cy="1250.4" r="10.0"/>
<circle cx="197.2" cy="1256.7" r="10.0"/>
<circle cx="197.2" cy="1265.8" r="10.0"/>
<circle cx="197.2" cy="1272.0" r="10.0"/>
<circle cx="197.2" cy="1283.4" r="10.0"/>
<circle cx="262.9" cy="1126.7" r="10.0"/>
<circle cx="262.9" cy="1172.8" r="10.0"/>
<circle cx="262.9" cy="1179.2" r="10.0"/>
<circle cx="262.9" cy="1184.0" r="10.0"/>
<circle cx="262.9" cy="1211.1" r="10.0"/>
<circle cx="262.9" cy="1219.6" r="10.0"/>
<circle cx="262.9" cy="1230.6" r="10.0"/>
<circle cx="262.9" cy="1237.4" r="10.0"/>
<circle cx="262.9" cy="1244.7" r="10.0"/>
<circle cx="262.9" cy="1254.5" r="10.0"/>
<circle cx="262.9" cy="1266.1" r="10.0"/>
<circle cx="262.9" cy="1275.6" r="10.0"/>
<circle cx="262.9" cy="1284.0" r="10.0"/>
<circle cx="262.9" cy="1294.6" r="10.0"/>
<circle cx="328.6" cy="1162.4" r="10.0"/>
<circle cx="328.6" cy="1213.0" r="10.0"/>
<circle cx="328.6" cy="1219.9" r="10.0"/>
<circle cx="328.6" cy="1241.0" r="10.0"/>
<circle cx="328.6" cy="1252.2" r="10.0"/>
<circle cx="328.6" cy="1259.9" r="10.0"/>
<circle cx="328.6" cy="1266.8" r="10.0"/>
<circle cx="328.6" cy="1273.5" r="10.0"/>
<circle cx="328.6" cy="1281.3" r="10.0"/>
<circle cx="328.6" cy="1292.2" r="10.0"/>
<circle cx="328.6" cy="1299.3" r="10.0"/>
<circle cx="328.6" cy="1308.8" r="10.0"/>
<circle cx="328.6" cy="1318.6" r="10.0"/>
<circle cx="328.6" cy="1326.9" r="10.0"/>
<circle cx="328.6" cy="1332.9" r="10.0"/>
<circle cx="394.5" cy="1103.3" r="10.0"/>
<circle cx="394.5" cy="1171.9" r="10.0"/>
<circle cx="394.5" cy="1178.3" r="10.0"/>
<circle cx="394.5" cy="1184.6" r="10.0"/>
<circle cx="394.5" cy="1194.7" r="10.0"/>
<circle cx="394.5" cy="1235.4" r="10.0"/>
<circle cx="394.5" cy="1245.5" r="10.0"/>
<circle cx="394.5" cy="1254.0" r="10.0"/>
<circle cx="394.5" cy="1261.9" r="10.0"/>
<circle cx="394.5" cy="1271.4" r="10.0"/>
<circle cx="394.5" cy="1280.2" r="10.0"/>
<circle cx="394.5" cy="1288.0" r="10.0"/>
<circle cx="394.5" cy="1291.8" r="10.0"/>
<circle cx="460.2" cy="1088.4" r="10.0"/>
<circle cx="460.2" cy="1117.7" r="10.0"/>
<circle cx="460.2" cy="1122.8" r="10.0"/>
<circle cx="460.2" cy="1155.3" r="10.0"/>
<circle cx="460.2" cy="1175.8" r="10.0"/>
<circle cx="460.2" cy="1196.2" r="10.0"/>
<circle cx="460.2" cy="1201.6" r="10.0"/>
<circle cx="460.2" cy="1230.0" r="10.0"/>
<circle cx="460.2" cy="1245.9" r="10.0"/>
<circle cx="460.2" cy="1264.2" r="10.0"/>
<circle cx="525.9" cy="1162.4" r="10.0"/>
<circle cx="525.9" cy="1183.3" r="10.0"/>
<circle cx="525.9" cy="1203.1" r="10.0"/>
<circle cx="525.9" cy="1212.5" r="10.0"/>
<circle cx="525.9" cy="1221.7" r="10.0"/>
<circle cx="525.9" cy="1232.9" r="10.0"/>
<circle cx="525.9" cy="1243.3" r="10.0"/>
<circle cx="525.9" cy="1251.1" r="10.0"/>
<circle cx="525.9" cy="1261.0" r="10.0"/>
<circle cx="592.0" cy="1091.4" r="10.0"/>
<circle cx="592.0" cy="1110.8" r="10.0"/>
<circle cx="592.0" cy="1195.3" r="10.0"/>
<circle cx="592.0" cy="1202.0" r="10.0"/>
<circle cx="592.0" cy="1212.4" r="10.0"/>
<circle cx="657.6" cy="1154.5" r="10.0"/>
<circle cx="657.6" cy="1165.0" r="10.0"/>
<circle cx="657.6" cy="1169.8" r="10.0"/>
<circle cx="657.6" cy="1201.6" r="10.0"/>
<circle cx="723.6" cy="1100.5" r="10.0"/>
<circle cx="723.6" cy="1152.8" r="10.0"/>
<circle cx="789.4" cy="1113.8" r="10.0"/>
<circle cx="197.2" cy="1912.0" r="10.0"/>
<circle cx="197.2" cy="1919.3" r="10.0"/>
<circle cx="197.2" cy="1946.4" r="10.0"/>
<circle cx="197.2" cy="1952.6" r="10.0"/>
<circle cx="197.2" cy="1962.6" r="10.0"/>
<circle cx="197.2" cy="1973.2" r="10.0"/>
<circle cx="197.2" cy="1982.7" r="10.0"/>
<circle cx="197.2" cy="1993.9" r="10.0"/>
<circle cx="197.2" cy="2001.8" r="10.0"/>
<circle cx="197.2" cy="2012.0" r="10.0"/>
<circle cx="197.2" cy="2021.5" r="10.0"/>
<circle cx="197.2" cy="2027.7" r="10.0"/>
<circle cx="197.2" cy="2049.7" r="10.0"/>
<circle cx="197.2" cy="2058.4" r="10.0"/>
<circle cx="197.2" cy="2069.5" r="10.0"/>
<circle cx="197.2" cy="2080.9" r="10.0"/>
<circle cx="197.2" cy="2105.7" r="10.0"/>
<circle cx="197.2" cy="2114.5" r="10.0"/>
<circle cx="197.2" cy="2121.1" r="10.0"/>
<circle cx="262.9" cy="1900.8" r="10.0"/>
<circle cx="262.9" cy="1907.2" r="10.0"/>
<circle cx="262.9" cy="1917.4" r="10.0"/>
<circle cx="262.9" cy="1927.3" r="10.0"/>
<circle cx="262.9" cy="1939.2" r="10.0"/>
<circle cx="262.9" cy="1950.1" r="10.0"/>
<circle cx="262.9" cy="1957.9" r="10.0"/>
<circle cx="262.9" cy="1966.2" r="10.0"/>
<circle cx="262.9" cy="1976.2" r="10.0"/>
<circle cx="262.9" cy="1982.3" r="10.0"/>
<circle cx="262.9" cy="1991.1" r="10.0"/>
<circle cx="262.9" cy="1998.1" r="10.0"/>
<circle cx="262.9" cy="2004.8" r="10.0"/>
<circle cx="262.9" cy="2011.2" r="10.0"/>
<circle cx="262.9" cy="2021.8" r="10.0"/>
<circle cx="262.9" cy="2028.5" r="10.0"/>
<circle cx="262.9" cy="2036.0" r="10.0"/>
<circle cx="262.9" cy="2044.4" r="10.0"/>
<circle cx="262.9" cy="2055.6" r="10.0"/>
<circle cx="262.9" cy="2062.1" r="10.0"/>
<circle cx="262.9" cy="2068.8" r="10.0"/>
<circle cx="262.9" cy="2092.3" r="10.0"/>
<circle cx="328.6" cy="1887.2" r="10.0"/>
<circle cx="328.6" cy="1896.5" r="10.0"/>
<circle cx="328.6" cy="1908.1" r="10.0"/>
<circle cx="328.6" cy="1939.5" r="10.0"/>
<circle cx="328.6" cy="1950.4" r="10.0"/>
<circle cx="328.6" cy="1964.1" r="10.0"/>
<circle cx="328.6" cy="2003.6" r="10.0"/>
<circle cx="328.6" cy="2011.3" r="10.0"/>
<circle cx="328.6" cy="2019.8" r="10.0"/>
<circle cx="328.6" cy="2027.9" r="10.0"/>
<circle cx="328.6" cy="2040.7" r="10.0"/>
<circle cx="328.6" cy="2064.5" r="10.0"/>
<circle cx="328.6" cy="2132.1" r="10.0"/>
<circle cx="394.5" cy="1910.7" r="10.0"/>
<circle cx="394.5" cy="1938.2" r="10.0"/>
<circle cx="394.5" cy="1949.9" r="10.0"/>
<circle cx="394.5" cy="1956.9" r="10.0"/>
<circle cx="394.5" cy="1963.9" r="10.0"/>
<circle cx="394.5" cy="1971.3" r="10.0"/>
<circle cx="394.5" cy="1978.7" r="10.0"/>
<circle cx="394.5" cy="1987.6" r="10.0"/>
<circle cx="394.5" cy="1997.1" r="10.0"/>
<circle cx="394.5" cy="2004.7" r="10.0"/>
<circle cx="394.5" cy="2010.7" r="10.0"/>
<circle cx="394.5" cy="2019.3" r="10.0"/>
<circle cx="394.5" cy="2027.5" r="10.0"/>
<circle cx="394.5" cy="2036.9" r="10.0"/>
<circle cx="394.5" cy="2046.3" r="10.0"/>
<circle cx="394.5" cy="2070.4" r="10.0"/>
<circle cx="394.5" cy="2090.0" r="10.0"/>
<circle cx="394.5" cy="2120.0" r="10.0"/>
<circle cx="460.2" cy="1912.4" r="10.0"/>
<circle cx="460.2" cy="1922.5" r="10.0"/>
<circle cx="460.2" cy="1931.6" r="10.0"/>
<circle cx="460.2" cy="1941.3" r="10.0"/>
<circle cx="460.2" cy="1951.4" r="10.0"/>
<circle cx="460.2" cy="1957.7" r="10.0"/>
<circle cx="460.2" cy="1969.1" r="10.0"/>
<circle cx="460.2" cy="1980.0" r="10.0"/>
<circle cx="460.2" cy="2006.7" r="10.0"/>
<circle cx="460.2" cy="2017.9" r="10.0"/>
<circle cx="460.2" cy="2027.7" r="10.0"/>
<circle cx="460.2" cy="2089.5" r="10.0"/>
<circle cx="460.2" cy="2116.8" r="10.0"/>
<circle cx="525.9" cy="1894.6" r="10.0"/>
<circle cx="525.9" cy="1903.0" r="10.0"/>
<circle cx="525.9" cy="1911.3" r="10.0"/>
<circle cx="525.9" cy="1918.0" r="10.0"/>
<circle cx="525.9" cy="1928.6" r="10.0"/>
<circle cx="525.9" cy="1969.0" r="10.0"/>
<circle cx="525.9" cy="1989.2" r="10.0"/>
<circle cx="525.9" cy="2016.6" r="10.0"/>
<circle cx="525.9" cy="2040.0" r="10.0"/>
<circle cx="525.9" cy="2066.1" r="10.0"/>
<circle cx="592.0" cy="1917.1" r="10.0"/>
<circle cx="592.0" cy="1923.5" r="10.0"/>
<circle cx="592.0" cy="1929.9" r="10.0"/>
<circle cx="592.0" cy="1937.1" r="10.0"/>
<circle cx="592.0" cy="1944.1" r="10.0"/>
<circle cx="592.0" cy="1953.5" r="10.0"/>
<circle cx="592.0" cy="1980.2" r="10.0"/>
<circle cx="592.0" cy="2000.0" r="10.0"/>
<circle cx="592.0" cy="2025.0" r="10.0"/>
<circle cx="592.0" cy="2046.0" r="10.0"/>
<circle cx="592.0" cy="2050.1" r="10.0"/>
<circle cx="592.0" cy="2071.0" r="10.0"/>
<circle cx="657.6" cy="1904.2" r="10.0"/>
<circle cx="657.6" cy="1927.7" r="10.0"/>
<circle cx="657.6" cy="1933.3" r="10.0"/>
<circle cx="657.6" cy="1958.2" r="10.0"/>
<circle cx="657.6" cy="1962.8" r="10.0"/>
<circle cx="657.6" cy="1997.0" r="10.0"/>
<circle cx="657.6" cy="2003.6" r="10.0"/>
<circle cx="657.6" cy="2010.3" r="10.0"/>
<circle cx="657.6" cy="2043.0" r="10.0"/>
<circle cx="723.6" cy="1928.1" r="10.0"/>
<circle cx="723.6" cy="1947.1" r="10.0"/>
<circle cx="723.6" cy="2134.0" r="10.0"/>
<circle cx="789.4" cy="1912.2" r="10.0"/>
<circle cx="789.4" cy="1962.1" r="10.0"/>
<circle cx="789.4" cy="2064.5" r="10.0"/>
<circle cx="789.4" cy="2085.8" r="10.0"/>
</g>
<line x1="157.4" y1="1592.60" x2="828.3" y2="1592.60" stroke="#A7A7A7" stroke-width="4.8" stroke-dasharray="66.5 29.35"/>
<line x1="157.60" y1="996.50" x2="157.60" y2="2189.90" stroke="#000" stroke-width="2.5" />
<line x1="156.40" y1="2188.70" x2="828.30" y2="2188.70" stroke="#000" stroke-width="2.5" />
<line x1="145.60" y1="1050.10" x2="157.60" y2="1050.10" stroke="#000" stroke-width="2.0" />
<line x1="145.60" y1="1185.60" x2="157.60" y2="1185.60" stroke="#000" stroke-width="2.0" />
<line x1="145.60" y1="1321.20" x2="157.60" y2="1321.20" stroke="#000" stroke-width="2.0" />
<line x1="145.60" y1="1457.00" x2="157.60" y2="1457.00" stroke="#000" stroke-width="2.0" />
<line x1="145.60" y1="1592.60" x2="157.60" y2="1592.60" stroke="#000" stroke-width="2.0" />
<line x1="145.60" y1="1728.30" x2="157.60" y2="1728.30" stroke="#000" stroke-width="2.0" />
<line x1="145.60" y1="1863.70" x2="157.60" y2="1863.70" stroke="#000" stroke-width="2.0" />
<line x1="145.60" y1="1999.20" x2="157.60" y2="1999.20" stroke="#000" stroke-width="2.0" />
<line x1="145.60" y1="2134.70" x2="157.60" y2="2134.70" stroke="#000" stroke-width="2.0" />
<line x1="197.20" y1="2188.70" x2="197.20" y2="2200.90" stroke="#000" stroke-width="2.0" />
<line x1="262.90" y1="2188.70" x2="262.90" y2="2200.90" stroke="#000" stroke-width="2.0" />
<line x1="328.60" y1="2188.70" x2="328.60" y2="2200.90" stroke="#000" stroke-width="2.0" />
<line x1="394.50" y1="2188.70" x2="394.50" y2="2200.90" stroke="#000" stroke-width="2.0" />
<line x1="460.20" y1="2188.70" x2="460.20" y2="2200.90" stroke="#000" stroke-width="2.0" />
<line x1="525.90" y1="2188.70" x2="525.90" y2="2200.90" stroke="#000" stroke-width="2.0" />
<line x1="592.00" y1="2188.70" x2="592.00" y2="2200.90" stroke="#000" stroke-width="2.0" />
<line x1="657.60" y1="2188.70" x2="657.60" y2="2200.90" stroke="#000" stroke-width="2.0" />
<line x1="723.60" y1="2188.70" x2="723.60" y2="2200.90" stroke="#000" stroke-width="2.0" />
<line x1="789.40" y1="2188.70" x2="789.40" y2="2200.90" stroke="#000" stroke-width="2.0" />
<line x1="1281.00" y1="1279.50" x2="1281.00" y2="1510.60" stroke="#333333" stroke-width="2.3" />
<line x1="1281.00" y1="1670.30" x2="1281.00" y2="1908.60" stroke="#333333" stroke-width="2.3" />
<rect x="1257.10" y="1510.60" width="47.80" height="159.70" fill="#fff" stroke="#333333" stroke-width="2.4"/>
<line x1="1257.10" y1="1584.40" x2="1304.90" y2="1584.40" stroke="#333333" stroke-width="4.6" />
<line x1="1347.30" y1="1284.70" x2="1347.30" y2="1511.50" stroke="#333333" stroke-width="2.3" />
<line x1="1347.30" y1="1668.50" x2="1347.30" y2="1898.30" stroke="#333333" stroke-width="2.3" />
<rect x="1323.40" y="1511.50" width="47.80" height="157.00" fill="#fff" stroke="#333333" stroke-width="2.4"/>
<line x1="1323.40" y1="1589.10" x2="1371.20" y2="1589.10" stroke="#333333" stroke-width="4.6" />
<line x1="1413.60" y1="1253.00" x2="1413.60" y2="1504.10" stroke="#333333" stroke-width="2.3" />
<line x1="1413.60" y1="1674.10" x2="1413.60" y2="1926.30" stroke="#333333" stroke-width="2.3" />
<rect x="1389.70" y="1504.10" width="47.80" height="170.00" fill="#fff" stroke="#333333" stroke-width="2.4"/>
<line x1="1389.70" y1="1591.50" x2="1437.50" y2="1591.50" stroke="#333333" stroke-width="4.6" />
<line x1="1479.90" y1="1258.60" x2="1479.90" y2="1510.20" stroke="#333333" stroke-width="2.3" />
<line x1="1479.90" y1="1682.50" x2="1479.90" y2="1937.00" stroke="#333333" stroke-width="2.3" />
<rect x="1456.00" y="1510.20" width="47.80" height="172.30" fill="#fff" stroke="#333333" stroke-width="2.4"/>
<line x1="1456.00" y1="1600.30" x2="1503.80" y2="1600.30" stroke="#333333" stroke-width="4.6" />
<line x1="1546.00" y1="1271.10" x2="1546.00" y2="1519.00" stroke="#333333" stroke-width="2.3" />
<line x1="1546.00" y1="1686.20" x2="1546.00" y2="1928.20" stroke="#333333" stroke-width="2.3" />
<rect x="1522.10" y="1519.00" width="47.80" height="167.20" fill="#fff" stroke="#333333" stroke-width="2.4"/>
<line x1="1522.10" y1="1595.60" x2="1569.90" y2="1595.60" stroke="#333333" stroke-width="4.6" />
<line x1="1612.10" y1="1265.70" x2="1612.10" y2="1516.60" stroke="#333333" stroke-width="2.3" />
<line x1="1612.10" y1="1689.90" x2="1612.10" y2="1919.40" stroke="#333333" stroke-width="2.3" />
<rect x="1588.20" y="1516.60" width="47.80" height="173.30" fill="#fff" stroke="#333333" stroke-width="2.4"/>
<line x1="1588.20" y1="1606.80" x2="1636.00" y2="1606.80" stroke="#333333" stroke-width="4.6" />
<line x1="1678.40" y1="1273.50" x2="1678.40" y2="1522.70" stroke="#333333" stroke-width="2.3" />
<line x1="1678.40" y1="1694.20" x2="1678.40" y2="1949.30" stroke="#333333" stroke-width="2.3" />
<rect x="1654.50" y="1522.70" width="47.80" height="171.50" fill="#fff" stroke="#333333" stroke-width="2.4"/>
<line x1="1654.50" y1="1612.80" x2="1702.30" y2="1612.80" stroke="#333333" stroke-width="4.6" />
<line x1="1744.80" y1="1288.80" x2="1744.80" y2="1525.20" stroke="#333333" stroke-width="2.3" />
<line x1="1744.80" y1="1687.70" x2="1744.80" y2="1922.60" stroke="#333333" stroke-width="2.3" />
<rect x="1720.90" y="1525.20" width="47.80" height="162.50" fill="#fff" stroke="#333333" stroke-width="2.4"/>
<line x1="1720.90" y1="1609.60" x2="1768.70" y2="1609.60" stroke="#333333" stroke-width="4.6" />
<line x1="1811.00" y1="1288.80" x2="1811.00" y2="1519.90" stroke="#333333" stroke-width="2.3" />
<line x1="1811.00" y1="1688.10" x2="1811.00" y2="1933.80" stroke="#333333" stroke-width="2.3" />
<rect x="1787.10" y="1519.90" width="47.80" height="168.20" fill="#fff" stroke="#333333" stroke-width="2.4"/>
<line x1="1787.10" y1="1619.00" x2="1834.90" y2="1619.00" stroke="#333333" stroke-width="4.6" />
<line x1="1877.20" y1="1238.40" x2="1877.20" y2="1504.10" stroke="#333333" stroke-width="2.3" />
<line x1="1877.20" y1="1685.30" x2="1877.20" y2="1922.20" stroke="#333333" stroke-width="2.3" />
<rect x="1853.30" y="1504.10" width="47.80" height="181.20" fill="#fff" stroke="#333333" stroke-width="2.4"/>
<line x1="1853.30" y1="1599.90" x2="1901.10" y2="1599.90" stroke="#333333" stroke-width="4.6" />
<g fill="#333333">
<circle cx="1281.0" cy="1073.3" r="10.0"/>
<circle cx="1281.0" cy="1142.2" r="10.0"/>
<circle cx="1281.0" cy="1148.4" r="10.0"/>
<circle cx="1281.0" cy="1159.6" r="10.0"/>
<circle cx="1281.0" cy="1169.3" r="10.0"/>
<circle cx="1281.0" cy="1176.2" r="10.0"/>
<circle cx="1281.0" cy="1183.7" r="10.0"/>
<circle cx="1281.0" cy="1191.8" r="10.0"/>
<circle cx="1281.0" cy="1200.0" r="10.0"/>
<circle cx="1281.0" cy="1206.7" r="10.0"/>
<circle cx="1281.0" cy="1217.8" r="10.0"/>
<circle cx="1281.0" cy="1229.7" r="10.0"/>
<circle cx="1281.0" cy="1238.5" r="10.0"/>
<circle cx="1281.0" cy="1247.4" r="10.0"/>
<circle cx="1281.0" cy="1254.0" r="10.0"/>
<circle cx="1281.0" cy="1260.6" r="10.0"/>
<circle cx="1281.0" cy="1269.0" r="10.0"/>
<circle cx="1347.3" cy="1051.6" r="10.0"/>
<circle cx="1347.3" cy="1072.7" r="10.0"/>
<circle cx="1347.3" cy="1099.8" r="10.0"/>
<circle cx="1347.3" cy="1126.7" r="10.0"/>
<circle cx="1347.3" cy="1134.3" r="10.0"/>
<circle cx="1347.3" cy="1143.9" r="10.0"/>
<circle cx="1347.3" cy="1167.4" r="10.0"/>
<circle cx="1347.3" cy="1174.4" r="10.0"/>
<circle cx="1347.3" cy="1180.5" r="10.0"/>
<circle cx="1347.3" cy="1192.2" r="10.0"/>
<circle cx="1347.3" cy="1201.4" r="10.0"/>
<circle cx="1347.3" cy="1208.3" r="10.0"/>
<circle cx="1347.3" cy="1217.5" r="10.0"/>
<circle cx="1347.3" cy="1223.7" r="10.0"/>
<circle cx="1347.3" cy="1232.9" r="10.0"/>
<circle cx="1347.3" cy="1244.7" r="10.0"/>
<circle cx="1347.3" cy="1255.9" r="10.0"/>
<circle cx="1347.3" cy="1266.1" r="10.0"/>
<circle cx="1347.3" cy="1274.6" r="10.0"/>
<circle cx="1413.6" cy="1060.9" r="10.0"/>
<circle cx="1413.6" cy="1086.0" r="10.0"/>
<circle cx="1413.6" cy="1095.7" r="10.0"/>
<circle cx="1413.6" cy="1123.1" r="10.0"/>
<circle cx="1413.6" cy="1161.8" r="10.0"/>
<circle cx="1413.6" cy="1168.8" r="10.0"/>
<circle cx="1413.6" cy="1179.4" r="10.0"/>
<circle cx="1413.6" cy="1188.6" r="10.0"/>
<circle cx="1413.6" cy="1199.3" r="10.0"/>
<circle cx="1413.6" cy="1207.3" r="10.0"/>
<circle cx="1413.6" cy="1214.6" r="10.0"/>
<circle cx="1413.6" cy="1225.5" r="10.0"/>
<circle cx="1413.6" cy="1237.4" r="10.0"/>
<circle cx="1413.6" cy="1242.9" r="10.0"/>
<circle cx="1479.9" cy="1080.4" r="10.0"/>
<circle cx="1479.9" cy="1091.2" r="10.0"/>
<circle cx="1479.9" cy="1102.1" r="10.0"/>
<circle cx="1479.9" cy="1112.6" r="10.0"/>
<circle cx="1479.9" cy="1119.9" r="10.0"/>
<circle cx="1479.9" cy="1129.1" r="10.0"/>
<circle cx="1479.9" cy="1137.2" r="10.0"/>
<circle cx="1479.9" cy="1143.4" r="10.0"/>
<circle cx="1479.9" cy="1149.5" r="10.0"/>
<circle cx="1479.9" cy="1154.1" r="10.0"/>
<circle cx="1479.9" cy="1179.9" r="10.0"/>
<circle cx="1479.9" cy="1187.5" r="10.0"/>
<circle cx="1479.9" cy="1197.5" r="10.0"/>
<circle cx="1479.9" cy="1220.1" r="10.0"/>
<circle cx="1479.9" cy="1231.8" r="10.0"/>
<circle cx="1479.9" cy="1240.5" r="10.0"/>
<circle cx="1479.9" cy="1248.5" r="10.0"/>
<circle cx="1546.0" cy="1065.8" r="10.0"/>
<circle cx="1546.0" cy="1098.3" r="10.0"/>
<circle cx="1546.0" cy="1110.2" r="10.0"/>
<circle cx="1546.0" cy="1118.1" r="10.0"/>
<circle cx="1546.0" cy="1141.1" r="10.0"/>
<circle cx="1546.0" cy="1149.3" r="10.0"/>
<circle cx="1546.0" cy="1156.6" r="10.0"/>
<circle cx="1546.0" cy="1164.0" r="10.0"/>
<circle cx="1546.0" cy="1171.2" r="10.0"/>
<circle cx="1546.0" cy="1178.4" r="10.0"/>
<circle cx="1546.0" cy="1188.1" r="10.0"/>
<circle cx="1546.0" cy="1199.5" r="10.0"/>
<circle cx="1546.0" cy="1210.2" r="10.0"/>
<circle cx="1546.0" cy="1235.6" r="10.0"/>
<circle cx="1546.0" cy="1244.5" r="10.0"/>
<circle cx="1546.0" cy="1254.4" r="10.0"/>
<circle cx="1546.0" cy="1260.6" r="10.0"/>
<circle cx="1612.1" cy="1097.0" r="10.0"/>
<circle cx="1612.1" cy="1187.8" r="10.0"/>
<circle cx="1612.1" cy="1194.3" r="10.0"/>
<circle cx="1612.1" cy="1199.0" r="10.0"/>
<circle cx="1612.1" cy="1222.3" r="10.0"/>
<circle cx="1612.1" cy="1227.9" r="10.0"/>
<circle cx="1612.1" cy="1248.5" r="10.0"/>
<circle cx="1612.1" cy="1251.8" r="10.0"/>
<circle cx="1678.4" cy="1073.1" r="10.0"/>
<circle cx="1678.4" cy="1099.2" r="10.0"/>
<circle cx="1678.4" cy="1158.4" r="10.0"/>
<circle cx="1678.4" cy="1168.9" r="10.0"/>
<circle cx="1678.4" cy="1177.8" r="10.0"/>
<circle cx="1678.4" cy="1184.8" r="10.0"/>
<circle cx="1678.4" cy="1195.6" r="10.0"/>
<circle cx="1678.4" cy="1203.6" r="10.0"/>
<circle cx="1678.4" cy="1214.4" r="10.0"/>
<circle cx="1678.4" cy="1226.2" r="10.0"/>
<circle cx="1678.4" cy="1234.6" r="10.0"/>
<circle cx="1678.4" cy="1243.0" r="10.0"/>
<circle cx="1678.4" cy="1254.7" r="10.0"/>
<circle cx="1678.4" cy="1263.1" r="10.0"/>
<circle cx="1744.8" cy="1124.8" r="10.0"/>
<circle cx="1744.8" cy="1131.8" r="10.0"/>
<circle cx="1744.8" cy="1138.6" r="10.0"/>
<circle cx="1744.8" cy="1144.4" r="10.0"/>
<circle cx="1744.8" cy="1170.8" r="10.0"/>
<circle cx="1744.8" cy="1193.9" r="10.0"/>
<circle cx="1744.8" cy="1205.3" r="10.0"/>
<circle cx="1744.8" cy="1216.2" r="10.0"/>
<circle cx="1744.8" cy="1223.0" r="10.0"/>
<circle cx="1744.8" cy="1234.0" r="10.0"/>
<circle cx="1744.8" cy="1245.9" r="10.0"/>
<circle cx="1744.8" cy="1255.8" r="10.0"/>
<circle cx="1744.8" cy="1263.9" r="10.0"/>
<circle cx="1744.8" cy="1273.2" r="10.0"/>
<circle cx="1744.8" cy="1278.7" r="10.0"/>
<circle cx="1811.0" cy="1090.1" r="10.0"/>
<circle cx="1811.0" cy="1150.2" r="10.0"/>
<circle cx="1811.0" cy="1219.7" r="10.0"/>
<circle cx="1811.0" cy="1225.8" r="10.0"/>
<circle cx="1811.0" cy="1237.6" r="10.0"/>
<circle cx="1811.0" cy="1247.5" r="10.0"/>
<circle cx="1811.0" cy="1256.7" r="10.0"/>
<circle cx="1811.0" cy="1259.7" r="10.0"/>
<circle cx="1877.2" cy="1079.6" r="10.0"/>
<circle cx="1877.2" cy="1120.7" r="10.0"/>
<circle cx="1877.2" cy="1129.3" r="10.0"/>
<circle cx="1877.2" cy="1140.5" r="10.0"/>
<circle cx="1877.2" cy="1151.5" r="10.0"/>
<circle cx="1877.2" cy="1158.4" r="10.0"/>
<circle cx="1877.2" cy="1180.5" r="10.0"/>
<circle cx="1877.2" cy="1188.0" r="10.0"/>
<circle cx="1877.2" cy="1193.7" r="10.0"/>
<circle cx="1877.2" cy="1216.9" r="10.0"/>
<circle cx="1877.2" cy="1224.3" r="10.0"/>
<circle cx="1877.2" cy="1227.6" r="10.0"/>
<circle cx="1281.0" cy="1922.0" r="10.0"/>
<circle cx="1281.0" cy="1929.6" r="10.0"/>
<circle cx="1281.0" cy="1938.1" r="10.0"/>
<circle cx="1281.0" cy="1944.9" r="10.0"/>
<circle cx="1281.0" cy="1956.3" r="10.0"/>
<circle cx="1281.0" cy="1964.4" r="10.0"/>
<circle cx="1281.0" cy="1973.2" r="10.0"/>
<circle cx="1281.0" cy="1982.7" r="10.0"/>
<circle cx="1281.0" cy="1994.1" r="10.0"/>
<circle cx="1281.0" cy="2001.2" r="10.0"/>
<circle cx="1281.0" cy="2040.8" r="10.0"/>
<circle cx="1281.0" cy="2068.7" r="10.0"/>
<circle cx="1281.0" cy="2075.0" r="10.0"/>
<circle cx="1347.3" cy="1908.4" r="10.0"/>
<circle cx="1347.3" cy="1917.4" r="10.0"/>
<circle cx="1347.3" cy="1926.6" r="10.0"/>
<circle cx="1347.3" cy="1935.7" r="10.0"/>
<circle cx="1347.3" cy="1941.9" r="10.0"/>
<circle cx="1347.3" cy="1950.5" r="10.0"/>
<circle cx="1347.3" cy="1957.6" r="10.0"/>
<circle cx="1347.3" cy="1963.6" r="10.0"/>
<circle cx="1347.3" cy="1974.4" r="10.0"/>
<circle cx="1347.3" cy="1981.4" r="10.0"/>
<circle cx="1347.3" cy="1990.3" r="10.0"/>
<circle cx="1347.3" cy="2000.6" r="10.0"/>
<circle cx="1347.3" cy="2011.5" r="10.0"/>
<circle cx="1347.3" cy="2043.8" r="10.0"/>
<circle cx="1347.3" cy="2051.8" r="10.0"/>
<circle cx="1347.3" cy="2060.9" r="10.0"/>
<circle cx="1347.3" cy="2070.2" r="10.0"/>
<circle cx="1347.3" cy="2080.9" r="10.0"/>
<circle cx="1347.3" cy="2087.5" r="10.0"/>
<circle cx="1347.3" cy="2096.9" r="10.0"/>
<circle cx="1347.3" cy="2104.4" r="10.0"/>
<circle cx="1347.3" cy="2112.1" r="10.0"/>
<circle cx="1347.3" cy="2118.4" r="10.0"/>
<circle cx="1413.6" cy="1936.4" r="10.0"/>
<circle cx="1413.6" cy="1945.4" r="10.0"/>
<circle cx="1413.6" cy="1954.8" r="10.0"/>
<circle cx="1413.6" cy="1965.4" r="10.0"/>
<circle cx="1413.6" cy="1976.9" r="10.0"/>
<circle cx="1413.6" cy="1985.5" r="10.0"/>
<circle cx="1413.6" cy="1995.2" r="10.0"/>
<circle cx="1413.6" cy="2004.2" r="10.0"/>
<circle cx="1413.6" cy="2013.3" r="10.0"/>
<circle cx="1413.6" cy="2023.6" r="10.0"/>
<circle cx="1413.6" cy="2098.9" r="10.0"/>
<circle cx="1413.6" cy="2107.6" r="10.0"/>
<circle cx="1413.6" cy="2114.3" r="10.0"/>
<circle cx="1479.9" cy="1950.0" r="10.0"/>
<circle cx="1479.9" cy="1958.9" r="10.0"/>
<circle cx="1479.9" cy="1970.5" r="10.0"/>
<circle cx="1479.9" cy="1980.7" r="10.0"/>
<circle cx="1479.9" cy="1992.0" r="10.0"/>
<circle cx="1479.9" cy="2003.6" r="10.0"/>
<circle cx="1479.9" cy="2011.2" r="10.0"/>
<circle cx="1479.9" cy="2018.0" r="10.0"/>
<circle cx="1479.9" cy="2044.0" r="10.0"/>
<circle cx="1479.9" cy="2079.1" r="10.0"/>
<circle cx="1546.0" cy="1938.3" r="10.0"/>
<circle cx="1546.0" cy="1950.0" r="10.0"/>
<circle cx="1546.0" cy="1961.0" r="10.0"/>
<circle cx="1546.0" cy="1967.8" r="10.0"/>
<circle cx="1546.0" cy="1974.6" r="10.0"/>
<circle cx="1546.0" cy="1983.2" r="10.0"/>
<circle cx="1546.0" cy="1989.6" r="10.0"/>
<circle cx="1546.0" cy="1997.1" r="10.0"/>
<circle cx="1546.0" cy="2003.5" r="10.0"/>
<circle cx="1546.0" cy="2013.5" r="10.0"/>
<circle cx="1546.0" cy="2024.2" r="10.0"/>
<circle cx="1546.0" cy="2030.2" r="10.0"/>
<circle cx="1546.0" cy="2097.6" r="10.0"/>
<circle cx="1546.0" cy="2119.3" r="10.0"/>
<circle cx="1612.1" cy="1954.2" r="10.0"/>
<circle cx="1612.1" cy="1961.1" r="10.0"/>
<circle cx="1612.1" cy="1971.4" r="10.0"/>
<circle cx="1612.1" cy="1981.4" r="10.0"/>
<circle cx="1612.1" cy="1988.2" r="10.0"/>
<circle cx="1612.1" cy="1999.5" r="10.0"/>
<circle cx="1612.1" cy="2011.3" r="10.0"/>
<circle cx="1612.1" cy="2019.0" r="10.0"/>
<circle cx="1612.1" cy="2045.1" r="10.0"/>
<circle cx="1612.1" cy="2055.4" r="10.0"/>
<circle cx="1612.1" cy="2078.6" r="10.0"/>
<circle cx="1678.4" cy="1959.4" r="10.0"/>
<circle cx="1678.4" cy="1967.8" r="10.0"/>
<circle cx="1678.4" cy="1976.7" r="10.0"/>
<circle cx="1678.4" cy="1988.7" r="10.0"/>
<circle cx="1678.4" cy="1999.6" r="10.0"/>
<circle cx="1678.4" cy="2006.6" r="10.0"/>
<circle cx="1678.4" cy="2015.2" r="10.0"/>
<circle cx="1678.4" cy="2024.3" r="10.0"/>
<circle cx="1678.4" cy="2032.3" r="10.0"/>
<circle cx="1678.4" cy="2039.5" r="10.0"/>
<circle cx="1678.4" cy="2047.4" r="10.0"/>
<circle cx="1678.4" cy="2057.8" r="10.0"/>
<circle cx="1678.4" cy="2063.9" r="10.0"/>
<circle cx="1678.4" cy="2071.8" r="10.0"/>
<circle cx="1678.4" cy="2107.0" r="10.0"/>
<circle cx="1678.4" cy="2113.7" r="10.0"/>
<circle cx="1744.8" cy="1932.7" r="10.0"/>
<circle cx="1744.8" cy="1938.8" r="10.0"/>
<circle cx="1744.8" cy="1942.4" r="10.0"/>
<circle cx="1744.8" cy="1981.1" r="10.0"/>
<circle cx="1744.8" cy="2003.7" r="10.0"/>
<circle cx="1744.8" cy="2009.6" r="10.0"/>
<circle cx="1744.8" cy="2040.3" r="10.0"/>
<circle cx="1744.8" cy="2079.5" r="10.0"/>
<circle cx="1811.0" cy="1948.9" r="10.0"/>
<circle cx="1811.0" cy="1954.9" r="10.0"/>
<circle cx="1811.0" cy="1982.4" r="10.0"/>
<circle cx="1811.0" cy="2001.0" r="10.0"/>
<circle cx="1811.0" cy="2034.1" r="10.0"/>
<circle cx="1811.0" cy="2056.2" r="10.0"/>
<circle cx="1877.2" cy="1977.9" r="10.0"/>
<circle cx="1877.2" cy="1984.3" r="10.0"/>
<circle cx="1877.2" cy="1996.2" r="10.0"/>
<circle cx="1877.2" cy="2008.7" r="10.0"/>
</g>
<line x1="1242.5" y1="1591.30" x2="1915.8" y2="1591.30" stroke="#A7A7A7" stroke-width="4.8" stroke-dasharray="66.3 30.00"/>
<line x1="1242.20" y1="991.20" x2="1242.20" y2="2192.70" stroke="#000" stroke-width="2.5" />
<line x1="1241.00" y1="2191.50" x2="1915.80" y2="2191.50" stroke="#000" stroke-width="2.5" />
<line x1="1230.20" y1="1045.10" x2="1242.20" y2="1045.10" stroke="#000" stroke-width="2.0" />
<line x1="1230.20" y1="1182.00" x2="1242.20" y2="1182.00" stroke="#000" stroke-width="2.0" />
<line x1="1230.20" y1="1318.20" x2="1242.20" y2="1318.20" stroke="#000" stroke-width="2.0" />
<line x1="1230.20" y1="1454.60" x2="1242.20" y2="1454.60" stroke="#000" stroke-width="2.0" />
<line x1="1230.20" y1="1591.30" x2="1242.20" y2="1591.30" stroke="#000" stroke-width="2.0" />
<line x1="1230.20" y1="1727.60" x2="1242.20" y2="1727.60" stroke="#000" stroke-width="2.0" />
<line x1="1230.20" y1="1864.10" x2="1242.20" y2="1864.10" stroke="#000" stroke-width="2.0" />
<line x1="1230.20" y1="2000.60" x2="1242.20" y2="2000.60" stroke="#000" stroke-width="2.0" />
<line x1="1230.20" y1="2137.10" x2="1242.20" y2="2137.10" stroke="#000" stroke-width="2.0" />
<line x1="1281.00" y1="2191.50" x2="1281.00" y2="2203.70" stroke="#000" stroke-width="2.0" />
<line x1="1347.30" y1="2191.50" x2="1347.30" y2="2203.70" stroke="#000" stroke-width="2.0" />
<line x1="1413.60" y1="2191.50" x2="1413.60" y2="2203.70" stroke="#000" stroke-width="2.0" />
<line x1="1479.90" y1="2191.50" x2="1479.90" y2="2203.70" stroke="#000" stroke-width="2.0" />
<line x1="1546.00" y1="2191.50" x2="1546.00" y2="2203.70" stroke="#000" stroke-width="2.0" />
<line x1="1612.10" y1="2191.50" x2="1612.10" y2="2203.70" stroke="#000" stroke-width="2.0" />
<line x1="1678.40" y1="2191.50" x2="1678.40" y2="2203.70" stroke="#000" stroke-width="2.0" />
<line x1="1744.80" y1="2191.50" x2="1744.80" y2="2203.70" stroke="#000" stroke-width="2.0" />
<line x1="1811.00" y1="2191.50" x2="1811.00" y2="2203.70" stroke="#000" stroke-width="2.0" />
<line x1="1877.20" y1="2191.50" x2="1877.20" y2="2203.70" stroke="#000" stroke-width="2.0" />
<text x="77.30" y="954.40" font-size="45" font-weight="bold">c</text>
<text x="168.80" y="1027.00" font-size="48.5">control, SG enrichment</text>
<text x="136.60" y="1067.00" font-size="48.5" text-anchor="end">4</text>
<text x="136.60" y="1201.50" font-size="48.5" text-anchor="end">3</text>
<text x="136.60" y="1335.50" font-size="48.5" text-anchor="end">2</text>
<text x="136.60" y="1471.50" font-size="48.5" text-anchor="end">1</text>
<text x="136.60" y="1606.50" font-size="48.5" text-anchor="end">0</text>
<text x="136.60" y="1742.50" font-size="48.5" text-anchor="end">-1</text>
<text x="136.60" y="1878.00" font-size="48.5" text-anchor="end">-2</text>
<text x="136.60" y="2013.50" font-size="48.5" text-anchor="end">-3</text>
<text x="136.60" y="2149.00" font-size="48.5" text-anchor="end">-4</text>
<text transform="translate(80.8,1933.4) rotate(-90)" font-size="48.5">log<tspan font-size="33.9" dy="9.6">2</tspan><tspan dy="-9.6">-fold change (SG/total mRNA)</tspan></text>
<text x="263.90" y="2382.20" font-size="48.5">transcript length (kb)</text>
<text transform="translate(189.3,2227.1) rotate(-45)" font-size="48.5" text-anchor="end">0-0.5</text>
<text transform="translate(268.4,2226.4) rotate(-45)" font-size="48.5" text-anchor="end">0.5-1</text>
<text transform="translate(332.1,2232.5) rotate(-45)" font-size="48.5" text-anchor="end">1-1.5</text>
<text transform="translate(409.0,2235.8) rotate(-45)" font-size="48.5" text-anchor="end">1.5-2</text>
<text transform="translate(488.8,2228.7) rotate(-45)" font-size="48.5" text-anchor="end">2-2.5</text>
<text transform="translate(565.7,2233.0) rotate(-45)" font-size="48.5" text-anchor="end">2.5-3</text>
<text transform="translate(636.0,2226.5) rotate(-45)" font-size="48.5" text-anchor="end">3-4</text>
<text transform="translate(693.2,2229.2) rotate(-45)" font-size="48.5" text-anchor="end">4-5</text>
<text transform="translate(757.5,2233.6) rotate(-45)" font-size="48.5" text-anchor="end">5-6</text>
<text transform="translate(834.5,2222.2) rotate(-45)" font-size="48.5" text-anchor="end">6+</text>
<text x="1196.60" y="964.30" font-size="47" font-weight="bold">d</text>
<text x="1251.70" y="1023.50" font-size="48.5">M3KO, SG enrichment</text>
<text x="1217.60" y="1067.00" font-size="48.5" text-anchor="end">4</text>
<text x="1217.60" y="1201.50" font-size="48.5" text-anchor="end">3</text>
<text x="1217.60" y="1335.50" font-size="48.5" text-anchor="end">2</text>
<text x="1217.60" y="1471.50" font-size="48.5" text-anchor="end">1</text>
<text x="1217.60" y="1606.50" font-size="48.5" text-anchor="end">0</text>
<text x="1217.60" y="1742.50" font-size="48.5" text-anchor="end">-1</text>
<text x="1217.60" y="1878.00" font-size="48.5" text-anchor="end">-2</text>
<text x="1217.60" y="2013.50" font-size="48.5" text-anchor="end">-3</text>
<text x="1217.60" y="2149.00" font-size="48.5" text-anchor="end">-4</text>
<text transform="translate(1160.8,1933.4) rotate(-90)" font-size="48.5">log<tspan font-size="33.9" dy="9.6">2</tspan><tspan dy="-9.6">-fold change (SG/total mRNA)</tspan></text>
<text x="1358.20" y="2398.70" font-size="48.5">transcript length (kb)</text>
<text transform="translate(1280.8,2230.3) rotate(-45)" font-size="48.5" text-anchor="end">0-0.5</text>
<text transform="translate(1359.9,2229.2) rotate(-45)" font-size="48.5" text-anchor="end">0.5-1</text>
<text transform="translate(1422.5,2237.5) rotate(-45)" font-size="48.5" text-anchor="end">1-1.5</text>
<text transform="translate(1501.1,2239.1) rotate(-45)" font-size="48.5" text-anchor="end">1.5-2</text>
<text transform="translate(1580.5,2231.4) rotate(-45)" font-size="48.5" text-anchor="end">2-2.5</text>
<text transform="translate(1656.8,2235.3) rotate(-45)" font-size="48.5" text-anchor="end">2.5-3</text>
<text transform="translate(1727.7,2228.1) rotate(-45)" font-size="48.5" text-anchor="end">3-4</text>
<text transform="translate(1784.3,2231.4) rotate(-45)" font-size="48.5" text-anchor="end">4-5</text>
<text transform="translate(1848.0,2236.4) rotate(-45)" font-size="48.5" text-anchor="end">5-6</text>
<text transform="translate(1925.4,2224.9) rotate(-45)" font-size="48.5" text-anchor="end">6+</text>
</svg>
</body></html>
